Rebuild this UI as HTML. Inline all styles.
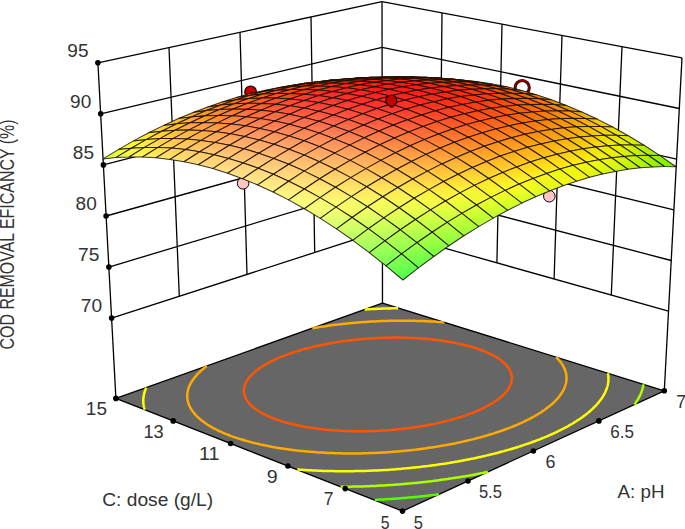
<!DOCTYPE html>
<html><head><meta charset="utf-8"><style>html,body{margin:0;padding:0;background:#fff;overflow:hidden;}svg{display:block;font-family:"Liberation Sans",sans-serif;}</style></head><body>
<svg width="685" height="529" viewBox="0 0 685 529">
<rect width="685" height="529" fill="#fff"/>
<defs><linearGradient id="g0" gradientUnits="userSpaceOnUse" x1="382.7" y1="84.3" x2="382.5" y2="80.7"><stop offset="0" stop-color="#c9f101"/><stop offset="1" stop-color="#f3df02"/></linearGradient><linearGradient id="g1" gradientUnits="userSpaceOnUse" x1="395.9" y1="79.0" x2="395.9" y2="82.0"><stop offset="0" stop-color="#f0c002"/><stop offset="1" stop-color="#e6ee01"/></linearGradient><linearGradient id="g2" gradientUnits="userSpaceOnUse" x1="370.0" y1="79.8" x2="370.1" y2="83.0"><stop offset="0" stop-color="#f3c602"/><stop offset="1" stop-color="#e4f101"/></linearGradient><linearGradient id="g3" gradientUnits="userSpaceOnUse" x1="409.4" y1="77.9" x2="409.4" y2="80.3"><stop offset="0" stop-color="#eea602"/><stop offset="1" stop-color="#ecd801"/></linearGradient><linearGradient id="g4" gradientUnits="userSpaceOnUse" x1="383.4" y1="78.1" x2="383.4" y2="80.6"><stop offset="0" stop-color="#f0a703"/><stop offset="1" stop-color="#eeda02"/></linearGradient><linearGradient id="g5" gradientUnits="userSpaceOnUse" x1="357.3" y1="79.4" x2="357.4" y2="82.0"><stop offset="0" stop-color="#f2af03"/><stop offset="1" stop-color="#f0e302"/></linearGradient><linearGradient id="g6" gradientUnits="userSpaceOnUse" x1="423.1" y1="77.4" x2="423.0" y2="79.2"><stop offset="0" stop-color="#ee9203"/><stop offset="1" stop-color="#ecc002"/></linearGradient><linearGradient id="g7" gradientUnits="userSpaceOnUse" x1="396.9" y1="77.0" x2="396.9" y2="78.9"><stop offset="0" stop-color="#f08f03"/><stop offset="1" stop-color="#eebe02"/></linearGradient><linearGradient id="g8" gradientUnits="userSpaceOnUse" x1="370.7" y1="77.7" x2="370.8" y2="79.7"><stop offset="0" stop-color="#f29303"/><stop offset="1" stop-color="#f0c302"/></linearGradient><linearGradient id="g9" gradientUnits="userSpaceOnUse" x1="344.5" y1="79.5" x2="344.6" y2="81.6"><stop offset="0" stop-color="#f49e04"/><stop offset="1" stop-color="#f2cf02"/></linearGradient><linearGradient id="g10" gradientUnits="userSpaceOnUse" x1="436.9" y1="77.6" x2="436.8" y2="78.8"><stop offset="0" stop-color="#ee8203"/><stop offset="1" stop-color="#ecab02"/></linearGradient><linearGradient id="g11" gradientUnits="userSpaceOnUse" x1="410.6" y1="76.6" x2="410.5" y2="77.9"><stop offset="0" stop-color="#f07b04"/><stop offset="1" stop-color="#eea602"/></linearGradient><linearGradient id="g12" gradientUnits="userSpaceOnUse" x1="384.2" y1="76.7" x2="384.2" y2="78.1"><stop offset="0" stop-color="#f27c04"/><stop offset="1" stop-color="#f0a703"/></linearGradient><linearGradient id="g13" gradientUnits="userSpaceOnUse" x1="357.9" y1="77.8" x2="357.9" y2="79.3"><stop offset="0" stop-color="#f48205"/><stop offset="1" stop-color="#f2af03"/></linearGradient><linearGradient id="g14" gradientUnits="userSpaceOnUse" x1="331.5" y1="80.1" x2="331.6" y2="81.7"><stop offset="0" stop-color="#f69005"/><stop offset="1" stop-color="#f4be03"/></linearGradient><linearGradient id="g15" gradientUnits="userSpaceOnUse" x1="450.9" y1="78.4" x2="450.8" y2="79.0"><stop offset="0" stop-color="#ee7603"/><stop offset="1" stop-color="#ec9b02"/></linearGradient><linearGradient id="g16" gradientUnits="userSpaceOnUse" x1="424.4" y1="76.8" x2="424.4" y2="77.5"><stop offset="0" stop-color="#f06c04"/><stop offset="1" stop-color="#ee9203"/></linearGradient><linearGradient id="g17" gradientUnits="userSpaceOnUse" x1="397.9" y1="76.3" x2="397.9" y2="77.0"><stop offset="0" stop-color="#f26805"/><stop offset="1" stop-color="#f09003"/></linearGradient><linearGradient id="g18" gradientUnits="userSpaceOnUse" x1="371.4" y1="76.8" x2="371.4" y2="77.7"><stop offset="0" stop-color="#f46b05"/><stop offset="1" stop-color="#f29303"/></linearGradient><linearGradient id="g19" gradientUnits="userSpaceOnUse" x1="318.3" y1="81.2" x2="318.4" y2="82.3"><stop offset="0" stop-color="#f88507"/><stop offset="1" stop-color="#f6af04"/></linearGradient><linearGradient id="g20" gradientUnits="userSpaceOnUse" x1="344.9" y1="78.5" x2="344.9" y2="79.4"><stop offset="0" stop-color="#f67506"/><stop offset="1" stop-color="#f49e04"/></linearGradient><linearGradient id="g21" gradientUnits="userSpaceOnUse" x1="465.0" y1="79.9" x2="465.0" y2="79.9"><stop offset="0" stop-color="#ee6b04"/><stop offset="1" stop-color="#ec8903"/></linearGradient><linearGradient id="g22" gradientUnits="userSpaceOnUse" x1="438.4" y1="77.7" x2="438.4" y2="77.7"><stop offset="0" stop-color="#ef6a04"/><stop offset="1" stop-color="#ee7803"/></linearGradient><linearGradient id="g23" gradientUnits="userSpaceOnUse" x1="411.8" y1="76.5" x2="411.8" y2="76.6"><stop offset="0" stop-color="#f25d05"/><stop offset="1" stop-color="#f07d03"/></linearGradient><linearGradient id="g24" gradientUnits="userSpaceOnUse" x1="385.1" y1="76.5" x2="385.1" y2="76.6"><stop offset="0" stop-color="#f45906"/><stop offset="1" stop-color="#f27d04"/></linearGradient><linearGradient id="g25" gradientUnits="userSpaceOnUse" x1="305.0" y1="82.8" x2="305.1" y2="83.4"><stop offset="0" stop-color="#fa7d08"/><stop offset="1" stop-color="#f7a405"/></linearGradient><linearGradient id="g26" gradientUnits="userSpaceOnUse" x1="358.4" y1="77.5" x2="358.4" y2="77.8"><stop offset="0" stop-color="#f65e07"/><stop offset="1" stop-color="#f48305"/></linearGradient><linearGradient id="g27" gradientUnits="userSpaceOnUse" x1="331.7" y1="79.6" x2="331.7" y2="80.0"><stop offset="0" stop-color="#f86a08"/><stop offset="1" stop-color="#f69005"/></linearGradient><linearGradient id="g28" gradientUnits="userSpaceOnUse" x1="479.2" y1="82.1" x2="479.3" y2="81.4"><stop offset="0" stop-color="#ee6804"/><stop offset="1" stop-color="#ec8503"/></linearGradient><linearGradient id="g29" gradientUnits="userSpaceOnUse" x1="452.5" y1="79.2" x2="452.6" y2="78.6"><stop offset="0" stop-color="#f05705"/><stop offset="1" stop-color="#ee7503"/></linearGradient><linearGradient id="g30" gradientUnits="userSpaceOnUse" x1="425.8" y1="77.5" x2="425.8" y2="76.9"><stop offset="0" stop-color="#f24c06"/><stop offset="1" stop-color="#f06b04"/></linearGradient><linearGradient id="g31" gradientUnits="userSpaceOnUse" x1="399.0" y1="76.8" x2="399.0" y2="76.3"><stop offset="0" stop-color="#f44707"/><stop offset="1" stop-color="#f26705"/></linearGradient><linearGradient id="g32" gradientUnits="userSpaceOnUse" x1="291.5" y1="85.0" x2="291.6" y2="85.0"><stop offset="0" stop-color="#fc750b"/><stop offset="1" stop-color="#fa9907"/></linearGradient><linearGradient id="g33" gradientUnits="userSpaceOnUse" x1="372.1" y1="77.2" x2="372.1" y2="76.8"><stop offset="0" stop-color="#f64908"/><stop offset="1" stop-color="#f46a06"/></linearGradient><linearGradient id="g34" gradientUnits="userSpaceOnUse" x1="318.4" y1="81.3" x2="318.4" y2="81.2"><stop offset="0" stop-color="#fa610a"/><stop offset="1" stop-color="#f88107"/></linearGradient><linearGradient id="g35" gradientUnits="userSpaceOnUse" x1="345.3" y1="78.7" x2="345.2" y2="78.4"><stop offset="0" stop-color="#f85209"/><stop offset="1" stop-color="#f67306"/></linearGradient><linearGradient id="g36" gradientUnits="userSpaceOnUse" x1="493.6" y1="84.9" x2="493.9" y2="83.7"><stop offset="0" stop-color="#ee6705"/><stop offset="1" stop-color="#ec8003"/></linearGradient><linearGradient id="g37" gradientUnits="userSpaceOnUse" x1="466.8" y1="81.5" x2="467.0" y2="80.2"><stop offset="0" stop-color="#f05306"/><stop offset="1" stop-color="#ee6c04"/></linearGradient><linearGradient id="g38" gradientUnits="userSpaceOnUse" x1="439.9" y1="79.1" x2="440.0" y2="77.8"><stop offset="0" stop-color="#f24407"/><stop offset="1" stop-color="#f05f05"/></linearGradient><linearGradient id="g39" gradientUnits="userSpaceOnUse" x1="413.0" y1="77.7" x2="413.0" y2="76.6"><stop offset="0" stop-color="#f43c08"/><stop offset="1" stop-color="#f25806"/></linearGradient><linearGradient id="g40" gradientUnits="userSpaceOnUse" x1="386.0" y1="77.5" x2="386.0" y2="76.5"><stop offset="0" stop-color="#f63b0a"/><stop offset="1" stop-color="#f45706"/></linearGradient><linearGradient id="g41" gradientUnits="userSpaceOnUse" x1="277.9" y1="87.7" x2="277.8" y2="87.2"><stop offset="0" stop-color="#fe760d"/><stop offset="1" stop-color="#fc9709"/></linearGradient><linearGradient id="g42" gradientUnits="userSpaceOnUse" x1="359.0" y1="78.4" x2="358.9" y2="77.5"><stop offset="0" stop-color="#f8400b"/><stop offset="1" stop-color="#f65d07"/></linearGradient><linearGradient id="g43" gradientUnits="userSpaceOnUse" x1="304.9" y1="83.5" x2="304.8" y2="82.8"><stop offset="0" stop-color="#fc5e0d"/><stop offset="1" stop-color="#fa7c08"/></linearGradient><linearGradient id="g44" gradientUnits="userSpaceOnUse" x1="332.0" y1="80.4" x2="331.9" y2="79.6"><stop offset="0" stop-color="#fa4c0c"/><stop offset="1" stop-color="#f86908"/></linearGradient><linearGradient id="g45" gradientUnits="userSpaceOnUse" x1="508.1" y1="88.7" x2="508.7" y2="86.4"><stop offset="0" stop-color="#ef6705"/><stop offset="1" stop-color="#ec8303"/></linearGradient><linearGradient id="g46" gradientUnits="userSpaceOnUse" x1="481.2" y1="84.3" x2="481.6" y2="82.5"><stop offset="0" stop-color="#f05206"/><stop offset="1" stop-color="#ee6804"/></linearGradient><linearGradient id="g47" gradientUnits="userSpaceOnUse" x1="454.2" y1="81.3" x2="454.4" y2="79.5"><stop offset="0" stop-color="#f24008"/><stop offset="1" stop-color="#f05705"/></linearGradient><linearGradient id="g48" gradientUnits="userSpaceOnUse" x1="427.1" y1="79.4" x2="427.3" y2="77.6"><stop offset="0" stop-color="#f43509"/><stop offset="1" stop-color="#f24c06"/></linearGradient><linearGradient id="g49" gradientUnits="userSpaceOnUse" x1="400.0" y1="78.6" x2="400.0" y2="76.8"><stop offset="0" stop-color="#f6300b"/><stop offset="1" stop-color="#f44807"/></linearGradient><linearGradient id="g50" gradientUnits="userSpaceOnUse" x1="264.2" y1="91.1" x2="263.9" y2="89.8"><stop offset="0" stop-color="#ff7611"/><stop offset="1" stop-color="#fd980b"/></linearGradient><linearGradient id="g51" gradientUnits="userSpaceOnUse" x1="372.9" y1="78.8" x2="372.8" y2="77.2"><stop offset="0" stop-color="#f8320c"/><stop offset="1" stop-color="#f64a08"/></linearGradient><linearGradient id="g52" gradientUnits="userSpaceOnUse" x1="291.4" y1="86.3" x2="291.1" y2="85.0"><stop offset="0" stop-color="#fe5d10"/><stop offset="1" stop-color="#fc790b"/></linearGradient><linearGradient id="g53" gradientUnits="userSpaceOnUse" x1="345.7" y1="80.2" x2="345.5" y2="78.7"><stop offset="0" stop-color="#fa3a0e"/><stop offset="1" stop-color="#f85309"/></linearGradient><linearGradient id="g54" gradientUnits="userSpaceOnUse" x1="318.5" y1="82.7" x2="318.3" y2="81.3"><stop offset="0" stop-color="#fc490f"/><stop offset="1" stop-color="#fa620a"/></linearGradient><linearGradient id="g55" gradientUnits="userSpaceOnUse" x1="522.4" y1="93.4" x2="523.8" y2="89.5"><stop offset="0" stop-color="#ef6a06"/><stop offset="1" stop-color="#ec8a03"/></linearGradient><linearGradient id="g56" gradientUnits="userSpaceOnUse" x1="495.6" y1="88.3" x2="496.5" y2="85.1"><stop offset="0" stop-color="#f15207"/><stop offset="1" stop-color="#ee6b04"/></linearGradient><linearGradient id="g57" gradientUnits="userSpaceOnUse" x1="468.6" y1="84.2" x2="469.1" y2="81.8"><stop offset="0" stop-color="#f24008"/><stop offset="1" stop-color="#f05306"/></linearGradient><linearGradient id="g58" gradientUnits="userSpaceOnUse" x1="441.4" y1="81.7" x2="441.7" y2="79.3"><stop offset="0" stop-color="#f4320a"/><stop offset="1" stop-color="#f24407"/></linearGradient><linearGradient id="g59" gradientUnits="userSpaceOnUse" x1="414.2" y1="80.3" x2="414.3" y2="77.8"><stop offset="0" stop-color="#f62a0c"/><stop offset="1" stop-color="#f43d08"/></linearGradient><linearGradient id="g60" gradientUnits="userSpaceOnUse" x1="250.4" y1="95.0" x2="249.8" y2="93.0"><stop offset="0" stop-color="#ff7915"/><stop offset="1" stop-color="#ff9b0d"/></linearGradient><linearGradient id="g61" gradientUnits="userSpaceOnUse" x1="386.9" y1="79.9" x2="386.9" y2="77.5"><stop offset="0" stop-color="#f8280e"/><stop offset="1" stop-color="#f63b0a"/></linearGradient><linearGradient id="g62" gradientUnits="userSpaceOnUse" x1="277.7" y1="89.8" x2="277.1" y2="87.6"><stop offset="0" stop-color="#ff5d14"/><stop offset="1" stop-color="#fe7b0c"/></linearGradient><linearGradient id="g63" gradientUnits="userSpaceOnUse" x1="359.6" y1="80.7" x2="359.4" y2="78.4"><stop offset="0" stop-color="#fa2d10"/><stop offset="1" stop-color="#f8400b"/></linearGradient><linearGradient id="g64" gradientUnits="userSpaceOnUse" x1="305.0" y1="85.6" x2="304.5" y2="83.4"><stop offset="0" stop-color="#fe4713"/><stop offset="1" stop-color="#fc600c"/></linearGradient><linearGradient id="g65" gradientUnits="userSpaceOnUse" x1="332.3" y1="82.5" x2="332.0" y2="80.4"><stop offset="0" stop-color="#fc3811"/><stop offset="1" stop-color="#fa4c0c"/></linearGradient><linearGradient id="g66" gradientUnits="userSpaceOnUse" x1="536.5" y1="99.2" x2="539.6" y2="93.1"><stop offset="0" stop-color="#f07106"/><stop offset="1" stop-color="#eb9503"/></linearGradient><linearGradient id="g67" gradientUnits="userSpaceOnUse" x1="509.8" y1="93.4" x2="511.9" y2="88.0"><stop offset="0" stop-color="#f25508"/><stop offset="1" stop-color="#ee7204"/></linearGradient><linearGradient id="g68" gradientUnits="userSpaceOnUse" x1="482.8" y1="88.5" x2="484.2" y2="84.2"><stop offset="0" stop-color="#f34009"/><stop offset="1" stop-color="#f05706"/></linearGradient><linearGradient id="g69" gradientUnits="userSpaceOnUse" x1="455.8" y1="84.7" x2="456.5" y2="81.6"><stop offset="0" stop-color="#f4320b"/><stop offset="1" stop-color="#f24108"/></linearGradient><linearGradient id="g70" gradientUnits="userSpaceOnUse" x1="428.5" y1="82.6" x2="428.8" y2="79.6"><stop offset="0" stop-color="#f6270d"/><stop offset="1" stop-color="#f43509"/></linearGradient><linearGradient id="g71" gradientUnits="userSpaceOnUse" x1="236.6" y1="99.8" x2="235.3" y2="96.5"><stop offset="0" stop-color="#ff7d1a"/><stop offset="1" stop-color="#ffa20e"/></linearGradient><linearGradient id="g72" gradientUnits="userSpaceOnUse" x1="401.1" y1="81.7" x2="401.2" y2="78.6"><stop offset="0" stop-color="#f8220f"/><stop offset="1" stop-color="#f6310b"/></linearGradient><linearGradient id="g73" gradientUnits="userSpaceOnUse" x1="550.0" y1="105.9" x2="556.2" y2="97.3"><stop offset="0" stop-color="#f17b07"/><stop offset="1" stop-color="#eba403"/></linearGradient><linearGradient id="g74" gradientUnits="userSpaceOnUse" x1="264.0" y1="94.1" x2="262.8" y2="90.6"><stop offset="0" stop-color="#ff6019"/><stop offset="1" stop-color="#ff7f0f"/></linearGradient><linearGradient id="g75" gradientUnits="userSpaceOnUse" x1="373.7" y1="81.8" x2="373.5" y2="78.8"><stop offset="0" stop-color="#fa2312"/><stop offset="1" stop-color="#f8320c"/></linearGradient><linearGradient id="g76" gradientUnits="userSpaceOnUse" x1="291.5" y1="89.4" x2="290.4" y2="85.8"><stop offset="0" stop-color="#ff4818"/><stop offset="1" stop-color="#fe620e"/></linearGradient><linearGradient id="g77" gradientUnits="userSpaceOnUse" x1="346.3" y1="83.0" x2="345.8" y2="80.2"><stop offset="0" stop-color="#fc2b14"/><stop offset="1" stop-color="#fa3a0e"/></linearGradient><linearGradient id="g78" gradientUnits="userSpaceOnUse" x1="318.9" y1="85.8" x2="318.0" y2="82.3"><stop offset="0" stop-color="#fe3616"/><stop offset="1" stop-color="#fc4c0e"/></linearGradient><linearGradient id="g79" gradientUnits="userSpaceOnUse" x1="523.3" y1="99.5" x2="528.3" y2="91.4"><stop offset="0" stop-color="#f35c09"/><stop offset="1" stop-color="#ed7e04"/></linearGradient><linearGradient id="g80" gradientUnits="userSpaceOnUse" x1="496.5" y1="94.1" x2="500.2" y2="86.8"><stop offset="0" stop-color="#f4430b"/><stop offset="1" stop-color="#ef5e05"/></linearGradient><linearGradient id="g81" gradientUnits="userSpaceOnUse" x1="469.7" y1="89.6" x2="471.9" y2="83.6"><stop offset="0" stop-color="#f5320c"/><stop offset="1" stop-color="#f24507"/></linearGradient><linearGradient id="g82" gradientUnits="userSpaceOnUse" x1="442.7" y1="85.9" x2="443.7" y2="81.8"><stop offset="0" stop-color="#f7270e"/><stop offset="1" stop-color="#f4330a"/></linearGradient><linearGradient id="g83" gradientUnits="userSpaceOnUse" x1="562.4" y1="112.9" x2="574.3" y2="102.5"><stop offset="0" stop-color="#f28907"/><stop offset="1" stop-color="#eab602"/></linearGradient><linearGradient id="g84" gradientUnits="userSpaceOnUse" x1="222.9" y1="105.4" x2="220.5" y2="100.4"><stop offset="0" stop-color="#ff8420"/><stop offset="1" stop-color="#ffac10"/></linearGradient><linearGradient id="g85" gradientUnits="userSpaceOnUse" x1="415.4" y1="84.1" x2="415.7" y2="80.4"><stop offset="0" stop-color="#f81f11"/><stop offset="1" stop-color="#f62a0c"/></linearGradient><linearGradient id="g86" gradientUnits="userSpaceOnUse" x1="250.5" y1="99.3" x2="248.0" y2="93.8"><stop offset="0" stop-color="#ff6520"/><stop offset="1" stop-color="#ff8710"/></linearGradient><linearGradient id="g87" gradientUnits="userSpaceOnUse" x1="387.9" y1="83.7" x2="387.7" y2="79.9"><stop offset="0" stop-color="#fa1e13"/><stop offset="1" stop-color="#f8280e"/></linearGradient><linearGradient id="g88" gradientUnits="userSpaceOnUse" x1="278.1" y1="94.1" x2="275.8" y2="88.5"><stop offset="0" stop-color="#ff4b1f"/><stop offset="1" stop-color="#ff6810"/></linearGradient><linearGradient id="g89" gradientUnits="userSpaceOnUse" x1="360.5" y1="84.4" x2="359.7" y2="80.4"><stop offset="0" stop-color="#fc2216"/><stop offset="1" stop-color="#fa2d0f"/></linearGradient><linearGradient id="g90" gradientUnits="userSpaceOnUse" x1="535.5" y1="106.2" x2="546.3" y2="95.6"><stop offset="0" stop-color="#f46609"/><stop offset="1" stop-color="#ec8d03"/></linearGradient><linearGradient id="g91" gradientUnits="userSpaceOnUse" x1="305.7" y1="90.2" x2="303.5" y2="84.2"><stop offset="0" stop-color="#ff371d"/><stop offset="1" stop-color="#fe4f0f"/></linearGradient><linearGradient id="g92" gradientUnits="userSpaceOnUse" x1="333.3" y1="87.1" x2="331.4" y2="81.3"><stop offset="0" stop-color="#ff291b"/><stop offset="1" stop-color="#fb3c0f"/></linearGradient><linearGradient id="g93" gradientUnits="userSpaceOnUse" x1="508.7" y1="100.6" x2="518.0" y2="89.9"><stop offset="0" stop-color="#f54a0c"/><stop offset="1" stop-color="#ee6a04"/></linearGradient><linearGradient id="g94" gradientUnits="userSpaceOnUse" x1="482.1" y1="95.9" x2="489.3" y2="85.5"><stop offset="0" stop-color="#f7350f"/><stop offset="1" stop-color="#f14e06"/></linearGradient><linearGradient id="g95" gradientUnits="userSpaceOnUse" x1="573.8" y1="119.1" x2="593.5" y2="110.1"><stop offset="0" stop-color="#f29c07"/><stop offset="1" stop-color="#ebcc02"/></linearGradient><linearGradient id="g96" gradientUnits="userSpaceOnUse" x1="455.6" y1="91.9" x2="460.3" y2="82.8"><stop offset="0" stop-color="#f82611"/><stop offset="1" stop-color="#f33808"/></linearGradient><linearGradient id="g97" gradientUnits="userSpaceOnUse" x1="209.4" y1="111.7" x2="205.0" y2="104.7"><stop offset="0" stop-color="#ff8e28"/><stop offset="1" stop-color="#ffb911"/></linearGradient><linearGradient id="g98" gradientUnits="userSpaceOnUse" x1="429.2" y1="88.1" x2="431.1" y2="82.0"><stop offset="0" stop-color="#f91f13"/><stop offset="1" stop-color="#f6280c"/></linearGradient><linearGradient id="g99" gradientUnits="userSpaceOnUse" x1="546.3" y1="111.9" x2="565.9" y2="102.4"><stop offset="0" stop-color="#f47509"/><stop offset="1" stop-color="#ec9f03"/></linearGradient><linearGradient id="g100" gradientUnits="userSpaceOnUse" x1="237.5" y1="105.4" x2="232.4" y2="97.3"><stop offset="0" stop-color="#ff6d28"/><stop offset="1" stop-color="#ff9211"/></linearGradient><linearGradient id="g101" gradientUnits="userSpaceOnUse" x1="402.2" y1="86.2" x2="402.3" y2="81.7"><stop offset="0" stop-color="#fb1c15"/><stop offset="1" stop-color="#f8220f"/></linearGradient><linearGradient id="g102" gradientUnits="userSpaceOnUse" x1="265.7" y1="100.1" x2="259.8" y2="91.0"><stop offset="0" stop-color="#ff5128"/><stop offset="1" stop-color="#ff7110"/></linearGradient><linearGradient id="g103" gradientUnits="userSpaceOnUse" x1="375.4" y1="87.5" x2="373.3" y2="80.4"><stop offset="0" stop-color="#fd1b1a"/><stop offset="1" stop-color="#f9250f"/></linearGradient><linearGradient id="g104" gradientUnits="userSpaceOnUse" x1="293.7" y1="95.8" x2="287.5" y2="86.1"><stop offset="0" stop-color="#ff3b27"/><stop offset="1" stop-color="#ff5610"/></linearGradient><linearGradient id="g105" gradientUnits="userSpaceOnUse" x1="349.9" y1="90.8" x2="343.0" y2="79.5"><stop offset="0" stop-color="#ff1f21"/><stop offset="1" stop-color="#fa310d"/></linearGradient><linearGradient id="g106" gradientUnits="userSpaceOnUse" x1="322.0" y1="92.8" x2="315.1" y2="82.1"><stop offset="0" stop-color="#ff2a25"/><stop offset="1" stop-color="#fd410e"/></linearGradient><linearGradient id="g107" gradientUnits="userSpaceOnUse" x1="518.6" y1="105.8" x2="538.3" y2="95.8"><stop offset="0" stop-color="#f6550c"/><stop offset="1" stop-color="#ee7904"/></linearGradient><linearGradient id="g108" gradientUnits="userSpaceOnUse" x1="490.7" y1="100.8" x2="510.7" y2="90.4"><stop offset="0" stop-color="#f73c10"/><stop offset="1" stop-color="#f05906"/></linearGradient><linearGradient id="g109" gradientUnits="userSpaceOnUse" x1="586.0" y1="123.8" x2="612.2" y2="120.7"><stop offset="0" stop-color="#f2b207"/><stop offset="1" stop-color="#ece603"/></linearGradient><linearGradient id="g110" gradientUnits="userSpaceOnUse" x1="462.5" y1="96.8" x2="483.2" y2="86.2"><stop offset="0" stop-color="#f92a13"/><stop offset="1" stop-color="#f24007"/></linearGradient><linearGradient id="g111" gradientUnits="userSpaceOnUse" x1="196.4" y1="118.7" x2="188.7" y2="109.6"><stop offset="0" stop-color="#ff9b30"/><stop offset="1" stop-color="#ffc912"/></linearGradient><linearGradient id="g112" gradientUnits="userSpaceOnUse" x1="558.0" y1="115.2" x2="585.0" y2="113.1"><stop offset="0" stop-color="#f38809"/><stop offset="1" stop-color="#eeb504"/></linearGradient><linearGradient id="g113" gradientUnits="userSpaceOnUse" x1="433.4" y1="93.4" x2="456.4" y2="83.8"><stop offset="0" stop-color="#fb1f17"/><stop offset="1" stop-color="#f42e0a"/></linearGradient><linearGradient id="g114" gradientUnits="userSpaceOnUse" x1="225.7" y1="112.0" x2="215.2" y2="101.4"><stop offset="0" stop-color="#ff7732"/><stop offset="1" stop-color="#ffa011"/></linearGradient><linearGradient id="g115" gradientUnits="userSpaceOnUse" x1="403.1" y1="84.5" x2="430.6" y2="89.2"><stop offset="0" stop-color="#fa1d13"/><stop offset="1" stop-color="#f92014"/></linearGradient><linearGradient id="g116" gradientUnits="userSpaceOnUse" x1="255.9" y1="106.1" x2="241.0" y2="94.7"><stop offset="0" stop-color="#ff5a32"/><stop offset="1" stop-color="#ff7d11"/></linearGradient><linearGradient id="g117" gradientUnits="userSpaceOnUse" x1="393.1" y1="79.7" x2="384.5" y2="92.7"><stop offset="0" stop-color="#f81f0e"/><stop offset="1" stop-color="#ff1b20"/></linearGradient><linearGradient id="g118" gradientUnits="userSpaceOnUse" x1="529.9" y1="107.2" x2="557.6" y2="107.0"><stop offset="0" stop-color="#f4650b"/><stop offset="1" stop-color="#f08a06"/></linearGradient><linearGradient id="g119" gradientUnits="userSpaceOnUse" x1="286.8" y1="100.4" x2="266.2" y2="90.1"><stop offset="0" stop-color="#ff422f"/><stop offset="1" stop-color="#ff6012"/></linearGradient><linearGradient id="g120" gradientUnits="userSpaceOnUse" x1="369.1" y1="79.6" x2="352.3" y2="93.9"><stop offset="0" stop-color="#fa210e"/><stop offset="1" stop-color="#ff2225"/></linearGradient><linearGradient id="g121" gradientUnits="userSpaceOnUse" x1="317.4" y1="94.4" x2="291.7" y2="88.1"><stop offset="0" stop-color="#ff3127"/><stop offset="1" stop-color="#ff4716"/></linearGradient><linearGradient id="g122" gradientUnits="userSpaceOnUse" x1="346.5" y1="86.3" x2="318.7" y2="90.5"><stop offset="0" stop-color="#fe261a"/><stop offset="1" stop-color="#ff3220"/></linearGradient><linearGradient id="g123" gradientUnits="userSpaceOnUse" x1="610.2" y1="121.4" x2="619.3" y2="139.8"><stop offset="0" stop-color="#e8da03"/><stop offset="1" stop-color="#ecec06"/></linearGradient><linearGradient id="g124" gradientUnits="userSpaceOnUse" x1="501.8" y1="99.4" x2="529.9" y2="103.0"><stop offset="0" stop-color="#f5490d"/><stop offset="1" stop-color="#f36609"/></linearGradient><linearGradient id="g125" gradientUnits="userSpaceOnUse" x1="475.1" y1="91.3" x2="500.6" y2="101.7"><stop offset="0" stop-color="#f5350d"/><stop offset="1" stop-color="#f6480e"/></linearGradient><linearGradient id="g126" gradientUnits="userSpaceOnUse" x1="573.0" y1="118.3" x2="601.1" y2="125.4"><stop offset="0" stop-color="#f2a007"/><stop offset="1" stop-color="#f0ce05"/></linearGradient><linearGradient id="g127" gradientUnits="userSpaceOnUse" x1="184.0" y1="125.8" x2="171.7" y2="115.5"><stop offset="0" stop-color="#ffaa37"/><stop offset="1" stop-color="#ffdb14"/></linearGradient><linearGradient id="g128" gradientUnits="userSpaceOnUse" x1="452.6" y1="85.1" x2="467.0" y2="100.7"><stop offset="0" stop-color="#f5280c"/><stop offset="1" stop-color="#fa3116"/></linearGradient><linearGradient id="g129" gradientUnits="userSpaceOnUse" x1="215.2" y1="117.7" x2="196.5" y2="107.7"><stop offset="0" stop-color="#ff8539"/><stop offset="1" stop-color="#ffb015"/></linearGradient><linearGradient id="g130" gradientUnits="userSpaceOnUse" x1="430.4" y1="85.9" x2="432.9" y2="94.9"><stop offset="0" stop-color="#f82010"/><stop offset="1" stop-color="#fb2319"/></linearGradient><linearGradient id="g131" gradientUnits="userSpaceOnUse" x1="545.8" y1="109.0" x2="572.5" y2="119.3"><stop offset="0" stop-color="#f37909"/><stop offset="1" stop-color="#f2a008"/></linearGradient><linearGradient id="g132" gradientUnits="userSpaceOnUse" x1="247.4" y1="107.5" x2="220.5" y2="104.2"><stop offset="0" stop-color="#ff6831"/><stop offset="1" stop-color="#ff8a1c"/></linearGradient><linearGradient id="g133" gradientUnits="userSpaceOnUse" x1="403.5" y1="86.2" x2="403.3" y2="92.1"><stop offset="0" stop-color="#fa1c15"/><stop offset="1" stop-color="#fd1e1c"/></linearGradient><linearGradient id="g134" gradientUnits="userSpaceOnUse" x1="642.1" y1="136.6" x2="618.9" y2="143.0"><stop offset="0" stop-color="#beed03"/><stop offset="1" stop-color="#edef06"/></linearGradient><linearGradient id="g135" gradientUnits="userSpaceOnUse" x1="275.3" y1="95.1" x2="249.0" y2="105.3"><stop offset="0" stop-color="#ff5120"/><stop offset="1" stop-color="#ff682c"/></linearGradient><linearGradient id="g136" gradientUnits="userSpaceOnUse" x1="375.9" y1="85.9" x2="374.5" y2="92.2"><stop offset="0" stop-color="#fc1d18"/><stop offset="1" stop-color="#ff2021"/></linearGradient><linearGradient id="g137" gradientUnits="userSpaceOnUse" x1="298.7" y1="87.6" x2="282.0" y2="103.7"><stop offset="0" stop-color="#ff3d17"/><stop offset="1" stop-color="#ff4d33"/></linearGradient><linearGradient id="g138" gradientUnits="userSpaceOnUse" x1="349.1" y1="84.5" x2="344.7" y2="95.6"><stop offset="0" stop-color="#fe2317"/><stop offset="1" stop-color="#ff2a28"/></linearGradient><linearGradient id="g139" gradientUnits="userSpaceOnUse" x1="323.3" y1="84.9" x2="313.9" y2="99.7"><stop offset="0" stop-color="#ff2e16"/><stop offset="1" stop-color="#ff392f"/></linearGradient><linearGradient id="g140" gradientUnits="userSpaceOnUse" x1="519.6" y1="100.6" x2="542.8" y2="114.6"><stop offset="0" stop-color="#f35a0a"/><stop offset="1" stop-color="#f5780b"/></linearGradient><linearGradient id="g141" gradientUnits="userSpaceOnUse" x1="589.9" y1="123.7" x2="615.5" y2="137.0"><stop offset="0" stop-color="#f1bb06"/><stop offset="1" stop-color="#f1ec06"/></linearGradient><linearGradient id="g142" gradientUnits="userSpaceOnUse" x1="495.0" y1="93.9" x2="511.1" y2="110.5"><stop offset="0" stop-color="#f4420b"/><stop offset="1" stop-color="#f85611"/></linearGradient><linearGradient id="g143" gradientUnits="userSpaceOnUse" x1="471.1" y1="90.7" x2="478.6" y2="105.1"><stop offset="0" stop-color="#f6300d"/><stop offset="1" stop-color="#fa3d15"/></linearGradient><linearGradient id="g144" gradientUnits="userSpaceOnUse" x1="171.7" y1="132.7" x2="154.1" y2="122.9"><stop offset="0" stop-color="#ffbb3e"/><stop offset="1" stop-color="#ffee18"/></linearGradient><linearGradient id="g145" gradientUnits="userSpaceOnUse" x1="563.4" y1="114.2" x2="586.1" y2="129.8"><stop offset="0" stop-color="#f29008"/><stop offset="1" stop-color="#f3b908"/></linearGradient><linearGradient id="g146" gradientUnits="userSpaceOnUse" x1="445.7" y1="90.7" x2="447.5" y2="98.9"><stop offset="0" stop-color="#f82512"/><stop offset="1" stop-color="#fb2b19"/></linearGradient><linearGradient id="g147" gradientUnits="userSpaceOnUse" x1="204.2" y1="121.5" x2="178.0" y2="117.1"><stop offset="0" stop-color="#ff963a"/><stop offset="1" stop-color="#ffc11e"/></linearGradient><linearGradient id="g148" gradientUnits="userSpaceOnUse" x1="659.4" y1="148.3" x2="633.3" y2="151.3"><stop offset="0" stop-color="#97ed03"/><stop offset="1" stop-color="#cef205"/></linearGradient><linearGradient id="g149" gradientUnits="userSpaceOnUse" x1="418.1" y1="89.5" x2="418.3" y2="96.3"><stop offset="0" stop-color="#fb1d16"/><stop offset="1" stop-color="#fd241d"/></linearGradient><linearGradient id="g150" gradientUnits="userSpaceOnUse" x1="232.7" y1="106.6" x2="205.9" y2="117.2"><stop offset="0" stop-color="#ff7928"/><stop offset="1" stop-color="#ff9831"/></linearGradient><linearGradient id="g151" gradientUnits="userSpaceOnUse" x1="537.7" y1="106.1" x2="555.6" y2="123.4"><stop offset="0" stop-color="#f36d09"/><stop offset="1" stop-color="#f68e0c"/></linearGradient><linearGradient id="g152" gradientUnits="userSpaceOnUse" x1="390.1" y1="88.9" x2="389.5" y2="95.3"><stop offset="0" stop-color="#fd1c1a"/><stop offset="1" stop-color="#ff2322"/></linearGradient><linearGradient id="g153" gradientUnits="userSpaceOnUse" x1="255.3" y1="97.1" x2="240.0" y2="114.3"><stop offset="0" stop-color="#ff601d"/><stop offset="1" stop-color="#ff763b"/></linearGradient><linearGradient id="g154" gradientUnits="userSpaceOnUse" x1="361.9" y1="89.4" x2="360.8" y2="95.6"><stop offset="0" stop-color="#ff211e"/><stop offset="1" stop-color="#ff2827"/></linearGradient><linearGradient id="g155" gradientUnits="userSpaceOnUse" x1="279.9" y1="93.1" x2="272.2" y2="108.2"><stop offset="0" stop-color="#ff491d"/><stop offset="1" stop-color="#ff5b39"/></linearGradient><linearGradient id="g156" gradientUnits="userSpaceOnUse" x1="334.1" y1="89.5" x2="331.7" y2="98.5"><stop offset="0" stop-color="#ff291f"/><stop offset="1" stop-color="#ff342d"/></linearGradient><linearGradient id="g157" gradientUnits="userSpaceOnUse" x1="306.6" y1="90.8" x2="302.3" y2="102.7"><stop offset="0" stop-color="#ff371f"/><stop offset="1" stop-color="#ff4533"/></linearGradient><linearGradient id="g158" gradientUnits="userSpaceOnUse" x1="612.1" y1="129.8" x2="624.9" y2="149.4"><stop offset="0" stop-color="#f1e205"/><stop offset="1" stop-color="#def206"/></linearGradient><linearGradient id="g159" gradientUnits="userSpaceOnUse" x1="512.5" y1="100.2" x2="524.3" y2="117.1"><stop offset="0" stop-color="#f4510b"/><stop offset="1" stop-color="#f86910"/></linearGradient><linearGradient id="g160" gradientUnits="userSpaceOnUse" x1="487.2" y1="96.8" x2="493.0" y2="110.6"><stop offset="0" stop-color="#f63c0e"/><stop offset="1" stop-color="#fa4c15"/></linearGradient><linearGradient id="g161" gradientUnits="userSpaceOnUse" x1="580.8" y1="121.6" x2="600.1" y2="139.5"><stop offset="0" stop-color="#f2ab07"/><stop offset="1" stop-color="#f4d708"/></linearGradient><linearGradient id="g162" gradientUnits="userSpaceOnUse" x1="158.8" y1="139.5" x2="136.9" y2="131.7"><stop offset="0" stop-color="#ffd042"/><stop offset="1" stop-color="#feff1e"/></linearGradient><linearGradient id="g163" gradientUnits="userSpaceOnUse" x1="676.4" y1="161.2" x2="648.2" y2="159.9"><stop offset="0" stop-color="#6dee03"/><stop offset="1" stop-color="#aaf205"/></linearGradient><linearGradient id="g164" gradientUnits="userSpaceOnUse" x1="460.8" y1="95.6" x2="462.5" y2="104.2"><stop offset="0" stop-color="#f92d13"/><stop offset="1" stop-color="#fb3719"/></linearGradient><linearGradient id="g165" gradientUnits="userSpaceOnUse" x1="190.6" y1="125.0" x2="161.7" y2="128.1"><stop offset="0" stop-color="#ffaa39"/><stop offset="1" stop-color="#ffd42b"/></linearGradient><linearGradient id="g166" gradientUnits="userSpaceOnUse" x1="554.8" y1="113.5" x2="569.7" y2="131.8"><stop offset="0" stop-color="#f38409"/><stop offset="1" stop-color="#f6a80c"/></linearGradient><linearGradient id="g167" gradientUnits="userSpaceOnUse" x1="433.0" y1="93.5" x2="433.4" y2="101.2"><stop offset="0" stop-color="#fb2317"/><stop offset="1" stop-color="#fd2c1e"/></linearGradient><linearGradient id="g168" gradientUnits="userSpaceOnUse" x1="215.0" y1="110.3" x2="194.0" y2="126.9"><stop offset="0" stop-color="#ff8c27"/><stop offset="1" stop-color="#ffa93f"/></linearGradient><linearGradient id="g169" gradientUnits="userSpaceOnUse" x1="648.7" y1="150.6" x2="620.1" y2="148.8"><stop offset="0" stop-color="#afef04"/><stop offset="1" stop-color="#e7f307"/></linearGradient><linearGradient id="g170" gradientUnits="userSpaceOnUse" x1="404.8" y1="92.2" x2="404.4" y2="99.6"><stop offset="0" stop-color="#fd1e1c"/><stop offset="1" stop-color="#ff2924"/></linearGradient><linearGradient id="g171" gradientUnits="userSpaceOnUse" x1="238.0" y1="103.3" x2="228.0" y2="120.4"><stop offset="0" stop-color="#ff7024"/><stop offset="1" stop-color="#ff8742"/></linearGradient><linearGradient id="g172" gradientUnits="userSpaceOnUse" x1="376.4" y1="92.1" x2="375.6" y2="99.2"><stop offset="0" stop-color="#ff2020"/><stop offset="1" stop-color="#ff2b29"/></linearGradient><linearGradient id="g173" gradientUnits="userSpaceOnUse" x1="264.0" y1="99.4" x2="259.0" y2="113.0"><stop offset="0" stop-color="#ff5726"/><stop offset="1" stop-color="#ff6b3f"/></linearGradient><linearGradient id="g174" gradientUnits="userSpaceOnUse" x1="347.9" y1="93.1" x2="346.8" y2="100.0"><stop offset="0" stop-color="#ff2824"/><stop offset="1" stop-color="#ff332e"/></linearGradient><linearGradient id="g175" gradientUnits="userSpaceOnUse" x1="529.0" y1="107.4" x2="538.9" y2="124.4"><stop offset="0" stop-color="#f5640b"/><stop offset="1" stop-color="#f88010"/></linearGradient><linearGradient id="g176" gradientUnits="userSpaceOnUse" x1="291.5" y1="96.5" x2="288.7" y2="107.1"><stop offset="0" stop-color="#ff4327"/><stop offset="1" stop-color="#ff5439"/></linearGradient><linearGradient id="g177" gradientUnits="userSpaceOnUse" x1="319.6" y1="94.4" x2="317.9" y2="102.7"><stop offset="0" stop-color="#ff3326"/><stop offset="1" stop-color="#ff4134"/></linearGradient><linearGradient id="g178" gradientUnits="userSpaceOnUse" x1="602.2" y1="130.9" x2="610.4" y2="149.0"><stop offset="0" stop-color="#efcf06"/><stop offset="1" stop-color="#f2f108"/></linearGradient><linearGradient id="g179" gradientUnits="userSpaceOnUse" x1="502.9" y1="103.3" x2="508.1" y2="117.2"><stop offset="0" stop-color="#f74b0f"/><stop offset="1" stop-color="#fa5f14"/></linearGradient><linearGradient id="g180" gradientUnits="userSpaceOnUse" x1="139.3" y1="133.9" x2="126.0" y2="154.0"><stop offset="0" stop-color="#fbf625"/><stop offset="1" stop-color="#f7fc45"/></linearGradient><linearGradient id="g181" gradientUnits="userSpaceOnUse" x1="476.0" y1="101.1" x2="477.9" y2="110.5"><stop offset="0" stop-color="#f93913"/><stop offset="1" stop-color="#fb4619"/></linearGradient><linearGradient id="g182" gradientUnits="userSpaceOnUse" x1="175.4" y1="130.3" x2="146.7" y2="138.4"><stop offset="0" stop-color="#ffbf3a"/><stop offset="1" stop-color="#ffe836"/></linearGradient><linearGradient id="g183" gradientUnits="userSpaceOnUse" x1="571.4" y1="122.0" x2="584.6" y2="140.7"><stop offset="0" stop-color="#f39e09"/><stop offset="1" stop-color="#f6c70b"/></linearGradient><linearGradient id="g184" gradientUnits="userSpaceOnUse" x1="665.0" y1="163.7" x2="635.9" y2="157.4"><stop offset="0" stop-color="#84f004"/><stop offset="1" stop-color="#c2f306"/></linearGradient><linearGradient id="g185" gradientUnits="userSpaceOnUse" x1="448.0" y1="98.3" x2="448.6" y2="106.8"><stop offset="0" stop-color="#fb2b18"/><stop offset="1" stop-color="#fd381e"/></linearGradient><linearGradient id="g186" gradientUnits="userSpaceOnUse" x1="198.3" y1="116.7" x2="180.8" y2="135.1"><stop offset="0" stop-color="#ff9f2c"/><stop offset="1" stop-color="#ffbd47"/></linearGradient><linearGradient id="g187" gradientUnits="userSpaceOnUse" x1="419.7" y1="96.3" x2="419.5" y2="104.6"><stop offset="0" stop-color="#fd241d"/><stop offset="1" stop-color="#ff3125"/></linearGradient><linearGradient id="g188" gradientUnits="userSpaceOnUse" x1="222.1" y1="110.3" x2="214.3" y2="126.9"><stop offset="0" stop-color="#ff822b"/><stop offset="1" stop-color="#ff9a49"/></linearGradient><linearGradient id="g189" gradientUnits="userSpaceOnUse" x1="545.1" y1="115.3" x2="554.1" y2="132.5"><stop offset="0" stop-color="#f57a0b"/><stop offset="1" stop-color="#f89b0f"/></linearGradient><linearGradient id="g190" gradientUnits="userSpaceOnUse" x1="391.1" y1="95.5" x2="390.5" y2="103.5"><stop offset="0" stop-color="#ff2322"/><stop offset="1" stop-color="#ff312b"/></linearGradient><linearGradient id="g191" gradientUnits="userSpaceOnUse" x1="248.8" y1="106.0" x2="244.9" y2="118.9"><stop offset="0" stop-color="#ff682e"/><stop offset="1" stop-color="#ff7d45"/></linearGradient><linearGradient id="g192" gradientUnits="userSpaceOnUse" x1="362.5" y1="95.8" x2="361.5" y2="103.6"><stop offset="0" stop-color="#ff2827"/><stop offset="1" stop-color="#ff3631"/></linearGradient><linearGradient id="g193" gradientUnits="userSpaceOnUse" x1="632.4" y1="159.4" x2="612.1" y2="140.8"><stop offset="0" stop-color="#c6f407"/><stop offset="1" stop-color="#f6ee07"/></linearGradient><linearGradient id="g194" gradientUnits="userSpaceOnUse" x1="276.7" y1="102.4" x2="274.5" y2="112.6"><stop offset="0" stop-color="#ff522f"/><stop offset="1" stop-color="#ff6440"/></linearGradient><linearGradient id="g195" gradientUnits="userSpaceOnUse" x1="333.8" y1="97.3" x2="332.6" y2="105.0"><stop offset="0" stop-color="#ff322b"/><stop offset="1" stop-color="#ff4136"/></linearGradient><linearGradient id="g196" gradientUnits="userSpaceOnUse" x1="305.1" y1="99.7" x2="303.7" y2="107.8"><stop offset="0" stop-color="#ff402e"/><stop offset="1" stop-color="#ff503b"/></linearGradient><linearGradient id="g197" gradientUnits="userSpaceOnUse" x1="518.5" y1="110.5" x2="523.6" y2="124.7"><stop offset="0" stop-color="#f75d0f"/><stop offset="1" stop-color="#fa7613"/></linearGradient><linearGradient id="g198" gradientUnits="userSpaceOnUse" x1="109.3" y1="148.2" x2="125.2" y2="157.9"><stop offset="0" stop-color="#d4ff29"/><stop offset="1" stop-color="#f9ff4c"/></linearGradient><linearGradient id="g199" gradientUnits="userSpaceOnUse" x1="587.8" y1="131.3" x2="600.0" y2="150.4"><stop offset="0" stop-color="#f4bd08"/><stop offset="1" stop-color="#f7e90a"/></linearGradient><linearGradient id="g200" gradientUnits="userSpaceOnUse" x1="491.3" y1="107.3" x2="493.5" y2="117.6"><stop offset="0" stop-color="#f94813"/><stop offset="1" stop-color="#fc5918"/></linearGradient><linearGradient id="g201" gradientUnits="userSpaceOnUse" x1="159.9" y1="137.7" x2="131.7" y2="148.1"><stop offset="0" stop-color="#ffd53e"/><stop offset="1" stop-color="#ffff3d"/></linearGradient><linearGradient id="g202" gradientUnits="userSpaceOnUse" x1="463.2" y1="103.8" x2="464.0" y2="113.2"><stop offset="0" stop-color="#fb3718"/><stop offset="1" stop-color="#fd471e"/></linearGradient><linearGradient id="g203" gradientUnits="userSpaceOnUse" x1="182.5" y1="124.3" x2="166.4" y2="143.4"><stop offset="0" stop-color="#ffb432"/><stop offset="1" stop-color="#ffd24e"/></linearGradient><linearGradient id="g204" gradientUnits="userSpaceOnUse" x1="561.1" y1="124.0" x2="569.7" y2="141.4"><stop offset="0" stop-color="#f5950b"/><stop offset="1" stop-color="#f8b90e"/></linearGradient><linearGradient id="g205" gradientUnits="userSpaceOnUse" x1="434.7" y1="101.1" x2="434.7" y2="110.3"><stop offset="0" stop-color="#fd2c1e"/><stop offset="1" stop-color="#ff3d25"/></linearGradient><linearGradient id="g206" gradientUnits="userSpaceOnUse" x1="652.4" y1="166.8" x2="624.3" y2="155.5"><stop offset="0" stop-color="#99f305"/><stop offset="1" stop-color="#d7f407"/></linearGradient><linearGradient id="g207" gradientUnits="userSpaceOnUse" x1="206.7" y1="117.7" x2="199.7" y2="134.2"><stop offset="0" stop-color="#ff9533"/><stop offset="1" stop-color="#ffaf50"/></linearGradient><linearGradient id="g208" gradientUnits="userSpaceOnUse" x1="406.0" y1="99.7" x2="405.6" y2="108.6"><stop offset="0" stop-color="#ff2923"/><stop offset="1" stop-color="#ff3a2c"/></linearGradient><linearGradient id="g209" gradientUnits="userSpaceOnUse" x1="233.7" y1="112.9" x2="230.3" y2="125.7"><stop offset="0" stop-color="#ff7b36"/><stop offset="1" stop-color="#ff914d"/></linearGradient><linearGradient id="g210" gradientUnits="userSpaceOnUse" x1="377.3" y1="99.3" x2="376.4" y2="108.0"><stop offset="0" stop-color="#ff2b29"/><stop offset="1" stop-color="#ff3c33"/></linearGradient><linearGradient id="g211" gradientUnits="userSpaceOnUse" x1="534.1" y1="118.3" x2="539.4" y2="133.1"><stop offset="0" stop-color="#f7740f"/><stop offset="1" stop-color="#fa9112"/></linearGradient><linearGradient id="g212" gradientUnits="userSpaceOnUse" x1="261.9" y1="108.7" x2="259.9" y2="118.9"><stop offset="0" stop-color="#ff6437"/><stop offset="1" stop-color="#ff7748"/></linearGradient><linearGradient id="g213" gradientUnits="userSpaceOnUse" x1="348.4" y1="100.2" x2="347.3" y2="108.7"><stop offset="0" stop-color="#ff332e"/><stop offset="1" stop-color="#ff4439"/></linearGradient><linearGradient id="g214" gradientUnits="userSpaceOnUse" x1="290.5" y1="105.4" x2="289.2" y2="113.7"><stop offset="0" stop-color="#ff5036"/><stop offset="1" stop-color="#ff6143"/></linearGradient><linearGradient id="g215" gradientUnits="userSpaceOnUse" x1="319.4" y1="102.2" x2="318.2" y2="110.6"><stop offset="0" stop-color="#ff3f33"/><stop offset="1" stop-color="#ff513f"/></linearGradient><linearGradient id="g216" gradientUnits="userSpaceOnUse" x1="608.8" y1="144.2" x2="611.1" y2="158.1"><stop offset="0" stop-color="#f1e708"/><stop offset="1" stop-color="#e4f30a"/></linearGradient><linearGradient id="g217" gradientUnits="userSpaceOnUse" x1="506.7" y1="114.3" x2="509.2" y2="125.5"><stop offset="0" stop-color="#f95b13"/><stop offset="1" stop-color="#fc7017"/></linearGradient><linearGradient id="g218" gradientUnits="userSpaceOnUse" x1="144.5" y1="146.4" x2="116.3" y2="157.7"><stop offset="0" stop-color="#fff144"/><stop offset="1" stop-color="#ecff43"/></linearGradient><linearGradient id="g219" gradientUnits="userSpaceOnUse" x1="478.5" y1="110.1" x2="479.7" y2="120.5"><stop offset="0" stop-color="#fb4618"/><stop offset="1" stop-color="#fe5a1e"/></linearGradient><linearGradient id="g220" gradientUnits="userSpaceOnUse" x1="577.1" y1="133.4" x2="585.6" y2="151.3"><stop offset="0" stop-color="#f6b30b"/><stop offset="1" stop-color="#f8dc0d"/></linearGradient><linearGradient id="g221" gradientUnits="userSpaceOnUse" x1="167.4" y1="132.7" x2="150.9" y2="152.2"><stop offset="0" stop-color="#ffc93a"/><stop offset="1" stop-color="#ffe954"/></linearGradient><linearGradient id="g222" gradientUnits="userSpaceOnUse" x1="449.9" y1="106.8" x2="450.2" y2="116.8"><stop offset="0" stop-color="#fd381e"/><stop offset="1" stop-color="#ff4c25"/></linearGradient><linearGradient id="g223" gradientUnits="userSpaceOnUse" x1="191.6" y1="125.6" x2="184.5" y2="142.5"><stop offset="0" stop-color="#ffaa3b"/><stop offset="1" stop-color="#ffc457"/></linearGradient><linearGradient id="g224" gradientUnits="userSpaceOnUse" x1="421.1" y1="104.6" x2="420.9" y2="114.4"><stop offset="0" stop-color="#ff3124"/><stop offset="1" stop-color="#ff452c"/></linearGradient><linearGradient id="g225" gradientUnits="userSpaceOnUse" x1="549.8" y1="126.9" x2="555.4" y2="142.4"><stop offset="0" stop-color="#f78e0e"/><stop offset="1" stop-color="#faaf11"/></linearGradient><linearGradient id="g226" gradientUnits="userSpaceOnUse" x1="218.6" y1="120.3" x2="215.4" y2="133.3"><stop offset="0" stop-color="#ff8f3e"/><stop offset="1" stop-color="#ffa654"/></linearGradient><linearGradient id="g227" gradientUnits="userSpaceOnUse" x1="392.2" y1="103.6" x2="391.5" y2="113.2"><stop offset="0" stop-color="#ff312b"/><stop offset="1" stop-color="#ff4534"/></linearGradient><linearGradient id="g228" gradientUnits="userSpaceOnUse" x1="638.9" y1="169.9" x2="613.3" y2="154.7"><stop offset="0" stop-color="#abf507"/><stop offset="1" stop-color="#eaf609"/></linearGradient><linearGradient id="g229" gradientUnits="userSpaceOnUse" x1="247.0" y1="115.6" x2="245.1" y2="125.9"><stop offset="0" stop-color="#ff7740"/><stop offset="1" stop-color="#ff8b51"/></linearGradient><linearGradient id="g230" gradientUnits="userSpaceOnUse" x1="363.2" y1="103.8" x2="362.2" y2="113.2"><stop offset="0" stop-color="#ff3631"/><stop offset="1" stop-color="#ff4b3b"/></linearGradient><linearGradient id="g231" gradientUnits="userSpaceOnUse" x1="275.9" y1="111.4" x2="274.5" y2="120.4"><stop offset="0" stop-color="#ff623f"/><stop offset="1" stop-color="#ff754c"/></linearGradient><linearGradient id="g232" gradientUnits="userSpaceOnUse" x1="334.1" y1="105.2" x2="332.9" y2="114.4"><stop offset="0" stop-color="#ff4136"/><stop offset="1" stop-color="#ff5542"/></linearGradient><linearGradient id="g233" gradientUnits="userSpaceOnUse" x1="305.0" y1="107.7" x2="303.7" y2="116.8"><stop offset="0" stop-color="#ff4f3b"/><stop offset="1" stop-color="#ff6448"/></linearGradient><linearGradient id="g234" gradientUnits="userSpaceOnUse" x1="522.2" y1="122.0" x2="525.2" y2="134.3"><stop offset="0" stop-color="#f97113"/><stop offset="1" stop-color="#fc8a16"/></linearGradient><linearGradient id="g235" gradientUnits="userSpaceOnUse" x1="596.6" y1="146.3" x2="598.3" y2="159.3"><stop offset="0" stop-color="#f3db0a"/><stop offset="1" stop-color="#f3f50c"/></linearGradient><linearGradient id="g236" gradientUnits="userSpaceOnUse" x1="493.9" y1="117.2" x2="495.5" y2="128.4"><stop offset="0" stop-color="#fb5918"/><stop offset="1" stop-color="#fe701d"/></linearGradient><linearGradient id="g237" gradientUnits="userSpaceOnUse" x1="150.4" y1="141.7" x2="137.1" y2="161.7"><stop offset="0" stop-color="#ffe240"/><stop offset="1" stop-color="#fdfc5b"/></linearGradient><linearGradient id="g238" gradientUnits="userSpaceOnUse" x1="465.2" y1="113.2" x2="465.9" y2="124.2"><stop offset="0" stop-color="#fd471e"/><stop offset="1" stop-color="#ff5e24"/></linearGradient><linearGradient id="g239" gradientUnits="userSpaceOnUse" x1="565.6" y1="136.3" x2="571.5" y2="152.5"><stop offset="0" stop-color="#f8ac0d"/><stop offset="1" stop-color="#fad210"/></linearGradient><linearGradient id="g240" gradientUnits="userSpaceOnUse" x1="176.6" y1="133.9" x2="168.9" y2="151.6"><stop offset="0" stop-color="#ffc042"/><stop offset="1" stop-color="#ffdb5e"/></linearGradient><linearGradient id="g241" gradientUnits="userSpaceOnUse" x1="436.3" y1="110.3" x2="436.3" y2="121.1"><stop offset="0" stop-color="#ff3d25"/><stop offset="1" stop-color="#ff542c"/></linearGradient><linearGradient id="g242" gradientUnits="userSpaceOnUse" x1="203.6" y1="128.1" x2="200.1" y2="141.8"><stop offset="0" stop-color="#ffa446"/><stop offset="1" stop-color="#ffbb5c"/></linearGradient><linearGradient id="g243" gradientUnits="userSpaceOnUse" x1="407.4" y1="108.7" x2="406.7" y2="119.1"><stop offset="0" stop-color="#ff3a2b"/><stop offset="1" stop-color="#ff5034"/></linearGradient><linearGradient id="g244" gradientUnits="userSpaceOnUse" x1="537.8" y1="130.5" x2="541.3" y2="143.9"><stop offset="0" stop-color="#fa8b12"/><stop offset="1" stop-color="#fca915"/></linearGradient><linearGradient id="g245" gradientUnits="userSpaceOnUse" x1="232.0" y1="122.9" x2="230.1" y2="133.7"><stop offset="0" stop-color="#ff8b48"/><stop offset="1" stop-color="#ffa059"/></linearGradient><linearGradient id="g246" gradientUnits="userSpaceOnUse" x1="378.2" y1="108.2" x2="377.2" y2="118.4"><stop offset="0" stop-color="#ff3c32"/><stop offset="1" stop-color="#ff533c"/></linearGradient><linearGradient id="g247" gradientUnits="userSpaceOnUse" x1="261.0" y1="118.1" x2="259.6" y2="127.9"><stop offset="0" stop-color="#ff7547"/><stop offset="1" stop-color="#ff8a56"/></linearGradient><linearGradient id="g248" gradientUnits="userSpaceOnUse" x1="349.0" y1="108.9" x2="347.7" y2="119.0"><stop offset="0" stop-color="#ff4539"/><stop offset="1" stop-color="#ff5b44"/></linearGradient><linearGradient id="g249" gradientUnits="userSpaceOnUse" x1="290.3" y1="113.8" x2="289.0" y2="123.7"><stop offset="0" stop-color="#ff6244"/><stop offset="1" stop-color="#ff7851"/></linearGradient><linearGradient id="g250" gradientUnits="userSpaceOnUse" x1="319.6" y1="110.8" x2="318.3" y2="120.7"><stop offset="0" stop-color="#ff513f"/><stop offset="1" stop-color="#ff684b"/></linearGradient><linearGradient id="g251" gradientUnits="userSpaceOnUse" x1="624.8" y1="172.9" x2="602.4" y2="155.1"><stop offset="0" stop-color="#bbf809"/><stop offset="1" stop-color="#f8f70a"/></linearGradient><linearGradient id="g252" gradientUnits="userSpaceOnUse" x1="509.4" y1="125.1" x2="511.5" y2="137.2"><stop offset="0" stop-color="#fc6f17"/><stop offset="1" stop-color="#fe8a1b"/></linearGradient><linearGradient id="g253" gradientUnits="userSpaceOnUse" x1="480.6" y1="120.3" x2="481.7" y2="132.3"><stop offset="0" stop-color="#fd5a1d"/><stop offset="1" stop-color="#ff7423"/></linearGradient><linearGradient id="g254" gradientUnits="userSpaceOnUse" x1="582.3" y1="147.0" x2="587.0" y2="162.8"><stop offset="0" stop-color="#f7d00d"/><stop offset="1" stop-color="#faf70f"/></linearGradient><linearGradient id="g255" gradientUnits="userSpaceOnUse" x1="162.0" y1="142.7" x2="152.6" y2="161.5"><stop offset="0" stop-color="#ffd64a"/><stop offset="1" stop-color="#fff264"/></linearGradient><linearGradient id="g256" gradientUnits="userSpaceOnUse" x1="451.6" y1="116.8" x2="452.0" y2="128.5"><stop offset="0" stop-color="#ff4c24"/><stop offset="1" stop-color="#ff652b"/></linearGradient><linearGradient id="g257" gradientUnits="userSpaceOnUse" x1="553.6" y1="139.8" x2="557.6" y2="154.2"><stop offset="0" stop-color="#faa911"/><stop offset="1" stop-color="#fccb13"/></linearGradient><linearGradient id="g258" gradientUnits="userSpaceOnUse" x1="188.5" y1="136.4" x2="184.5" y2="151.1"><stop offset="0" stop-color="#ffba4e"/><stop offset="1" stop-color="#ffd164"/></linearGradient><linearGradient id="g259" gradientUnits="userSpaceOnUse" x1="422.6" y1="114.5" x2="422.2" y2="125.9"><stop offset="0" stop-color="#ff452c"/><stop offset="1" stop-color="#ff5e33"/></linearGradient><linearGradient id="g260" gradientUnits="userSpaceOnUse" x1="216.9" y1="130.8" x2="214.8" y2="142.3"><stop offset="0" stop-color="#ffa151"/><stop offset="1" stop-color="#ffb662"/></linearGradient><linearGradient id="g261" gradientUnits="userSpaceOnUse" x1="393.4" y1="113.3" x2="392.4" y2="124.5"><stop offset="0" stop-color="#ff4533"/><stop offset="1" stop-color="#ff5e3c"/></linearGradient><linearGradient id="g262" gradientUnits="userSpaceOnUse" x1="246.1" y1="125.4" x2="244.5" y2="135.9"><stop offset="0" stop-color="#ff8a50"/><stop offset="1" stop-color="#ff9f5f"/></linearGradient><linearGradient id="g263" gradientUnits="userSpaceOnUse" x1="364.0" y1="113.4" x2="362.8" y2="124.3"><stop offset="0" stop-color="#ff4b3b"/><stop offset="1" stop-color="#ff6445"/></linearGradient><linearGradient id="g264" gradientUnits="userSpaceOnUse" x1="275.5" y1="120.6" x2="274.1" y2="131.2"><stop offset="0" stop-color="#ff754d"/><stop offset="1" stop-color="#ff8c5b"/></linearGradient><linearGradient id="g265" gradientUnits="userSpaceOnUse" x1="525.1" y1="133.8" x2="527.6" y2="146.8"><stop offset="0" stop-color="#fc8916"/><stop offset="1" stop-color="#fea819"/></linearGradient><linearGradient id="g266" gradientUnits="userSpaceOnUse" x1="334.6" y1="114.6" x2="333.1" y2="125.4"><stop offset="0" stop-color="#ff5542"/><stop offset="1" stop-color="#ff6e4e"/></linearGradient><linearGradient id="g267" gradientUnits="userSpaceOnUse" x1="305.0" y1="117.0" x2="303.6" y2="127.7"><stop offset="0" stop-color="#ff6448"/><stop offset="1" stop-color="#ff7c55"/></linearGradient><linearGradient id="g268" gradientUnits="userSpaceOnUse" x1="605.7" y1="175.8" x2="596.1" y2="156.8"><stop offset="0" stop-color="#ccfa0d"/><stop offset="1" stop-color="#fcf60c"/></linearGradient><linearGradient id="g269" gradientUnits="userSpaceOnUse" x1="496.2" y1="128.4" x2="497.8" y2="141.2"><stop offset="0" stop-color="#fe701c"/><stop offset="1" stop-color="#ff8d21"/></linearGradient><linearGradient id="g270" gradientUnits="userSpaceOnUse" x1="467.1" y1="124.1" x2="467.9" y2="136.8"><stop offset="0" stop-color="#ff5e23"/><stop offset="1" stop-color="#ff7a29"/></linearGradient><linearGradient id="g271" gradientUnits="userSpaceOnUse" x1="569.5" y1="150.0" x2="574.0" y2="165.4"><stop offset="0" stop-color="#facb10"/><stop offset="1" stop-color="#fcf212"/></linearGradient><linearGradient id="g272" gradientUnits="userSpaceOnUse" x1="438.0" y1="121.1" x2="437.9" y2="133.4"><stop offset="0" stop-color="#ff542b"/><stop offset="1" stop-color="#ff6f32"/></linearGradient><linearGradient id="g273" gradientUnits="userSpaceOnUse" x1="173.6" y1="145.2" x2="168.5" y2="161.2"><stop offset="0" stop-color="#ffcf55"/><stop offset="1" stop-color="#ffe86c"/></linearGradient><linearGradient id="g274" gradientUnits="userSpaceOnUse" x1="408.7" y1="119.3" x2="407.9" y2="131.3"><stop offset="0" stop-color="#ff5033"/><stop offset="1" stop-color="#ff6b3c"/></linearGradient><linearGradient id="g275" gradientUnits="userSpaceOnUse" x1="201.8" y1="139.3" x2="199.3" y2="151.7"><stop offset="0" stop-color="#ffb659"/><stop offset="1" stop-color="#ffcc6a"/></linearGradient><linearGradient id="g276" gradientUnits="userSpaceOnUse" x1="540.9" y1="143.4" x2="543.9" y2="157.3"><stop offset="0" stop-color="#fca815"/><stop offset="1" stop-color="#feca17"/></linearGradient><linearGradient id="g277" gradientUnits="userSpaceOnUse" x1="379.3" y1="118.6" x2="378.0" y2="130.5"><stop offset="0" stop-color="#ff533c"/><stop offset="1" stop-color="#ff6e45"/></linearGradient><linearGradient id="g278" gradientUnits="userSpaceOnUse" x1="230.9" y1="133.3" x2="229.3" y2="144.7"><stop offset="0" stop-color="#ff9f59"/><stop offset="1" stop-color="#ffb568"/></linearGradient><linearGradient id="g279" gradientUnits="userSpaceOnUse" x1="349.6" y1="119.2" x2="348.1" y2="130.8"><stop offset="0" stop-color="#ff5c44"/><stop offset="1" stop-color="#ff764f"/></linearGradient><linearGradient id="g280" gradientUnits="userSpaceOnUse" x1="260.5" y1="128.0" x2="259.0" y2="139.4"><stop offset="0" stop-color="#ff8a56"/><stop offset="1" stop-color="#ffa265"/></linearGradient><linearGradient id="g281" gradientUnits="userSpaceOnUse" x1="319.9" y1="120.9" x2="318.4" y2="132.5"><stop offset="0" stop-color="#ff684b"/><stop offset="1" stop-color="#ff8258"/></linearGradient><linearGradient id="g282" gradientUnits="userSpaceOnUse" x1="290.2" y1="123.9" x2="288.7" y2="135.3"><stop offset="0" stop-color="#ff7852"/><stop offset="1" stop-color="#ff915f"/></linearGradient><linearGradient id="g283" gradientUnits="userSpaceOnUse" x1="511.8" y1="137.2" x2="514.1" y2="150.9"><stop offset="0" stop-color="#fe8a1b"/><stop offset="1" stop-color="#ffaa1e"/></linearGradient><linearGradient id="g284" gradientUnits="userSpaceOnUse" x1="595.1" y1="179.0" x2="581.0" y2="159.4"><stop offset="0" stop-color="#d4fd0f"/><stop offset="1" stop-color="#fff10f"/></linearGradient><linearGradient id="g285" gradientUnits="userSpaceOnUse" x1="482.6" y1="132.2" x2="484.1" y2="145.8"><stop offset="0" stop-color="#ff7422"/><stop offset="1" stop-color="#ff9227"/></linearGradient><linearGradient id="g286" gradientUnits="userSpaceOnUse" x1="453.5" y1="128.5" x2="453.8" y2="141.8"><stop offset="0" stop-color="#ff652a"/><stop offset="1" stop-color="#ff8330"/></linearGradient><linearGradient id="g287" gradientUnits="userSpaceOnUse" x1="556.9" y1="153.7" x2="560.4" y2="168.5"><stop offset="0" stop-color="#fcca13"/><stop offset="1" stop-color="#fef015"/></linearGradient><linearGradient id="g288" gradientUnits="userSpaceOnUse" x1="424.1" y1="126.0" x2="423.6" y2="139.0"><stop offset="0" stop-color="#ff5e33"/><stop offset="1" stop-color="#ff7c3a"/></linearGradient><linearGradient id="g289" gradientUnits="userSpaceOnUse" x1="186.6" y1="148.2" x2="183.5" y2="161.9"><stop offset="0" stop-color="#ffcc61"/><stop offset="1" stop-color="#ffe173"/></linearGradient><linearGradient id="g290" gradientUnits="userSpaceOnUse" x1="394.6" y1="124.7" x2="393.4" y2="137.4"><stop offset="0" stop-color="#ff5e3c"/><stop offset="1" stop-color="#ff7b44"/></linearGradient><linearGradient id="g291" gradientUnits="userSpaceOnUse" x1="215.7" y1="142.0" x2="213.8" y2="154.1"><stop offset="0" stop-color="#ffb562"/><stop offset="1" stop-color="#ffca71"/></linearGradient><linearGradient id="g292" gradientUnits="userSpaceOnUse" x1="364.9" y1="124.6" x2="363.3" y2="137.1"><stop offset="0" stop-color="#ff6445"/><stop offset="1" stop-color="#ff804f"/></linearGradient><linearGradient id="g293" gradientUnits="userSpaceOnUse" x1="527.6" y1="146.9" x2="530.5" y2="161.5"><stop offset="0" stop-color="#fea819"/><stop offset="1" stop-color="#ffcc1c"/></linearGradient><linearGradient id="g294" gradientUnits="userSpaceOnUse" x1="245.4" y1="136.1" x2="243.7" y2="148.3"><stop offset="0" stop-color="#ffa05f"/><stop offset="1" stop-color="#ffb76e"/></linearGradient><linearGradient id="g295" gradientUnits="userSpaceOnUse" x1="335.1" y1="125.6" x2="333.3" y2="138.0"><stop offset="0" stop-color="#ff6e4e"/><stop offset="1" stop-color="#ff8a59"/></linearGradient><linearGradient id="g296" gradientUnits="userSpaceOnUse" x1="275.2" y1="131.4" x2="273.6" y2="143.6"><stop offset="0" stop-color="#ff8d5b"/><stop offset="1" stop-color="#ffa669"/></linearGradient><linearGradient id="g297" gradientUnits="userSpaceOnUse" x1="305.2" y1="127.9" x2="303.4" y2="140.2"><stop offset="0" stop-color="#ff7c55"/><stop offset="1" stop-color="#ff9761"/></linearGradient><linearGradient id="g298" gradientUnits="userSpaceOnUse" x1="498.3" y1="141.2" x2="500.4" y2="155.7"><stop offset="0" stop-color="#ff8d21"/><stop offset="1" stop-color="#ffaf24"/></linearGradient><linearGradient id="g299" gradientUnits="userSpaceOnUse" x1="469.1" y1="136.7" x2="470.0" y2="151.0"><stop offset="0" stop-color="#ff7a28"/><stop offset="1" stop-color="#ff9b2d"/></linearGradient><linearGradient id="g300" gradientUnits="userSpaceOnUse" x1="586.4" y1="168.2" x2="563.6" y2="177.3"><stop offset="0" stop-color="#edf50f"/><stop offset="1" stop-color="#eff816"/></linearGradient><linearGradient id="g301" gradientUnits="userSpaceOnUse" x1="439.7" y1="133.5" x2="439.5" y2="147.5"><stop offset="0" stop-color="#ff6f31"/><stop offset="1" stop-color="#ff8f37"/></linearGradient><linearGradient id="g302" gradientUnits="userSpaceOnUse" x1="543.5" y1="157.4" x2="547.1" y2="172.9"><stop offset="0" stop-color="#feca18"/><stop offset="1" stop-color="#fff21a"/></linearGradient><linearGradient id="g303" gradientUnits="userSpaceOnUse" x1="410.1" y1="131.5" x2="409.1" y2="145.3"><stop offset="0" stop-color="#ff6c3b"/><stop offset="1" stop-color="#ff8a42"/></linearGradient><linearGradient id="g304" gradientUnits="userSpaceOnUse" x1="200.4" y1="151.3" x2="198.1" y2="164.2"><stop offset="0" stop-color="#ffcb6a"/><stop offset="1" stop-color="#ffdf79"/></linearGradient><linearGradient id="g305" gradientUnits="userSpaceOnUse" x1="380.3" y1="130.7" x2="378.8" y2="144.2"><stop offset="0" stop-color="#ff6e45"/><stop offset="1" stop-color="#ff8c4d"/></linearGradient><linearGradient id="g306" gradientUnits="userSpaceOnUse" x1="230.1" y1="144.8" x2="228.2" y2="157.8"><stop offset="0" stop-color="#ffb569"/><stop offset="1" stop-color="#ffcc77"/></linearGradient><linearGradient id="g307" gradientUnits="userSpaceOnUse" x1="350.4" y1="131.1" x2="348.5" y2="144.4"><stop offset="0" stop-color="#ff764e"/><stop offset="1" stop-color="#ff9358"/></linearGradient><linearGradient id="g308" gradientUnits="userSpaceOnUse" x1="260.1" y1="139.6" x2="258.3" y2="152.6"><stop offset="0" stop-color="#ffa265"/><stop offset="1" stop-color="#ffbb72"/></linearGradient><linearGradient id="g309" gradientUnits="userSpaceOnUse" x1="320.3" y1="132.7" x2="318.4" y2="145.9"><stop offset="0" stop-color="#ff8257"/><stop offset="1" stop-color="#ff9e62"/></linearGradient><linearGradient id="g310" gradientUnits="userSpaceOnUse" x1="290.2" y1="135.5" x2="288.3" y2="148.6"><stop offset="0" stop-color="#ff915f"/><stop offset="1" stop-color="#ffab6b"/></linearGradient><linearGradient id="g311" gradientUnits="userSpaceOnUse" x1="514.1" y1="151.0" x2="516.9" y2="166.3"><stop offset="0" stop-color="#ffaa1e"/><stop offset="1" stop-color="#ffd021"/></linearGradient><linearGradient id="g312" gradientUnits="userSpaceOnUse" x1="484.8" y1="145.7" x2="486.3" y2="161.0"><stop offset="0" stop-color="#ff9326"/><stop offset="1" stop-color="#ffb72a"/></linearGradient><linearGradient id="g313" gradientUnits="userSpaceOnUse" x1="455.3" y1="141.8" x2="455.7" y2="156.9"><stop offset="0" stop-color="#ff832f"/><stop offset="1" stop-color="#ffa634"/></linearGradient><linearGradient id="g314" gradientUnits="userSpaceOnUse" x1="570.3" y1="171.2" x2="553.2" y2="182.5"><stop offset="0" stop-color="#f4f513"/><stop offset="1" stop-color="#ecfb19"/></linearGradient><linearGradient id="g315" gradientUnits="userSpaceOnUse" x1="425.6" y1="139.1" x2="425.1" y2="153.9"><stop offset="0" stop-color="#ff7c39"/><stop offset="1" stop-color="#ff9d3f"/></linearGradient><linearGradient id="g316" gradientUnits="userSpaceOnUse" x1="395.8" y1="137.7" x2="394.5" y2="152.1"><stop offset="0" stop-color="#ff7b44"/><stop offset="1" stop-color="#ff9b4b"/></linearGradient><linearGradient id="g317" gradientUnits="userSpaceOnUse" x1="214.8" y1="154.2" x2="212.5" y2="168.0"><stop offset="0" stop-color="#ffca71"/><stop offset="1" stop-color="#ffe07f"/></linearGradient><linearGradient id="g318" gradientUnits="userSpaceOnUse" x1="530.0" y1="161.6" x2="533.6" y2="177.8"><stop offset="0" stop-color="#ffcc1c"/><stop offset="1" stop-color="#fff51e"/></linearGradient><linearGradient id="g319" gradientUnits="userSpaceOnUse" x1="365.8" y1="137.4" x2="364.0" y2="151.6"><stop offset="0" stop-color="#ff804e"/><stop offset="1" stop-color="#ff9e57"/></linearGradient><linearGradient id="g320" gradientUnits="userSpaceOnUse" x1="244.9" y1="148.4" x2="242.8" y2="162.3"><stop offset="0" stop-color="#ffb76e"/><stop offset="1" stop-color="#ffcf7b"/></linearGradient><linearGradient id="g321" gradientUnits="userSpaceOnUse" x1="335.6" y1="138.4" x2="333.6" y2="152.4"><stop offset="0" stop-color="#ff8a58"/><stop offset="1" stop-color="#ffa762"/></linearGradient><linearGradient id="g322" gradientUnits="userSpaceOnUse" x1="275.1" y1="143.9" x2="273.0" y2="157.7"><stop offset="0" stop-color="#ffa669"/><stop offset="1" stop-color="#ffc075"/></linearGradient><linearGradient id="g323" gradientUnits="userSpaceOnUse" x1="305.4" y1="140.5" x2="303.3" y2="154.4"><stop offset="0" stop-color="#ff9761"/><stop offset="1" stop-color="#ffb26c"/></linearGradient><linearGradient id="g324" gradientUnits="userSpaceOnUse" x1="500.6" y1="155.6" x2="502.9" y2="171.9"><stop offset="0" stop-color="#ffaf24"/><stop offset="1" stop-color="#ffd727"/></linearGradient><linearGradient id="g325" gradientUnits="userSpaceOnUse" x1="471.0" y1="151.0" x2="472.1" y2="167.1"><stop offset="0" stop-color="#ff9b2d"/><stop offset="1" stop-color="#ffc130"/></linearGradient><linearGradient id="g326" gradientUnits="userSpaceOnUse" x1="441.2" y1="147.6" x2="441.3" y2="163.4"><stop offset="0" stop-color="#ff8f37"/><stop offset="1" stop-color="#ffb33b"/></linearGradient><linearGradient id="g327" gradientUnits="userSpaceOnUse" x1="560.8" y1="189.3" x2="535.6" y2="173.9"><stop offset="0" stop-color="#dcff18"/><stop offset="1" stop-color="#fff11d"/></linearGradient><linearGradient id="g328" gradientUnits="userSpaceOnUse" x1="411.4" y1="145.4" x2="410.5" y2="160.9"><stop offset="0" stop-color="#ff8a41"/><stop offset="1" stop-color="#ffac47"/></linearGradient><linearGradient id="g329" gradientUnits="userSpaceOnUse" x1="381.3" y1="144.5" x2="379.7" y2="159.7"><stop offset="0" stop-color="#ff8c4d"/><stop offset="1" stop-color="#ffac54"/></linearGradient><linearGradient id="g330" gradientUnits="userSpaceOnUse" x1="229.4" y1="158.0" x2="227.1" y2="172.6"><stop offset="0" stop-color="#ffcc77"/><stop offset="1" stop-color="#ffe384"/></linearGradient><linearGradient id="g331" gradientUnits="userSpaceOnUse" x1="351.1" y1="144.8" x2="349.0" y2="159.8"><stop offset="0" stop-color="#ff9358"/><stop offset="1" stop-color="#ffb160"/></linearGradient><linearGradient id="g332" gradientUnits="userSpaceOnUse" x1="259.8" y1="152.8" x2="257.5" y2="167.5"><stop offset="0" stop-color="#ffbb72"/><stop offset="1" stop-color="#ffd47e"/></linearGradient><linearGradient id="g333" gradientUnits="userSpaceOnUse" x1="516.5" y1="166.4" x2="519.6" y2="183.5"><stop offset="0" stop-color="#ffd021"/><stop offset="1" stop-color="#fffb23"/></linearGradient><linearGradient id="g334" gradientUnits="userSpaceOnUse" x1="320.7" y1="146.3" x2="318.4" y2="161.1"><stop offset="0" stop-color="#ff9e62"/><stop offset="1" stop-color="#ffba6c"/></linearGradient><linearGradient id="g335" gradientUnits="userSpaceOnUse" x1="290.3" y1="148.9" x2="288.0" y2="163.7"><stop offset="0" stop-color="#ffab6b"/><stop offset="1" stop-color="#ffc676"/></linearGradient><linearGradient id="g336" gradientUnits="userSpaceOnUse" x1="486.8" y1="161.0" x2="488.7" y2="178.0"><stop offset="0" stop-color="#ffb72a"/><stop offset="1" stop-color="#ffe02c"/></linearGradient><linearGradient id="g337" gradientUnits="userSpaceOnUse" x1="457.0" y1="156.8" x2="457.7" y2="173.7"><stop offset="0" stop-color="#ffa634"/><stop offset="1" stop-color="#ffcd37"/></linearGradient><linearGradient id="g338" gradientUnits="userSpaceOnUse" x1="427.0" y1="154.0" x2="426.7" y2="170.6"><stop offset="0" stop-color="#ff9d3f"/><stop offset="1" stop-color="#ffc243"/></linearGradient><linearGradient id="g339" gradientUnits="userSpaceOnUse" x1="396.9" y1="152.3" x2="395.7" y2="168.7"><stop offset="0" stop-color="#ff9b4a"/><stop offset="1" stop-color="#ffbd50"/></linearGradient><linearGradient id="g340" gradientUnits="userSpaceOnUse" x1="542.5" y1="196.4" x2="526.5" y2="177.5"><stop offset="0" stop-color="#d6ff1e"/><stop offset="1" stop-color="#fff620"/></linearGradient><linearGradient id="g341" gradientUnits="userSpaceOnUse" x1="366.6" y1="152.0" x2="364.7" y2="168.0"><stop offset="0" stop-color="#ff9f56"/><stop offset="1" stop-color="#ffbf5d"/></linearGradient><linearGradient id="g342" gradientUnits="userSpaceOnUse" x1="244.4" y1="162.5" x2="241.9" y2="178.0"><stop offset="0" stop-color="#ffcf7c"/><stop offset="1" stop-color="#ffe786"/></linearGradient><linearGradient id="g343" gradientUnits="userSpaceOnUse" x1="336.1" y1="152.8" x2="333.9" y2="168.6"><stop offset="0" stop-color="#ffa761"/><stop offset="1" stop-color="#ffc569"/></linearGradient><linearGradient id="g344" gradientUnits="userSpaceOnUse" x1="275.0" y1="158.0" x2="272.5" y2="173.6"><stop offset="0" stop-color="#ffc075"/><stop offset="1" stop-color="#ffda7f"/></linearGradient><linearGradient id="g345" gradientUnits="userSpaceOnUse" x1="305.6" y1="154.8" x2="303.1" y2="170.4"><stop offset="0" stop-color="#ffb26c"/><stop offset="1" stop-color="#ffce75"/></linearGradient><linearGradient id="g346" gradientUnits="userSpaceOnUse" x1="502.2" y1="172.0" x2="506.1" y2="189.7"><stop offset="0" stop-color="#ffd827"/><stop offset="1" stop-color="#fbff28"/></linearGradient><linearGradient id="g347" gradientUnits="userSpaceOnUse" x1="472.8" y1="167.0" x2="474.4" y2="184.9"><stop offset="0" stop-color="#ffc130"/><stop offset="1" stop-color="#ffec33"/></linearGradient><linearGradient id="g348" gradientUnits="userSpaceOnUse" x1="442.7" y1="163.4" x2="443.2" y2="181.1"><stop offset="0" stop-color="#ffb33b"/><stop offset="1" stop-color="#ffdb3e"/></linearGradient><linearGradient id="g349" gradientUnits="userSpaceOnUse" x1="412.5" y1="161.0" x2="412.0" y2="178.4"><stop offset="0" stop-color="#ffad47"/><stop offset="1" stop-color="#ffd24b"/></linearGradient><linearGradient id="g350" gradientUnits="userSpaceOnUse" x1="382.2" y1="159.9" x2="380.8" y2="177.1"><stop offset="0" stop-color="#ffac53"/><stop offset="1" stop-color="#ffcf58"/></linearGradient><linearGradient id="g351" gradientUnits="userSpaceOnUse" x1="524.3" y1="201.6" x2="517.0" y2="184.6"><stop offset="0" stop-color="#d3ff23"/><stop offset="1" stop-color="#fffc24"/></linearGradient><linearGradient id="g352" gradientUnits="userSpaceOnUse" x1="351.7" y1="160.1" x2="349.6" y2="176.9"><stop offset="0" stop-color="#ffb25f"/><stop offset="1" stop-color="#ffd265"/></linearGradient><linearGradient id="g353" gradientUnits="userSpaceOnUse" x1="259.5" y1="167.8" x2="256.9" y2="184.2"><stop offset="0" stop-color="#ffd47e"/><stop offset="1" stop-color="#ffec87"/></linearGradient><linearGradient id="g354" gradientUnits="userSpaceOnUse" x1="321.0" y1="161.5" x2="318.6" y2="178.1"><stop offset="0" stop-color="#ffbb6b"/><stop offset="1" stop-color="#ffd872"/></linearGradient><linearGradient id="g355" gradientUnits="userSpaceOnUse" x1="290.3" y1="164.0" x2="287.7" y2="180.5"><stop offset="0" stop-color="#ffc675"/><stop offset="1" stop-color="#ffe17d"/></linearGradient><linearGradient id="g356" gradientUnits="userSpaceOnUse" x1="487.7" y1="178.3" x2="492.3" y2="196.6"><stop offset="0" stop-color="#ffe32d"/><stop offset="1" stop-color="#f2ff2d"/></linearGradient><linearGradient id="g357" gradientUnits="userSpaceOnUse" x1="458.6" y1="173.7" x2="459.9" y2="192.4"><stop offset="0" stop-color="#ffcd37"/><stop offset="1" stop-color="#fff939"/></linearGradient><linearGradient id="g358" gradientUnits="userSpaceOnUse" x1="428.2" y1="170.6" x2="428.5" y2="189.1"><stop offset="0" stop-color="#ffc243"/><stop offset="1" stop-color="#ffeb45"/></linearGradient><linearGradient id="g359" gradientUnits="userSpaceOnUse" x1="397.8" y1="168.8" x2="397.1" y2="187.0"><stop offset="0" stop-color="#ffbd4f"/><stop offset="1" stop-color="#ffe353"/></linearGradient><linearGradient id="g360" gradientUnits="userSpaceOnUse" x1="367.2" y1="168.2" x2="365.7" y2="186.2"><stop offset="0" stop-color="#ffbf5c"/><stop offset="1" stop-color="#ffe160"/></linearGradient><linearGradient id="g361" gradientUnits="userSpaceOnUse" x1="336.5" y1="168.9" x2="334.4" y2="186.6"><stop offset="0" stop-color="#ffc568"/><stop offset="1" stop-color="#ffe46e"/></linearGradient><linearGradient id="g362" gradientUnits="userSpaceOnUse" x1="274.7" y1="174.0" x2="272.1" y2="191.3"><stop offset="0" stop-color="#ffda7e"/><stop offset="1" stop-color="#fff486"/></linearGradient><linearGradient id="g363" gradientUnits="userSpaceOnUse" x1="305.7" y1="170.8" x2="303.2" y2="188.3"><stop offset="0" stop-color="#ffce74"/><stop offset="1" stop-color="#ffeb7a"/></linearGradient><linearGradient id="g364" gradientUnits="userSpaceOnUse" x1="509.0" y1="209.5" x2="504.2" y2="190.2"><stop offset="0" stop-color="#c7ff29"/><stop offset="1" stop-color="#faff29"/></linearGradient><linearGradient id="g365" gradientUnits="userSpaceOnUse" x1="479.7" y1="187.8" x2="471.7" y2="201.6"><stop offset="0" stop-color="#fdf231"/><stop offset="1" stop-color="#ebff35"/></linearGradient><linearGradient id="g366" gradientUnits="userSpaceOnUse" x1="443.4" y1="181.1" x2="446.0" y2="200.5"><stop offset="0" stop-color="#ffdd3e"/><stop offset="1" stop-color="#f8ff3f"/></linearGradient><linearGradient id="g367" gradientUnits="userSpaceOnUse" x1="413.5" y1="178.5" x2="413.7" y2="197.8"><stop offset="0" stop-color="#ffd24a"/><stop offset="1" stop-color="#fffb4c"/></linearGradient><linearGradient id="g368" gradientUnits="userSpaceOnUse" x1="382.8" y1="177.2" x2="382.1" y2="196.3"><stop offset="0" stop-color="#ffcf57"/><stop offset="1" stop-color="#fff55a"/></linearGradient><linearGradient id="g369" gradientUnits="userSpaceOnUse" x1="352.0" y1="177.2" x2="350.5" y2="196.0"><stop offset="0" stop-color="#ffd265"/><stop offset="1" stop-color="#fff468"/></linearGradient><linearGradient id="g370" gradientUnits="userSpaceOnUse" x1="321.1" y1="178.4" x2="319.0" y2="197.0"><stop offset="0" stop-color="#ffd871"/><stop offset="1" stop-color="#fff776"/></linearGradient><linearGradient id="g371" gradientUnits="userSpaceOnUse" x1="290.1" y1="180.9" x2="287.7" y2="199.3"><stop offset="0" stop-color="#ffe17d"/><stop offset="1" stop-color="#fffd82"/></linearGradient><linearGradient id="g372" gradientUnits="userSpaceOnUse" x1="494.7" y1="217.3" x2="489.9" y2="197.2"><stop offset="0" stop-color="#baff2e"/><stop offset="1" stop-color="#efff2e"/></linearGradient><linearGradient id="g373" gradientUnits="userSpaceOnUse" x1="464.9" y1="211.8" x2="457.5" y2="193.5"><stop offset="0" stop-color="#d6ff38"/><stop offset="1" stop-color="#fffb3a"/></linearGradient><linearGradient id="g374" gradientUnits="userSpaceOnUse" x1="433.0" y1="190.4" x2="426.8" y2="208.1"><stop offset="0" stop-color="#fff044"/><stop offset="1" stop-color="#ecff47"/></linearGradient><linearGradient id="g375" gradientUnits="userSpaceOnUse" x1="398.0" y1="187.0" x2="399.3" y2="207.2"><stop offset="0" stop-color="#ffe752"/><stop offset="1" stop-color="#f4ff53"/></linearGradient><linearGradient id="g376" gradientUnits="userSpaceOnUse" x1="367.8" y1="186.3" x2="366.8" y2="206.2"><stop offset="0" stop-color="#ffe460"/><stop offset="1" stop-color="#f9ff62"/></linearGradient><linearGradient id="g377" gradientUnits="userSpaceOnUse" x1="337.1" y1="186.9" x2="334.7" y2="206.4"><stop offset="0" stop-color="#ffe76d"/><stop offset="1" stop-color="#f9ff70"/></linearGradient><linearGradient id="g378" gradientUnits="userSpaceOnUse" x1="307.0" y1="189.2" x2="302.0" y2="207.5"><stop offset="0" stop-color="#ffee79"/><stop offset="1" stop-color="#f7ff7e"/></linearGradient><linearGradient id="g379" gradientUnits="userSpaceOnUse" x1="480.2" y1="225.8" x2="475.4" y2="204.8"><stop offset="0" stop-color="#acff33"/><stop offset="1" stop-color="#e2ff34"/></linearGradient><linearGradient id="g380" gradientUnits="userSpaceOnUse" x1="448.5" y1="221.7" x2="444.4" y2="200.8"><stop offset="0" stop-color="#c3ff3f"/><stop offset="1" stop-color="#f6ff40"/></linearGradient><linearGradient id="g381" gradientUnits="userSpaceOnUse" x1="417.5" y1="218.6" x2="412.6" y2="198.2"><stop offset="0" stop-color="#d5ff4b"/><stop offset="1" stop-color="#fffc4d"/></linearGradient><linearGradient id="g382" gradientUnits="userSpaceOnUse" x1="388.0" y1="215.2" x2="379.0" y2="198.4"><stop offset="0" stop-color="#e4ff58"/><stop offset="1" stop-color="#fff95c"/></linearGradient><linearGradient id="g383" gradientUnits="userSpaceOnUse" x1="357.1" y1="213.8" x2="346.7" y2="199.1"><stop offset="0" stop-color="#eaff66"/><stop offset="1" stop-color="#fef86a"/></linearGradient><linearGradient id="g384" gradientUnits="userSpaceOnUse" x1="322.2" y1="217.6" x2="318.6" y2="197.4"><stop offset="0" stop-color="#e7ff76"/><stop offset="1" stop-color="#fff976"/></linearGradient><linearGradient id="g385" gradientUnits="userSpaceOnUse" x1="465.6" y1="235.0" x2="460.6" y2="213.2"><stop offset="0" stop-color="#9bff38"/><stop offset="1" stop-color="#d3ff3a"/></linearGradient><linearGradient id="g386" gradientUnits="userSpaceOnUse" x1="433.7" y1="231.4" x2="429.4" y2="209.7"><stop offset="0" stop-color="#b2ff44"/><stop offset="1" stop-color="#e5ff46"/></linearGradient><linearGradient id="g387" gradientUnits="userSpaceOnUse" x1="401.8" y1="229.1" x2="398.0" y2="207.5"><stop offset="0" stop-color="#c1ff52"/><stop offset="1" stop-color="#f1ff54"/></linearGradient><linearGradient id="g388" gradientUnits="userSpaceOnUse" x1="369.8" y1="228.0" x2="366.5" y2="206.5"><stop offset="0" stop-color="#ccff60"/><stop offset="1" stop-color="#f6ff62"/></linearGradient><linearGradient id="g389" gradientUnits="userSpaceOnUse" x1="337.9" y1="228.3" x2="335.0" y2="206.8"><stop offset="0" stop-color="#d1ff6e"/><stop offset="1" stop-color="#f7ff70"/></linearGradient><linearGradient id="g390" gradientUnits="userSpaceOnUse" x1="450.8" y1="244.9" x2="445.6" y2="222.3"><stop offset="0" stop-color="#8aff3d"/><stop offset="1" stop-color="#c3ff40"/></linearGradient><linearGradient id="g391" gradientUnits="userSpaceOnUse" x1="418.8" y1="241.9" x2="414.1" y2="219.4"><stop offset="0" stop-color="#9fff4a"/><stop offset="1" stop-color="#d4ff4d"/></linearGradient><linearGradient id="g392" gradientUnits="userSpaceOnUse" x1="386.7" y1="240.1" x2="382.4" y2="217.7"><stop offset="0" stop-color="#aeff57"/><stop offset="1" stop-color="#deff5b"/></linearGradient><linearGradient id="g393" gradientUnits="userSpaceOnUse" x1="354.6" y1="239.6" x2="350.7" y2="217.3"><stop offset="0" stop-color="#b8ff66"/><stop offset="1" stop-color="#e3ff69"/></linearGradient><linearGradient id="g394" gradientUnits="userSpaceOnUse" x1="435.9" y1="255.5" x2="430.4" y2="232.2"><stop offset="0" stop-color="#77ff42"/><stop offset="1" stop-color="#b1ff46"/></linearGradient><linearGradient id="g395" gradientUnits="userSpaceOnUse" x1="403.7" y1="253.0" x2="398.6" y2="229.8"><stop offset="0" stop-color="#8bff4f"/><stop offset="1" stop-color="#c1ff53"/></linearGradient><linearGradient id="g396" gradientUnits="userSpaceOnUse" x1="371.4" y1="251.8" x2="366.7" y2="228.6"><stop offset="0" stop-color="#9aff5d"/><stop offset="1" stop-color="#cbff61"/></linearGradient><linearGradient id="g397" gradientUnits="userSpaceOnUse" x1="420.8" y1="266.8" x2="415.0" y2="242.7"><stop offset="0" stop-color="#62ff47"/><stop offset="1" stop-color="#9eff4b"/></linearGradient><linearGradient id="g398" gradientUnits="userSpaceOnUse" x1="388.4" y1="264.9" x2="382.9" y2="240.9"><stop offset="0" stop-color="#76ff54"/><stop offset="1" stop-color="#aeff59"/></linearGradient><linearGradient id="g399" gradientUnits="userSpaceOnUse" x1="405.6" y1="278.9" x2="399.3" y2="254.0"><stop offset="0" stop-color="#4cff4b"/><stop offset="1" stop-color="#8bff51"/></linearGradient></defs>
<polygon points="115.9,398.4 402.5,511.1 664.3,390.8 382.5,303.1" fill="#666666" stroke="#000" stroke-width="1.3" stroke-linejoin="round"/>
<polyline points="439.0,494.4 437.0,494.6 435.8,494.8 434.6,494.9 433.0,495.1 431.0,495.3 429.7,495.5 428.5,495.6 427.1,495.8 425.1,496.0 423.5,496.2 422.3,496.3 421.0,496.4 419.4,496.6 417.5,496.8 415.9,496.9 414.7,497.0 413.4,497.2 411.8,497.3 410.0,497.5 408.2,497.6 406.9,497.7 405.6,497.9 404.3,498.0 402.7,498.1 400.9,498.2 399.1,498.4 397.6,498.5 396.3,498.6 394.9,498.7 393.6,498.8 392.0,498.9 390.2,499.0 388.5,499.1 386.8,499.2 385.4,499.3 384.0,499.4 382.6,499.5 381.2,499.6 379.8,499.6 378.2,499.7 376.6,499.8 374.9,499.9" fill="none" stroke="#55ff00" stroke-width="2.5"/>
<polyline points="487.9,471.9 486.9,472.1 485.3,472.4 483.9,472.7 482.7,473.0 480.9,473.3 479.8,473.5 477.8,473.9 476.8,474.1 475.2,474.4 473.7,474.7 472.6,474.9 470.5,475.3 469.5,475.4 468.0,475.7 466.3,476.0 465.3,476.2 463.3,476.5 462.0,476.7 461.0,476.9 458.8,477.3 457.7,477.4 456.5,477.6 454.4,478.0 453.3,478.1 452.1,478.3 449.9,478.6 448.8,478.8 447.7,479.0 445.7,479.3 444.3,479.5 443.2,479.6 441.5,479.8 439.7,480.1 438.5,480.2 437.3,480.4 435.3,480.7 433.9,480.8 432.7,481.0 431.3,481.2 429.3,481.4 427.9,481.6 426.7,481.7 425.3,481.9 423.4,482.1 421.9,482.2 420.7,482.4 419.4,482.5 417.6,482.7 415.7,482.9 414.5,483.0 413.2,483.1 412.0,483.3 410.1,483.4 408.3,483.6 406.9,483.7 405.6,483.8 404.3,484.0 402.8,484.1 401.1,484.2 399.3,484.4 397.9,484.5 396.5,484.6 395.2,484.7 393.9,484.8 392.2,484.9 390.5,485.0 388.8,485.1 387.2,485.2 385.8,485.3 384.5,485.4 383.1,485.5 381.7,485.6 380.3,485.6 378.6,485.7 377.0,485.8 375.3,485.9 373.7,486.0 372.1,486.0 370.5,486.1 369.1,486.2 367.7,486.2 366.2,486.3 364.8,486.3 363.3,486.4 361.8,486.4 360.4,486.5 358.9,486.5 357.4,486.5 355.9,486.6 354.4,486.6 352.9,486.6 351.4,486.7 349.9,486.7 348.4,486.7 346.8,486.7 345.3,486.8 343.8,486.8 342.2,486.8 340.6,486.8" fill="none" stroke="#aaff00" stroke-width="2.5"/>
<polyline points="643.4,384.3 643.4,384.8 643.3,385.4 643.2,386.0 643.1,386.4 643.0,386.8 642.9,387.4 642.7,388.1 642.6,388.5 642.5,388.9 642.3,389.4 642.1,390.1 642.0,390.5 641.8,390.9 641.6,391.5 641.4,392.1 641.3,392.5 641.1,393.0 640.8,393.7 640.6,394.1 640.4,394.5 640.1,395.3 639.9,395.7 639.7,396.0 639.3,396.8 639.1,397.2 638.9,397.6 638.5,398.4 638.2,398.8 638.0,399.3 637.6,399.9 637.3,400.3 636.9,401.0 636.6,401.4 636.3,401.8 635.8,402.6 635.6,402.9 635.1,403.6 634.8,404.1 634.4,404.6" fill="none" stroke="#aaff00" stroke-width="2.5"/>
<polyline points="607.9,373.3 608.0,373.7 608.1,374.2 608.1,374.6 608.2,375.1 608.2,375.5 608.3,376.1 608.3,376.6 608.4,377.2 608.4,377.7 608.4,378.2 608.4,378.7 608.4,379.1 608.4,379.5 608.4,380.0 608.4,380.6 608.3,381.2 608.3,381.7 608.2,382.1 608.2,382.5 608.1,383.0 608.0,383.7 607.9,384.2 607.8,384.6 607.7,385.1 607.6,385.6 607.4,386.2 607.3,386.7 607.2,387.1 607.0,387.6 606.8,388.2 606.7,388.7 606.5,389.1 606.3,389.6 606.0,390.3 605.9,390.7 605.7,391.1 605.4,391.8 605.2,392.3 605.0,392.7 604.7,393.3 604.4,393.9 604.2,394.3 603.9,394.9 603.5,395.4 603.3,395.8 602.9,396.5 602.6,397.0 602.3,397.4 601.8,398.1 601.6,398.5 601.2,399.0 600.8,399.6 600.5,400.0 599.9,400.7 599.7,401.1 599.1,401.7 598.8,402.2 598.4,402.7 597.8,403.3 597.5,403.7 596.9,404.4 596.6,404.8 595.9,405.5 595.5,405.8 594.9,406.5 594.5,406.9 593.8,407.6 593.4,408.0 592.7,408.7 592.2,409.1 591.6,409.7 590.9,410.3 590.4,410.8 589.6,411.5 589.2,411.8 588.4,412.5 587.9,412.9 587.1,413.5 586.3,414.2 585.8,414.5 584.9,415.2 584.1,415.8 583.6,416.2 582.7,416.9 581.9,417.5 581.3,417.9 580.4,418.5 579.4,419.2 578.9,419.5 577.9,420.1 576.9,420.8 576.2,421.3 575.4,421.8 574.4,422.4 573.4,423.0 572.3,423.7 571.8,424.0 570.7,424.6 569.6,425.2 568.5,425.9 567.4,426.5 566.8,426.8 565.7,427.4 564.6,428.0 563.4,428.6 562.2,429.2 561.0,429.8 559.8,430.4 558.6,431.0 557.4,431.6 556.2,432.2 554.9,432.8 553.6,433.4 552.4,434.0 551.1,434.5 549.8,435.1 548.5,435.7 547.1,436.3 545.8,436.8 544.4,437.4 543.1,437.9 541.7,438.5 540.3,439.1 538.9,439.6 537.5,440.2 536.8,440.4 535.3,441.0 533.9,441.5 532.4,442.0 530.9,442.6 529.9,443.0 528.7,443.4 527.2,443.9 525.7,444.4 524.1,444.9 523.4,445.2 521.8,445.7 520.2,446.2 519.1,446.6 517.9,447.0 516.3,447.5 514.6,448.0 513.8,448.2 512.2,448.7 510.6,449.2 509.7,449.4 508.1,449.9 506.6,450.3 505.5,450.6 503.8,451.1 502.9,451.4 501.3,451.8 499.5,452.3 498.6,452.5 496.9,453.0 496.0,453.2 494.2,453.6 492.9,454.0 491.5,454.3 489.7,454.8 488.8,455.0 487.0,455.4 486.0,455.6 484.2,456.1 483.3,456.3 481.4,456.7 480.4,456.9 478.5,457.3 477.6,457.5 475.7,458.0 474.7,458.2 472.8,458.6 471.8,458.8 470.2,459.1 468.8,459.4 467.6,459.6 465.8,459.9 464.8,460.1 462.8,460.5 461.8,460.7 460.2,461.0 458.7,461.3 457.7,461.5 455.6,461.8 454.6,462.0 453.2,462.2 451.4,462.5 450.3,462.7 448.6,463.0 447.1,463.2 446.1,463.4 444.2,463.7 442.8,463.9 441.7,464.1 439.9,464.3 438.4,464.6 437.3,464.7 435.6,464.9 433.9,465.2 432.8,465.3 431.5,465.5 429.5,465.8 428.2,465.9 427.1,466.1 425.5,466.3 423.6,466.5 422.4,466.6 421.3,466.8 419.6,467.0 417.7,467.2 416.5,467.3 415.3,467.5 413.9,467.6 412.0,467.8 410.5,468.0 409.2,468.1 408.0,468.2 406.4,468.3 404.6,468.5 403.0,468.6 401.8,468.8 400.5,468.9 399.2,469.0 397.5,469.1 395.7,469.3 394.1,469.4 392.8,469.5 391.5,469.6 390.2,469.7 388.8,469.7 387.1,469.9 385.4,470.0 383.8,470.1 382.2,470.2 380.8,470.2 379.5,470.3 378.1,470.4 376.7,470.4 375.4,470.5 374.0,470.6 372.4,470.6 370.8,470.7 369.2,470.8 367.6,470.8 366.0,470.9 364.5,470.9 362.9,471.0 361.4,471.0 359.9,471.0 358.4,471.1 356.8,471.1 355.3,471.1 353.8,471.2 352.4,471.2 350.9,471.2 349.4,471.2 347.9,471.2 346.5,471.2 345.0,471.2 343.6,471.2 342.2,471.2 340.7,471.2 339.3,471.2 337.9,471.2 336.5,471.2 335.1,471.2 333.5,471.1 331.9,471.1 330.2,471.1 328.6,471.0 326.9,471.0 325.5,470.9 324.1,470.9 322.8,470.9 321.5,470.8 320.1,470.8 318.4,470.7 316.6,470.6 314.9,470.5 313.6,470.5 312.3,470.4 311.0,470.3 309.5,470.3 307.7,470.2 306.0,470.1 304.7,470.0 303.5,469.9 302.1,469.8 300.2,469.7 298.5,469.5 297.3,469.4" fill="none" stroke="#ffff00" stroke-width="2.5"/>
<polyline points="144.8,409.8 144.6,409.3 144.5,408.9 144.4,408.4 144.2,407.8 144.1,407.2 143.9,406.6 143.8,406.2 143.7,405.7 143.7,405.2 143.6,404.7 143.5,404.2 143.4,403.6 143.4,403.0 143.3,402.4 143.3,402.0 143.3,401.5 143.3,401.0 143.3,400.5 143.3,400.0 143.3,399.6 143.3,399.0 143.4,398.5 143.4,398.0 143.5,397.4 143.5,396.9 143.6,396.4 143.7,395.9 143.8,395.3 143.9,394.8 144.0,394.3 144.1,393.8 144.2,393.3 144.4,392.8 144.5,392.3 144.7,391.8 144.8,391.3 145.0,390.8 145.2,390.3 145.4,389.8 145.6,389.2 145.8,388.7 146.1,388.1 146.3,387.6" fill="none" stroke="#ffff00" stroke-width="2.5"/>
<polyline points="364.7,309.5 366.2,309.4 367.6,309.3 368.8,309.3 369.9,309.2 371.0,309.1 372.1,309.1 373.2,309.0 374.6,309.0 376.0,308.9 377.4,308.8 378.7,308.8 379.9,308.7 381.1,308.7 382.2,308.6 383.3,308.6 384.5,308.5 385.7,308.5 386.8,308.5 388.0,308.4 389.3,308.4 390.5,308.4 391.8,308.3 393.1,308.3 394.3,308.3 395.6,308.3 396.8,308.2 398.1,308.2" fill="none" stroke="#ffff00" stroke-width="2.5"/>
<polyline points="556.1,357.2 556.6,357.7 557.0,358.0 557.4,358.4 558.0,359.0 558.5,359.5 558.8,359.9 559.1,360.3 559.5,360.8 560.0,361.3 560.4,361.9 560.8,362.3 561.1,362.7 561.4,363.1 561.7,363.6 562.0,364.1 562.4,364.7 562.7,365.2 563.0,365.7 563.2,366.1 563.5,366.6 563.7,367.0 563.9,367.4 564.1,367.9 564.4,368.4 564.6,368.8 564.8,369.3 565.0,369.8 565.1,370.3 565.3,370.8 565.5,371.3 565.6,371.8 565.7,372.2 565.9,372.7 566.0,373.2 566.1,373.7 566.2,374.2 566.2,374.7 566.3,375.2 566.4,375.7 566.4,376.3 566.5,376.8 566.5,377.3 566.5,377.8 566.5,378.2 566.5,378.7 566.5,379.1 566.5,379.6 566.4,380.2 566.3,380.8 566.3,381.3 566.2,381.7 566.2,382.1 566.1,382.6 565.9,383.2 565.8,383.8 565.7,384.2 565.6,384.7 565.4,385.1 565.2,385.8 565.1,386.3 564.9,386.7 564.8,387.1 564.5,387.8 564.3,388.3 564.1,388.7 563.8,389.2 563.5,389.9 563.3,390.3 563.1,390.7 562.7,391.5 562.4,391.8 562.2,392.2 561.7,393.0 561.5,393.4 561.2,393.8 560.7,394.5 560.5,394.9 560.0,395.5 559.6,396.0 559.3,396.4 558.7,397.1 558.4,397.5 557.8,398.2 557.5,398.6 557.0,399.2 556.5,399.7 556.1,400.2 555.5,400.7 555.1,401.2 554.4,401.8 554.0,402.2 553.3,402.9 552.8,403.4 552.2,403.9 551.4,404.5 551.0,404.9 550.1,405.6 549.7,406.0 548.9,406.6 548.3,407.1 547.6,407.6 546.7,408.3 546.3,408.6 545.4,409.3 544.4,410.0 544.0,410.3 543.0,410.9 542.0,411.6 541.6,411.9 540.6,412.6 539.6,413.2 538.8,413.7 538.0,414.1 537.0,414.8 535.9,415.4 534.8,416.0 534.3,416.3 533.2,416.9 532.1,417.5 530.9,418.2 529.8,418.8 528.6,419.4 528.0,419.7 526.8,420.2 525.6,420.8 524.4,421.4 523.2,422.0 522.0,422.6 520.7,423.2 519.4,423.7 518.1,424.3 516.8,424.9 515.5,425.4 514.2,426.0 512.8,426.5 511.4,427.1 510.1,427.6 509.4,427.9 507.9,428.4 506.5,428.9 505.1,429.5 503.6,430.0 502.2,430.5 501.4,430.8 500.0,431.3 498.4,431.8 496.9,432.3 495.6,432.8 494.6,433.1 493.1,433.6 491.5,434.1 490.7,434.3 489.1,434.8 487.5,435.3 486.4,435.6 485.1,436.0 483.4,436.5 482.4,436.7 480.9,437.2 479.2,437.6 478.4,437.8 476.6,438.3 475.3,438.6 474.0,439.0 472.3,439.4 471.4,439.6 469.6,440.1 468.7,440.3 466.9,440.7 465.9,440.9 464.2,441.3 463.0,441.6 461.4,442.0 460.2,442.2 458.6,442.6 457.5,442.8 455.8,443.2 454.8,443.4 452.9,443.7 451.9,443.9 449.9,444.3 449.0,444.5 447.3,444.8 446.0,445.1 444.9,445.3 442.9,445.6 441.9,445.8 440.2,446.1 438.8,446.3 437.8,446.5 435.7,446.8 434.7,447.0 433.4,447.2 431.5,447.5 430.4,447.6 429.1,447.8 427.2,448.1 426.1,448.3 425.0,448.4 422.9,448.7 421.7,448.9 420.5,449.0 418.9,449.2 417.2,449.4 416.0,449.6 414.9,449.7 413.0,449.9 411.4,450.1 410.2,450.2 409.1,450.4 407.4,450.5 405.5,450.7 404.3,450.8 403.1,451.0 401.9,451.1 400.1,451.2 398.3,451.4 397.0,451.5 395.7,451.6 394.5,451.7 393.1,451.8 391.4,452.0 389.7,452.1 388.1,452.2 386.8,452.3 385.5,452.4 384.2,452.4 382.9,452.5 381.4,452.6 379.8,452.7 378.2,452.8 376.6,452.8 375.0,452.9 373.5,453.0 372.1,453.0 370.8,453.1 369.4,453.1 368.0,453.2 366.5,453.2 365.1,453.3 363.7,453.3 362.2,453.3 360.8,453.4 359.3,453.4 357.9,453.4 356.4,453.4 354.9,453.4 353.4,453.4 351.9,453.4 350.3,453.4 348.8,453.4 347.3,453.4 345.7,453.4 344.2,453.4 342.8,453.4 341.4,453.3 340.1,453.3 338.8,453.3 337.4,453.2 336.0,453.2 334.4,453.2 332.7,453.1 331.0,453.0 329.6,453.0 328.3,452.9 327.0,452.9 325.8,452.8 324.1,452.7 322.3,452.6 320.8,452.5 319.5,452.5 318.3,452.4 316.8,452.3 315.0,452.1 313.5,452.0 312.3,451.9 311.1,451.8 309.2,451.7 307.6,451.5 306.4,451.4 305.2,451.3 303.2,451.1 301.9,451.0 300.7,450.9 299.0,450.7 297.4,450.5 296.3,450.4 294.7,450.2 293.0,450.0 291.9,449.9 290.2,449.6 288.7,449.4 287.7,449.3 285.6,449.0 284.5,448.9 283.1,448.6 281.5,448.4 280.4,448.2 278.4,447.9 277.4,447.7 275.4,447.4 274.5,447.2 272.5,446.9 271.5,446.7 269.6,446.3 268.7,446.2 266.8,445.8 265.8,445.6 264.0,445.2 263.1,445.0 261.3,444.6 259.8,444.3 258.6,444.0 256.8,443.6 255.9,443.4 254.2,443.0 252.5,442.6 251.6,442.3 249.9,441.9 248.3,441.4 247.1,441.1 245.8,440.8 244.2,440.3 242.6,439.8 241.0,439.3 240.2,439.1 238.7,438.6 237.2,438.1 235.7,437.6 234.2,437.1 232.7,436.6 231.3,436.1 229.9,435.5 228.5,435.0 227.1,434.4 225.7,433.9 224.4,433.3 223.1,432.8 221.8,432.2 220.5,431.6 219.2,431.0 218.0,430.4 217.3,430.1 216.2,429.5 215.0,428.9 213.8,428.3 212.9,427.8 212.1,427.4 211.0,426.8 209.9,426.1 209.4,425.8 208.4,425.2 207.3,424.5 206.8,424.2 205.8,423.5 205.2,423.1 204.4,422.5 203.5,421.8 203.0,421.5 202.1,420.8 201.6,420.4 200.7,419.7 200.3,419.4 199.5,418.6 199.1,418.3 198.3,417.6 197.9,417.2 197.2,416.6 196.7,416.1 196.3,415.7 195.7,415.0 195.3,414.6 194.7,413.9 194.3,413.4 194.0,413.0 193.4,412.3 193.1,411.9 192.8,411.5 192.2,410.7 191.9,410.3 191.6,409.9 191.2,409.2 190.9,408.6 190.6,408.2 190.4,407.8 190.0,407.1 189.8,406.6 189.6,406.1 189.4,405.7 189.1,405.0 188.8,404.4 188.7,404.0 188.5,403.5 188.4,403.1 188.2,402.5 188.0,401.9 187.9,401.3 187.8,400.8 187.7,400.4 187.6,399.9 187.5,399.5 187.4,398.9 187.4,398.3 187.3,397.8 187.3,397.2 187.3,396.7 187.2,396.1 187.2,395.6 187.3,395.2 187.3,394.7 187.3,394.2 187.4,393.7 187.4,393.2 187.5,392.7 187.6,392.1 187.7,391.6 187.8,391.1 187.9,390.6 188.0,390.1 188.1,389.5 188.3,389.0 188.4,388.5 188.6,388.0 188.8,387.6 188.9,387.1 189.1,386.7 189.3,386.2 189.5,385.7 189.8,385.1 190.1,384.5 190.4,383.9 190.6,383.5 190.8,383.1 191.1,382.6 191.3,382.2 191.7,381.6 192.1,381.0 192.4,380.5 192.7,380.1 193.0,379.7 193.4,379.1 193.8,378.5 194.2,378.1 194.5,377.7 194.9,377.1 195.4,376.5 195.8,376.1 196.1,375.7 196.6,375.1 197.2,374.5 197.5,374.1 197.9,373.7 198.6,373.0 199.0,372.6 199.4,372.3 200.1,371.5 200.5,371.2 200.9,370.8 201.7,370.1 202.1,369.7 202.7,369.2 203.4,368.7 203.8,368.3 204.7,367.6 205.1,367.3 205.7,366.8 206.4,366.3 206.9,365.9" fill="none" stroke="#ffaa00" stroke-width="2.5"/>
<polyline points="312.3,328.2 313.9,328.0 314.7,327.8 316.5,327.5 317.4,327.4 319.1,327.1 320.0,327.0 321.3,326.8 322.7,326.6 323.6,326.4 325.4,326.2 326.3,326.0 327.4,325.9 329.1,325.6 330.0,325.5 331.4,325.3 332.8,325.1 333.7,325.0 335.2,324.8 336.6,324.7 337.5,324.6 338.8,324.4 340.4,324.2 341.4,324.1 342.4,324.0 344.1,323.8 345.3,323.7 346.3,323.6 347.6,323.4 349.2,323.3 350.3,323.2 351.3,323.1 352.5,323.0 354.1,322.8 355.4,322.7 356.4,322.6 357.4,322.5 358.9,322.4 360.4,322.3 361.6,322.2 362.7,322.1 363.7,322.0 365.0,322.0 366.5,321.9 367.9,321.8 369.1,321.7 370.2,321.6 371.3,321.6 372.5,321.5 373.7,321.4 375.1,321.4 376.5,321.3 377.9,321.2 379.2,321.2 380.4,321.1 381.5,321.1 382.7,321.0 383.9,321.0 385.1,320.9 386.2,320.9 387.4,320.9 388.6,320.8 389.9,320.8 391.2,320.8 392.5,320.8 393.7,320.7 395.0,320.7 396.2,320.7 397.5,320.7 398.7,320.7 400.0,320.7 401.2,320.7 402.4,320.7 403.7,320.7 405.0,320.7 406.4,320.7 407.7,320.7 409.0,320.7 410.4,320.7 411.8,320.8 413.0,320.8 414.1,320.8 415.3,320.8 416.4,320.9 417.5,320.9 418.8,320.9 420.3,321.0 421.8,321.0 423.0,321.1 424.1,321.1 425.2,321.2 426.3,321.2 427.8,321.3 429.4,321.4 430.6,321.4 431.6,321.5 432.6,321.6 434.2,321.6 435.8,321.8 436.8,321.8 437.8,321.9 439.2,322.0 440.8,322.1 441.8,322.2 442.8,322.3 444.4,322.4" fill="none" stroke="#ffaa00" stroke-width="2.5"/>
<polyline points="465.5,345.2 467.0,345.6 468.5,346.0 470.0,346.4 471.4,346.8 472.9,347.2 474.3,347.7 475.6,348.1 477.0,348.6 478.4,349.0 479.7,349.5 481.0,350.0 482.3,350.5 483.6,351.0 484.2,351.2 485.4,351.7 486.6,352.2 487.8,352.8 488.4,353.0 489.6,353.6 490.7,354.1 491.3,354.4 492.4,355.0 493.0,355.3 494.0,355.9 494.8,356.3 495.6,356.7 496.4,357.2 497.1,357.7 497.8,358.1 498.6,358.6 499.0,358.9 500.0,359.6 500.4,359.9 501.2,360.5 501.7,360.9 502.2,361.3 503.0,361.9 503.4,362.3 503.8,362.7 504.5,363.3 505.0,363.8 505.3,364.2 505.8,364.6 506.3,365.2 506.7,365.7 507.1,366.1 507.4,366.5 507.8,367.0 508.2,367.6 508.6,368.1 508.8,368.5 509.1,368.9 509.4,369.4 509.6,369.8 509.9,370.4 510.2,370.9 510.4,371.4 510.6,371.9 510.8,372.4 511.0,372.9 511.1,373.4 511.3,373.9 511.4,374.4 511.5,374.9 511.6,375.4 511.7,375.9 511.7,376.3 511.8,376.8 511.8,377.3 511.8,377.7 511.8,378.2 511.8,378.6 511.8,379.1 511.8,379.6 511.7,380.2 511.6,380.8 511.5,381.3 511.5,381.7 511.4,382.1 511.2,382.6 511.1,383.2 510.9,383.8 510.7,384.2 510.6,384.6 510.3,385.2 510.0,385.8 509.8,386.2 509.6,386.6 509.3,387.3 509.0,387.8 508.8,388.2 508.4,388.8 508.0,389.4 507.7,389.7 507.3,390.3 506.9,390.9 506.6,391.2 506.0,392.0 505.7,392.3 505.2,392.9 504.7,393.4 504.3,393.8 503.7,394.5 503.3,394.9 502.6,395.6 502.2,395.9 501.4,396.6 501.0,396.9 500.2,397.6 499.6,398.1 498.9,398.6 498.0,399.3 497.6,399.6 496.7,400.3 496.1,400.7 495.3,401.3 494.3,401.9 493.7,402.3 492.8,402.9 491.8,403.5 490.8,404.1 490.3,404.4 489.2,405.0 488.1,405.6 487.0,406.2 486.2,406.6 485.3,407.1 484.1,407.7 482.9,408.3 481.7,408.9 480.5,409.4 479.2,410.0 478.0,410.6 476.7,411.1 475.4,411.7 474.1,412.2 472.7,412.8 471.4,413.3 470.0,413.8 468.6,414.3 467.1,414.8 466.4,415.1 465.0,415.6 463.5,416.1 462.0,416.6 460.5,417.1 459.7,417.3 458.2,417.8 456.6,418.3 455.4,418.6 454.2,419.0 452.6,419.4 451.3,419.8 450.1,420.1 448.4,420.6 447.6,420.8 445.9,421.2 444.4,421.6 443.3,421.9 441.5,422.3 440.7,422.5 438.9,422.9 438.0,423.1 436.1,423.5 435.2,423.7 433.4,424.1 432.4,424.3 430.5,424.6 429.6,424.8 427.8,425.2 426.7,425.4 425.4,425.6 423.7,425.9 422.7,426.0 420.8,426.4 419.7,426.5 418.5,426.7 416.6,427.0 415.6,427.2 414.3,427.4 412.4,427.6 411.3,427.8 410.2,427.9 408.2,428.2 407.0,428.4 405.9,428.5 404.3,428.7 402.5,428.9 401.4,429.0 400.2,429.1 398.7,429.3 396.9,429.5 395.6,429.6 394.4,429.7 393.2,429.8 391.7,429.9 390.0,430.1 388.4,430.2 387.1,430.3 385.9,430.4 384.6,430.5 383.3,430.5 381.7,430.6 380.1,430.7 378.6,430.8 377.0,430.9 375.5,430.9 374.2,431.0 372.8,431.0 371.5,431.1 370.1,431.1 368.7,431.2 367.3,431.2 365.9,431.2 364.4,431.2 363.0,431.2 361.5,431.3 360.0,431.3 358.6,431.3 357.0,431.2 355.5,431.2 354.1,431.2 352.8,431.2 351.5,431.2 350.2,431.1 348.9,431.1 347.6,431.1 346.0,431.0 344.3,430.9 342.6,430.9 341.3,430.8 340.1,430.7 338.9,430.7 337.4,430.6 335.5,430.4 334.1,430.3 333.0,430.3 331.8,430.2 329.9,430.0 328.4,429.9 327.3,429.8 326.0,429.6 324.0,429.4 322.9,429.3 321.8,429.2 319.7,429.0 318.6,428.8 317.4,428.7 315.5,428.4 314.4,428.3 312.8,428.0 311.4,427.8 310.3,427.7 308.4,427.4 307.5,427.2 305.5,426.9 304.6,426.7 302.7,426.4 301.8,426.2 299.9,425.8 298.9,425.6 297.2,425.3 295.4,424.9 294.6,424.7 292.8,424.3 291.5,423.9 290.3,423.7 288.6,423.2 287.0,422.8 286.2,422.6 284.6,422.1 283.0,421.7 281.5,421.2 280.0,420.7 279.1,420.4 277.8,420.0 276.3,419.5 274.9,419.0 273.5,418.4 272.2,417.9 270.8,417.4 269.8,416.9 268.9,416.5 267.6,416.0 266.4,415.4 265.2,414.8 264.0,414.2 263.4,413.9 262.3,413.3 261.2,412.7 260.6,412.4 259.6,411.7 258.5,411.1 258.0,410.8 257.0,410.1 256.5,409.7 255.6,409.1 254.9,408.6 254.2,408.1 253.6,407.6 252.9,407.0 252.4,406.6 251.7,406.0 251.3,405.6 250.6,404.9 250.2,404.5 249.7,404.0 249.2,403.4 248.8,403.0 248.4,402.4 247.9,401.8 247.6,401.4 247.3,400.9 246.8,400.2 246.6,399.8 246.3,399.4 246.0,398.9 245.7,398.2 245.5,397.7 245.3,397.3 245.1,396.8 244.9,396.3 244.7,395.7 244.5,395.1 244.4,394.6 244.3,394.1 244.2,393.7 244.1,393.2 244.0,392.7 244.0,392.3 243.9,391.8 243.9,391.2 243.9,390.7 243.9,390.2 243.9,389.7 244.0,389.2 244.0,388.7 244.1,388.2 244.2,387.7 244.3,387.2 244.4,386.7 244.6,386.2 244.7,385.6 244.9,385.1 245.1,384.5 245.3,384.0 245.5,383.5 245.7,383.1 245.9,382.6 246.1,382.2 246.5,381.6 246.8,380.9 247.1,380.5 247.4,380.1 247.6,379.7 248.1,379.0 248.5,378.5 248.8,378.1 249.1,377.7 249.6,377.0 250.1,376.5 250.4,376.2 250.9,375.6 251.4,375.0 251.8,374.7 252.3,374.1 252.9,373.6 253.3,373.2 254.0,372.6 254.5,372.1 255.0,371.7 255.8,371.1 256.2,370.7 257.0,370.1 257.5,369.7 258.4,369.1 258.8,368.7 259.7,368.1 260.2,367.8 261.2,367.1 261.7,366.8 262.7,366.2 263.2,365.9 264.2,365.2 264.9,364.8 265.7,364.3 266.8,363.7 267.3,363.4 268.4,362.8 269.5,362.3 270.0,362.0 271.1,361.4 272.3,360.8 273.4,360.3 274.0,360.0 275.2,359.5 276.4,358.9 277.6,358.4 278.7,357.9 279.4,357.6 280.6,357.1 281.9,356.6 283.2,356.1 284.4,355.6 285.7,355.1 287.0,354.6 288.4,354.1 289.7,353.6 291.1,353.2 292.4,352.7 293.8,352.2 295.2,351.8 296.5,351.4 297.3,351.1 298.8,350.7 300.2,350.3 301.7,349.8 303.1,349.4 303.9,349.2 305.4,348.8 306.9,348.4 307.9,348.2 309.2,347.8 310.8,347.4 311.9,347.2 313.1,346.9 314.7,346.5 315.5,346.3 317.1,345.9 318.6,345.6 319.6,345.4 321.2,345.0 322.0,344.9 323.7,344.5 324.6,344.4 326.2,344.0 327.1,343.9 328.8,343.6 329.7,343.4 331.4,343.1 332.3,342.9 334.1,342.6 335.0,342.5 336.4,342.2 337.7,342.0 338.6,341.9 340.5,341.6 341.4,341.5 342.7,341.3 344.2,341.1 345.2,341.0 346.7,340.8 348.0,340.6 349.0,340.5 350.4,340.3 351.9,340.1 352.9,340.0 354.0,339.9 355.7,339.7 357.0,339.6 358.0,339.5 359.1,339.4 360.8,339.2 362.1,339.1 363.2,339.0 364.3,338.9 365.6,338.8 367.2,338.7 368.6,338.6 369.7,338.5 370.8,338.4 371.9,338.4 373.2,338.3 374.7,338.2 376.1,338.1 377.5,338.0 378.8,338.0 379.9,337.9 381.1,337.9 382.3,337.8 383.5,337.8 384.7,337.8 386.0,337.7 387.2,337.7 388.4,337.7 389.7,337.7 391.0,337.6 392.3,337.6 393.6,337.6 394.9,337.6 396.2,337.6 397.5,337.6 398.9,337.6 400.3,337.6 401.7,337.7 403.1,337.7 404.4,337.7 405.5,337.7 406.7,337.8 407.8,337.8 409.0,337.8 410.4,337.9 411.9,338.0 413.4,338.0 414.5,338.1 415.6,338.1 416.7,338.2 418.3,338.3 419.9,338.4 420.9,338.5 421.9,338.5 423.4,338.7 425.0,338.8 426.0,338.9 427.0,339.0 428.9,339.1 430.0,339.2 431.0,339.3 432.8,339.5 433.9,339.7 434.9,339.8 436.7,340.0 437.7,340.1 439.2,340.3 440.5,340.5 441.5,340.6 443.2,340.8 444.1,341.0 445.8,341.3 446.7,341.4 448.5,341.7 449.4,341.8 451.0,342.1 452.4,342.4 453.6,342.6 455.2,342.9 456.1,343.1 457.7,343.4 459.3,343.8 460.1,343.9 461.7,344.3 463.2,344.7 464.8,345.0 465.5,345.2" fill="none" stroke="#ff5500" stroke-width="2.5"/>
<line x1="111.6" y1="318.1" x2="382.4" y2="230.6" stroke="#000" stroke-width="1.3"/>
<line x1="382.4" y1="230.6" x2="668.5" y2="311.2" stroke="#000" stroke-width="1.3"/>
<line x1="108.9" y1="267.1" x2="382.3" y2="184.8" stroke="#000" stroke-width="1.3"/>
<line x1="382.3" y1="184.8" x2="671.2" y2="260.5" stroke="#000" stroke-width="1.3"/>
<line x1="106.1" y1="216.0" x2="382.3" y2="139.0" stroke="#000" stroke-width="1.3"/>
<line x1="382.3" y1="139.0" x2="673.9" y2="209.8" stroke="#000" stroke-width="1.3"/>
<line x1="103.4" y1="164.9" x2="382.2" y2="93.2" stroke="#000" stroke-width="1.3"/>
<line x1="382.2" y1="93.2" x2="676.6" y2="159.2" stroke="#000" stroke-width="1.3"/>
<line x1="100.7" y1="113.8" x2="382.1" y2="47.4" stroke="#000" stroke-width="1.3"/>
<line x1="382.1" y1="47.4" x2="679.3" y2="108.5" stroke="#000" stroke-width="1.3"/>
<line x1="97.9" y1="62.8" x2="382.0" y2="1.7" stroke="#000" stroke-width="1.3"/>
<line x1="382.0" y1="1.7" x2="682.0" y2="57.9" stroke="#000" stroke-width="1.3"/>
<line x1="169.0" y1="47.5" x2="179.3" y2="296.3" stroke="#000" stroke-width="1.3"/>
<line x1="240.0" y1="32.2" x2="247.0" y2="274.4" stroke="#000" stroke-width="1.3"/>
<line x1="311.0" y1="16.9" x2="314.7" y2="252.5" stroke="#000" stroke-width="1.3"/>
<line x1="442.0" y1="12.9" x2="439.6" y2="246.7" stroke="#000" stroke-width="1.3"/>
<line x1="502.0" y1="24.1" x2="496.9" y2="262.8" stroke="#000" stroke-width="1.3"/>
<line x1="562.0" y1="35.4" x2="554.1" y2="278.9" stroke="#000" stroke-width="1.3"/>
<line x1="622.0" y1="46.6" x2="611.3" y2="295.1" stroke="#000" stroke-width="1.3"/>
<line x1="97.9" y1="62.8" x2="115.9" y2="398.4" stroke="#000" stroke-width="1.3"/>
<line x1="382.0" y1="1.7" x2="382.5" y2="303.1" stroke="#000" stroke-width="1.3"/>
<line x1="682.0" y1="57.9" x2="664.3" y2="390.8" stroke="#000" stroke-width="1.3"/>
<circle cx="111.6" cy="318.1" r="2.8" fill="#000"/>
<circle cx="108.9" cy="267.1" r="2.8" fill="#000"/>
<circle cx="106.1" cy="216.0" r="2.8" fill="#000"/>
<circle cx="103.4" cy="164.9" r="2.8" fill="#000"/>
<circle cx="100.7" cy="113.8" r="2.8" fill="#000"/>
<circle cx="97.9" cy="62.8" r="2.8" fill="#000"/>
<circle cx="115.9" cy="398.4" r="2.8" fill="#000"/>
<circle cx="402.5" cy="511.1" r="2.8" fill="#000"/>
<circle cx="664.3" cy="390.8" r="2.8" fill="#000"/>
<circle cx="173.2" cy="420.9" r="2.8" fill="#000"/>
<circle cx="230.6" cy="443.5" r="2.8" fill="#000"/>
<circle cx="287.9" cy="466.0" r="2.8" fill="#000"/>
<circle cx="345.2" cy="488.6" r="2.8" fill="#000"/>
<circle cx="468.0" cy="481.0" r="2.8" fill="#000"/>
<circle cx="533.4" cy="451.0" r="2.8" fill="#000"/>
<circle cx="598.9" cy="420.9" r="2.8" fill="#000"/>
<circle cx="250.6" cy="91.9" r="5.8" fill="#c40000" stroke="#2a0000" stroke-width="1.4"/>
<circle cx="522.2" cy="87.6" r="7.1" fill="#ffffff" stroke="#1a0000" stroke-width="3.0"/>
<circle cx="522.2" cy="87.6" r="7.1" fill="none" stroke="#a00000" stroke-width="1.3"/>
<circle cx="243.1" cy="183.3" r="5.8" fill="#ffc4c4" stroke="#000" stroke-width="1.0"/>
<circle cx="549.3" cy="196.2" r="5.8" fill="#ffc4c4" stroke="#000" stroke-width="1.0"/>
<g transform="translate(-0.2,0.5)">
<polygon points="383.0,80.6 395.4,82.0 382.2,84.4 369.7,83.0" fill="url(#g0)" stroke="#140800" stroke-opacity="0.82" stroke-width="1.05" stroke-linejoin="round"/>
<polygon points="396.4,79.0 408.8,80.3 395.4,82.0 383.0,80.6" fill="url(#g1)" stroke="#140800" stroke-opacity="0.82" stroke-width="1.05" stroke-linejoin="round"/>
<polygon points="370.4,79.8 383.0,80.6 369.7,83.0 357.1,82.0" fill="url(#g2)" stroke="#140800" stroke-opacity="0.82" stroke-width="1.05" stroke-linejoin="round"/>
<polygon points="410.0,77.9 422.4,79.2 408.8,80.3 396.4,79.0" fill="url(#g3)" stroke="#140800" stroke-opacity="0.82" stroke-width="1.05" stroke-linejoin="round"/>
<polygon points="383.8,78.1 396.4,79.0 383.0,80.6 370.4,79.8" fill="url(#g4)" stroke="#140800" stroke-opacity="0.82" stroke-width="1.05" stroke-linejoin="round"/>
<polygon points="357.6,79.3 370.4,79.8 357.1,82.0 344.4,81.6" fill="url(#g5)" stroke="#140800" stroke-opacity="0.82" stroke-width="1.05" stroke-linejoin="round"/>
<polygon points="423.7,77.4 436.1,78.8 422.4,79.2 410.0,77.9" fill="url(#g6)" stroke="#140800" stroke-opacity="0.82" stroke-width="1.05" stroke-linejoin="round"/>
<polygon points="397.4,77.0 410.0,77.9 396.4,79.0 383.8,78.1" fill="url(#g7)" stroke="#140800" stroke-opacity="0.82" stroke-width="1.05" stroke-linejoin="round"/>
<polygon points="371.1,77.7 383.8,78.1 370.4,79.8 357.6,79.3" fill="url(#g8)" stroke="#140800" stroke-opacity="0.82" stroke-width="1.05" stroke-linejoin="round"/>
<polygon points="344.7,79.4 357.6,79.3 344.4,81.6 331.5,81.7" fill="url(#g9)" stroke="#140800" stroke-opacity="0.82" stroke-width="1.05" stroke-linejoin="round"/>
<polygon points="437.6,77.6 450.0,78.9 436.1,78.8 423.7,77.4" fill="url(#g10)" stroke="#140800" stroke-opacity="0.82" stroke-width="1.05" stroke-linejoin="round"/>
<polygon points="411.2,76.6 423.7,77.4 410.0,77.9 397.4,77.0" fill="url(#g11)" stroke="#140800" stroke-opacity="0.82" stroke-width="1.05" stroke-linejoin="round"/>
<polygon points="384.7,76.7 397.4,77.0 383.8,78.1 371.1,77.7" fill="url(#g12)" stroke="#140800" stroke-opacity="0.82" stroke-width="1.05" stroke-linejoin="round"/>
<polygon points="358.1,77.8 371.1,77.7 357.6,79.3 344.7,79.4" fill="url(#g13)" stroke="#140800" stroke-opacity="0.82" stroke-width="1.05" stroke-linejoin="round"/>
<polygon points="331.6,80.0 344.7,79.4 331.5,81.7 318.4,82.3" fill="url(#g14)" stroke="#140800" stroke-opacity="0.82" stroke-width="1.05" stroke-linejoin="round"/>
<polygon points="451.7,78.5 464.0,79.8 450.0,78.9 437.6,77.6" fill="url(#g15)" stroke="#140800" stroke-opacity="0.82" stroke-width="1.05" stroke-linejoin="round"/>
<polygon points="425.1,76.8 437.6,77.6 423.7,77.4 411.2,76.6" fill="url(#g16)" stroke="#140800" stroke-opacity="0.82" stroke-width="1.05" stroke-linejoin="round"/>
<polygon points="398.4,76.3 411.2,76.6 397.4,77.0 384.7,76.7" fill="url(#g17)" stroke="#140800" stroke-opacity="0.82" stroke-width="1.05" stroke-linejoin="round"/>
<polygon points="371.8,76.8 384.7,76.7 371.1,77.7 358.1,77.8" fill="url(#g18)" stroke="#140800" stroke-opacity="0.82" stroke-width="1.05" stroke-linejoin="round"/>
<polygon points="318.4,81.2 331.6,80.0 318.4,82.3 305.1,83.4" fill="url(#g19)" stroke="#140800" stroke-opacity="0.82" stroke-width="1.05" stroke-linejoin="round"/>
<polygon points="345.1,78.4 358.1,77.8 344.7,79.4 331.6,80.0" fill="url(#g20)" stroke="#140800" stroke-opacity="0.82" stroke-width="1.05" stroke-linejoin="round"/>
<polygon points="465.9,80.1 478.2,81.3 464.0,79.8 451.7,78.5" fill="url(#g21)" stroke="#140800" stroke-opacity="0.82" stroke-width="1.05" stroke-linejoin="round"/>
<polygon points="439.2,77.8 451.7,78.5 437.6,77.6 425.1,76.8" fill="url(#g22)" stroke="#140800" stroke-opacity="0.82" stroke-width="1.05" stroke-linejoin="round"/>
<polygon points="412.4,76.6 425.1,76.8 411.2,76.6 398.4,76.3" fill="url(#g23)" stroke="#140800" stroke-opacity="0.82" stroke-width="1.05" stroke-linejoin="round"/>
<polygon points="385.5,76.5 398.4,76.3 384.7,76.7 371.8,76.8" fill="url(#g24)" stroke="#140800" stroke-opacity="0.82" stroke-width="1.05" stroke-linejoin="round"/>
<polygon points="305.0,82.8 318.4,81.2 305.1,83.4 291.7,85.0" fill="url(#g25)" stroke="#140800" stroke-opacity="0.82" stroke-width="1.05" stroke-linejoin="round"/>
<polygon points="358.7,77.5 371.8,76.8 358.1,77.8 345.1,78.4" fill="url(#g26)" stroke="#140800" stroke-opacity="0.82" stroke-width="1.05" stroke-linejoin="round"/>
<polygon points="331.8,79.6 345.1,78.4 331.6,80.0 318.4,81.2" fill="url(#g27)" stroke="#140800" stroke-opacity="0.82" stroke-width="1.05" stroke-linejoin="round"/>
<polygon points="480.3,82.3 492.6,83.4 478.2,81.3 465.9,80.1" fill="url(#g28)" stroke="#140800" stroke-opacity="0.82" stroke-width="1.05" stroke-linejoin="round"/>
<polygon points="453.4,79.3 465.9,80.1 451.7,78.5 439.2,77.8" fill="url(#g29)" stroke="#140800" stroke-opacity="0.82" stroke-width="1.05" stroke-linejoin="round"/>
<polygon points="426.5,77.5 439.2,77.8 425.1,76.8 412.4,76.6" fill="url(#g30)" stroke="#140800" stroke-opacity="0.82" stroke-width="1.05" stroke-linejoin="round"/>
<polygon points="399.5,76.8 412.4,76.6 398.4,76.3 385.5,76.5" fill="url(#g31)" stroke="#140800" stroke-opacity="0.82" stroke-width="1.05" stroke-linejoin="round"/>
<polygon points="291.4,85.0 305.0,82.8 291.7,85.0 278.1,87.2" fill="url(#g32)" stroke="#140800" stroke-opacity="0.82" stroke-width="1.05" stroke-linejoin="round"/>
<polygon points="372.5,77.2 385.5,76.5 371.8,76.8 358.7,77.5" fill="url(#g33)" stroke="#140800" stroke-opacity="0.82" stroke-width="1.05" stroke-linejoin="round"/>
<polygon points="318.4,81.3 331.8,79.6 318.4,81.2 305.0,82.8" fill="url(#g34)" stroke="#140800" stroke-opacity="0.82" stroke-width="1.05" stroke-linejoin="round"/>
<polygon points="345.4,78.7 358.7,77.5 345.1,78.4 331.8,79.6" fill="url(#g35)" stroke="#140800" stroke-opacity="0.82" stroke-width="1.05" stroke-linejoin="round"/>
<polygon points="494.9,85.2 507.1,86.3 492.6,83.4 480.3,82.3" fill="url(#g36)" stroke="#140800" stroke-opacity="0.82" stroke-width="1.05" stroke-linejoin="round"/>
<polygon points="467.9,81.6 480.3,82.3 465.9,80.1 453.4,79.3" fill="url(#g37)" stroke="#140800" stroke-opacity="0.82" stroke-width="1.05" stroke-linejoin="round"/>
<polygon points="440.8,79.1 453.4,79.3 439.2,77.8 426.5,77.5" fill="url(#g38)" stroke="#140800" stroke-opacity="0.82" stroke-width="1.05" stroke-linejoin="round"/>
<polygon points="413.6,77.8 426.5,77.5 412.4,76.6 399.5,76.8" fill="url(#g39)" stroke="#140800" stroke-opacity="0.82" stroke-width="1.05" stroke-linejoin="round"/>
<polygon points="386.4,77.5 399.5,76.8 385.5,76.5 372.5,77.2" fill="url(#g40)" stroke="#140800" stroke-opacity="0.82" stroke-width="1.05" stroke-linejoin="round"/>
<polygon points="277.6,87.8 291.4,85.0 278.1,87.2 264.4,89.9" fill="url(#g41)" stroke="#140800" stroke-opacity="0.82" stroke-width="1.05" stroke-linejoin="round"/>
<polygon points="359.2,78.4 372.5,77.2 358.7,77.5 345.4,78.7" fill="url(#g42)" stroke="#140800" stroke-opacity="0.82" stroke-width="1.05" stroke-linejoin="round"/>
<polygon points="304.8,83.5 318.4,81.3 305.0,82.8 291.4,85.0" fill="url(#g43)" stroke="#140800" stroke-opacity="0.82" stroke-width="1.05" stroke-linejoin="round"/>
<polygon points="332.0,80.4 345.4,78.7 331.8,79.6 318.4,81.3" fill="url(#g44)" stroke="#140800" stroke-opacity="0.82" stroke-width="1.05" stroke-linejoin="round"/>
<polygon points="509.6,88.8 521.8,89.9 507.1,86.3 494.9,85.2" fill="url(#g45)" stroke="#140800" stroke-opacity="0.82" stroke-width="1.05" stroke-linejoin="round"/>
<polygon points="482.4,84.6 494.9,85.2 480.3,82.3 467.9,81.6" fill="url(#g46)" stroke="#140800" stroke-opacity="0.82" stroke-width="1.05" stroke-linejoin="round"/>
<polygon points="455.2,81.5 467.9,81.6 453.4,79.3 440.8,79.1" fill="url(#g47)" stroke="#140800" stroke-opacity="0.82" stroke-width="1.05" stroke-linejoin="round"/>
<polygon points="427.9,79.4 440.8,79.1 426.5,77.5 413.6,77.8" fill="url(#g48)" stroke="#140800" stroke-opacity="0.82" stroke-width="1.05" stroke-linejoin="round"/>
<polygon points="400.6,78.6 413.6,77.8 399.5,76.8 386.4,77.5" fill="url(#g49)" stroke="#140800" stroke-opacity="0.82" stroke-width="1.05" stroke-linejoin="round"/>
<polygon points="263.7,91.1 277.6,87.8 264.4,89.9 250.5,93.1" fill="url(#g50)" stroke="#140800" stroke-opacity="0.82" stroke-width="1.05" stroke-linejoin="round"/>
<polygon points="373.2,78.8 386.4,77.5 372.5,77.2 359.2,78.4" fill="url(#g51)" stroke="#140800" stroke-opacity="0.82" stroke-width="1.05" stroke-linejoin="round"/>
<polygon points="291.1,86.3 304.8,83.5 291.4,85.0 277.6,87.8" fill="url(#g52)" stroke="#140800" stroke-opacity="0.82" stroke-width="1.05" stroke-linejoin="round"/>
<polygon points="345.8,80.2 359.2,78.4 345.4,78.7 332.0,80.4" fill="url(#g53)" stroke="#140800" stroke-opacity="0.82" stroke-width="1.05" stroke-linejoin="round"/>
<polygon points="318.4,82.7 332.0,80.4 318.4,81.3 304.8,83.5" fill="url(#g54)" stroke="#140800" stroke-opacity="0.82" stroke-width="1.05" stroke-linejoin="round"/>
<polygon points="524.5,93.1 536.6,94.2 521.8,89.9 509.6,88.8" fill="url(#g55)" stroke="#140800" stroke-opacity="0.82" stroke-width="1.05" stroke-linejoin="round"/>
<polygon points="497.2,88.3 509.6,88.8 494.9,85.2 482.4,84.6" fill="url(#g56)" stroke="#140800" stroke-opacity="0.82" stroke-width="1.05" stroke-linejoin="round"/>
<polygon points="469.8,84.5 482.4,84.6 467.9,81.6 455.2,81.5" fill="url(#g57)" stroke="#140800" stroke-opacity="0.82" stroke-width="1.05" stroke-linejoin="round"/>
<polygon points="442.4,81.8 455.2,81.5 440.8,79.1 427.9,79.4" fill="url(#g58)" stroke="#140800" stroke-opacity="0.82" stroke-width="1.05" stroke-linejoin="round"/>
<polygon points="414.9,80.3 427.9,79.4 413.6,77.8 400.6,78.6" fill="url(#g59)" stroke="#140800" stroke-opacity="0.82" stroke-width="1.05" stroke-linejoin="round"/>
<polygon points="249.7,95.0 263.7,91.1 250.5,93.1 236.5,97.0" fill="url(#g60)" stroke="#140800" stroke-opacity="0.82" stroke-width="1.05" stroke-linejoin="round"/>
<polygon points="387.4,79.9 400.6,78.6 386.4,77.5 373.2,78.8" fill="url(#g61)" stroke="#140800" stroke-opacity="0.82" stroke-width="1.05" stroke-linejoin="round"/>
<polygon points="277.2,89.7 291.1,86.3 277.6,87.8 263.7,91.1" fill="url(#g62)" stroke="#140800" stroke-opacity="0.82" stroke-width="1.05" stroke-linejoin="round"/>
<polygon points="359.8,80.7 373.2,78.8 359.2,78.4 345.8,80.2" fill="url(#g63)" stroke="#140800" stroke-opacity="0.82" stroke-width="1.05" stroke-linejoin="round"/>
<polygon points="304.7,85.5 318.4,82.7 304.8,83.5 291.1,86.3" fill="url(#g64)" stroke="#140800" stroke-opacity="0.82" stroke-width="1.05" stroke-linejoin="round"/>
<polygon points="332.2,82.5 345.8,80.2 332.0,80.4 318.4,82.7" fill="url(#g65)" stroke="#140800" stroke-opacity="0.82" stroke-width="1.05" stroke-linejoin="round"/>
<polygon points="539.5,98.2 551.6,99.2 536.6,94.2 524.5,93.1" fill="url(#g66)" stroke="#140800" stroke-opacity="0.82" stroke-width="1.05" stroke-linejoin="round"/>
<polygon points="512.1,92.7 524.5,93.1 509.6,88.8 497.2,88.3" fill="url(#g67)" stroke="#140800" stroke-opacity="0.82" stroke-width="1.05" stroke-linejoin="round"/>
<polygon points="484.6,88.2 497.2,88.3 482.4,84.6 469.8,84.5" fill="url(#g68)" stroke="#140800" stroke-opacity="0.82" stroke-width="1.05" stroke-linejoin="round"/>
<polygon points="457.0,84.9 469.8,84.5 455.2,81.5 442.4,81.8" fill="url(#g69)" stroke="#140800" stroke-opacity="0.82" stroke-width="1.05" stroke-linejoin="round"/>
<polygon points="429.4,82.7 442.4,81.8 427.9,79.4 414.9,80.3" fill="url(#g70)" stroke="#140800" stroke-opacity="0.82" stroke-width="1.05" stroke-linejoin="round"/>
<polygon points="235.4,99.4 249.7,95.0 236.5,97.0 222.3,101.4" fill="url(#g71)" stroke="#140800" stroke-opacity="0.82" stroke-width="1.05" stroke-linejoin="round"/>
<polygon points="401.7,81.7 414.9,80.3 400.6,78.6 387.4,79.9" fill="url(#g72)" stroke="#140800" stroke-opacity="0.82" stroke-width="1.05" stroke-linejoin="round"/>
<polygon points="554.6,104.0 566.7,104.9 551.6,99.2 539.5,98.2" fill="url(#g73)" stroke="#140800" stroke-opacity="0.82" stroke-width="1.05" stroke-linejoin="round"/>
<polygon points="263.1,93.6 277.2,89.7 263.7,91.1 249.7,95.0" fill="url(#g74)" stroke="#140800" stroke-opacity="0.82" stroke-width="1.05" stroke-linejoin="round"/>
<polygon points="374.0,81.8 387.4,79.9 373.2,78.8 359.8,80.7" fill="url(#g75)" stroke="#140800" stroke-opacity="0.82" stroke-width="1.05" stroke-linejoin="round"/>
<polygon points="290.8,89.0 304.7,85.5 291.1,86.3 277.2,89.7" fill="url(#g76)" stroke="#140800" stroke-opacity="0.82" stroke-width="1.05" stroke-linejoin="round"/>
<polygon points="346.2,83.0 359.8,80.7 345.8,80.2 332.2,82.5" fill="url(#g77)" stroke="#140800" stroke-opacity="0.82" stroke-width="1.05" stroke-linejoin="round"/>
<polygon points="318.5,85.4 332.2,82.5 318.4,82.7 304.7,85.5" fill="url(#g78)" stroke="#140800" stroke-opacity="0.82" stroke-width="1.05" stroke-linejoin="round"/>
<polygon points="527.1,97.8 539.5,98.2 524.5,93.1 512.1,92.7" fill="url(#g79)" stroke="#140800" stroke-opacity="0.82" stroke-width="1.05" stroke-linejoin="round"/>
<polygon points="499.5,92.7 512.1,92.7 497.2,88.3 484.6,88.2" fill="url(#g80)" stroke="#140800" stroke-opacity="0.82" stroke-width="1.05" stroke-linejoin="round"/>
<polygon points="471.8,88.7 484.6,88.2 469.8,84.5 457.0,84.9" fill="url(#g81)" stroke="#140800" stroke-opacity="0.82" stroke-width="1.05" stroke-linejoin="round"/>
<polygon points="444.0,85.9 457.0,84.9 442.4,81.8 429.4,82.7" fill="url(#g82)" stroke="#140800" stroke-opacity="0.82" stroke-width="1.05" stroke-linejoin="round"/>
<polygon points="569.9,110.6 582.0,111.4 566.7,104.9 554.6,104.0" fill="url(#g83)" stroke="#140800" stroke-opacity="0.82" stroke-width="1.05" stroke-linejoin="round"/>
<polygon points="221.1,104.5 235.4,99.4 222.3,101.4 207.9,106.4" fill="url(#g84)" stroke="#140800" stroke-opacity="0.82" stroke-width="1.05" stroke-linejoin="round"/>
<polygon points="416.2,84.2 429.4,82.7 414.9,80.3 401.7,81.7" fill="url(#g85)" stroke="#140800" stroke-opacity="0.82" stroke-width="1.05" stroke-linejoin="round"/>
<polygon points="248.8,98.1 263.1,93.6 249.7,95.0 235.4,99.4" fill="url(#g86)" stroke="#140800" stroke-opacity="0.82" stroke-width="1.05" stroke-linejoin="round"/>
<polygon points="388.3,83.6 401.7,81.7 387.4,79.9 374.0,81.8" fill="url(#g87)" stroke="#140800" stroke-opacity="0.82" stroke-width="1.05" stroke-linejoin="round"/>
<polygon points="276.7,93.0 290.8,89.0 277.2,89.7 263.1,93.6" fill="url(#g88)" stroke="#140800" stroke-opacity="0.82" stroke-width="1.05" stroke-linejoin="round"/>
<polygon points="360.4,84.3 374.0,81.8 359.8,80.7 346.2,83.0" fill="url(#g89)" stroke="#140800" stroke-opacity="0.82" stroke-width="1.05" stroke-linejoin="round"/>
<polygon points="542.3,103.7 554.6,104.0 539.5,98.2 527.1,97.8" fill="url(#g90)" stroke="#140800" stroke-opacity="0.82" stroke-width="1.05" stroke-linejoin="round"/>
<polygon points="304.6,88.9 318.5,85.4 304.7,85.5 290.8,89.0" fill="url(#g91)" stroke="#140800" stroke-opacity="0.82" stroke-width="1.05" stroke-linejoin="round"/>
<polygon points="332.5,86.0 346.2,83.0 332.2,82.5 318.5,85.4" fill="url(#g92)" stroke="#140800" stroke-opacity="0.82" stroke-width="1.05" stroke-linejoin="round"/>
<polygon points="514.6,97.9 527.1,97.8 512.1,92.7 499.5,92.7" fill="url(#g93)" stroke="#140800" stroke-opacity="0.82" stroke-width="1.05" stroke-linejoin="round"/>
<polygon points="486.8,93.3 499.5,92.7 484.6,88.2 471.8,88.7" fill="url(#g94)" stroke="#140800" stroke-opacity="0.82" stroke-width="1.05" stroke-linejoin="round"/>
<polygon points="585.3,117.9 597.4,118.6 582.0,111.4 569.9,110.6" fill="url(#g95)" stroke="#140800" stroke-opacity="0.82" stroke-width="1.05" stroke-linejoin="round"/>
<polygon points="458.9,89.8 471.8,88.7 457.0,84.9 444.0,85.9" fill="url(#g96)" stroke="#140800" stroke-opacity="0.82" stroke-width="1.05" stroke-linejoin="round"/>
<polygon points="206.5,110.1 221.1,104.5 207.9,106.4 193.4,111.9" fill="url(#g97)" stroke="#140800" stroke-opacity="0.82" stroke-width="1.05" stroke-linejoin="round"/>
<polygon points="430.9,87.4 444.0,85.9 429.4,82.7 416.2,84.2" fill="url(#g98)" stroke="#140800" stroke-opacity="0.82" stroke-width="1.05" stroke-linejoin="round"/>
<polygon points="557.7,110.3 569.9,110.6 554.6,104.0 542.3,103.7" fill="url(#g99)" stroke="#140800" stroke-opacity="0.82" stroke-width="1.05" stroke-linejoin="round"/>
<polygon points="234.4,103.3 248.8,98.1 235.4,99.4 221.1,104.5" fill="url(#g100)" stroke="#140800" stroke-opacity="0.82" stroke-width="1.05" stroke-linejoin="round"/>
<polygon points="402.8,86.2 416.2,84.2 401.7,81.7 388.3,83.6" fill="url(#g101)" stroke="#140800" stroke-opacity="0.82" stroke-width="1.05" stroke-linejoin="round"/>
<polygon points="262.4,97.5 276.7,93.0 263.1,93.6 248.8,98.1" fill="url(#g102)" stroke="#140800" stroke-opacity="0.82" stroke-width="1.05" stroke-linejoin="round"/>
<polygon points="374.8,86.2 388.3,83.6 374.0,81.8 360.4,84.3" fill="url(#g103)" stroke="#140800" stroke-opacity="0.82" stroke-width="1.05" stroke-linejoin="round"/>
<polygon points="290.5,93.0 304.6,88.9 290.8,89.0 276.7,93.0" fill="url(#g104)" stroke="#140800" stroke-opacity="0.82" stroke-width="1.05" stroke-linejoin="round"/>
<polygon points="346.7,87.3 360.4,84.3 346.2,83.0 332.5,86.0" fill="url(#g105)" stroke="#140800" stroke-opacity="0.82" stroke-width="1.05" stroke-linejoin="round"/>
<polygon points="318.6,89.5 332.5,86.0 318.5,85.4 304.6,88.9" fill="url(#g106)" stroke="#140800" stroke-opacity="0.82" stroke-width="1.05" stroke-linejoin="round"/>
<polygon points="529.8,103.9 542.3,103.7 527.1,97.8 514.6,97.9" fill="url(#g107)" stroke="#140800" stroke-opacity="0.82" stroke-width="1.05" stroke-linejoin="round"/>
<polygon points="501.9,98.6 514.6,97.9 499.5,92.7 486.8,93.3" fill="url(#g108)" stroke="#140800" stroke-opacity="0.82" stroke-width="1.05" stroke-linejoin="round"/>
<polygon points="600.9,125.9 612.9,126.5 597.4,118.6 585.3,117.9" fill="url(#g109)" stroke="#140800" stroke-opacity="0.82" stroke-width="1.05" stroke-linejoin="round"/>
<polygon points="473.9,94.4 486.8,93.3 471.8,88.7 458.9,89.8" fill="url(#g110)" stroke="#140800" stroke-opacity="0.82" stroke-width="1.05" stroke-linejoin="round"/>
<polygon points="191.8,116.4 206.5,110.1 193.4,111.9 178.7,118.1" fill="url(#g111)" stroke="#140800" stroke-opacity="0.82" stroke-width="1.05" stroke-linejoin="round"/>
<polygon points="573.1,117.7 585.3,117.9 569.9,110.6 557.7,110.3" fill="url(#g112)" stroke="#140800" stroke-opacity="0.82" stroke-width="1.05" stroke-linejoin="round"/>
<polygon points="445.7,91.4 458.9,89.8 444.0,85.9 430.9,87.4" fill="url(#g113)" stroke="#140800" stroke-opacity="0.82" stroke-width="1.05" stroke-linejoin="round"/>
<polygon points="219.9,109.0 234.4,103.3 221.1,104.5 206.5,110.1" fill="url(#g114)" stroke="#140800" stroke-opacity="0.82" stroke-width="1.05" stroke-linejoin="round"/>
<polygon points="417.5,89.5 430.9,87.4 416.2,84.2 402.8,86.2" fill="url(#g115)" stroke="#140800" stroke-opacity="0.82" stroke-width="1.05" stroke-linejoin="round"/>
<polygon points="248.0,102.7 262.4,97.5 248.8,98.1 234.4,103.3" fill="url(#g116)" stroke="#140800" stroke-opacity="0.82" stroke-width="1.05" stroke-linejoin="round"/>
<polygon points="389.3,88.8 402.8,86.2 388.3,83.6 374.8,86.2" fill="url(#g117)" stroke="#140800" stroke-opacity="0.82" stroke-width="1.05" stroke-linejoin="round"/>
<polygon points="545.2,110.6 557.7,110.3 542.3,103.7 529.8,103.9" fill="url(#g118)" stroke="#140800" stroke-opacity="0.82" stroke-width="1.05" stroke-linejoin="round"/>
<polygon points="276.2,97.6 290.5,93.0 276.7,93.0 262.4,97.5" fill="url(#g119)" stroke="#140800" stroke-opacity="0.82" stroke-width="1.05" stroke-linejoin="round"/>
<polygon points="361.0,89.3 374.8,86.2 360.4,84.3 346.7,87.3" fill="url(#g120)" stroke="#140800" stroke-opacity="0.82" stroke-width="1.05" stroke-linejoin="round"/>
<polygon points="304.5,93.7 318.6,89.5 304.6,88.9 290.5,93.0" fill="url(#g121)" stroke="#140800" stroke-opacity="0.82" stroke-width="1.05" stroke-linejoin="round"/>
<polygon points="332.8,90.9 346.7,87.3 332.5,86.0 318.6,89.5" fill="url(#g122)" stroke="#140800" stroke-opacity="0.82" stroke-width="1.05" stroke-linejoin="round"/>
<polygon points="616.6,134.8 628.5,135.3 612.9,126.5 600.9,125.9" fill="url(#g123)" stroke="#140800" stroke-opacity="0.82" stroke-width="1.05" stroke-linejoin="round"/>
<polygon points="517.2,104.6 529.8,103.9 514.6,97.9 501.9,98.6" fill="url(#g124)" stroke="#140800" stroke-opacity="0.82" stroke-width="1.05" stroke-linejoin="round"/>
<polygon points="489.0,99.8 501.9,98.6 486.8,93.3 473.9,94.4" fill="url(#g125)" stroke="#140800" stroke-opacity="0.82" stroke-width="1.05" stroke-linejoin="round"/>
<polygon points="588.8,125.9 600.9,125.9 585.3,117.9 573.1,117.7" fill="url(#g126)" stroke="#140800" stroke-opacity="0.82" stroke-width="1.05" stroke-linejoin="round"/>
<polygon points="177.0,123.2 191.8,116.4 178.7,118.1 163.9,124.9" fill="url(#g127)" stroke="#140800" stroke-opacity="0.82" stroke-width="1.05" stroke-linejoin="round"/>
<polygon points="460.7,96.1 473.9,94.4 458.9,89.8 445.7,91.4" fill="url(#g128)" stroke="#140800" stroke-opacity="0.82" stroke-width="1.05" stroke-linejoin="round"/>
<polygon points="205.2,115.3 219.9,109.0 206.5,110.1 191.8,116.4" fill="url(#g129)" stroke="#140800" stroke-opacity="0.82" stroke-width="1.05" stroke-linejoin="round"/>
<polygon points="432.4,93.5 445.7,91.4 430.9,87.4 417.5,89.5" fill="url(#g130)" stroke="#140800" stroke-opacity="0.82" stroke-width="1.05" stroke-linejoin="round"/>
<polygon points="560.7,118.1 573.1,117.7 557.7,110.3 545.2,110.6" fill="url(#g131)" stroke="#140800" stroke-opacity="0.82" stroke-width="1.05" stroke-linejoin="round"/>
<polygon points="233.5,108.5 248.0,102.7 234.4,103.3 219.9,109.0" fill="url(#g132)" stroke="#140800" stroke-opacity="0.82" stroke-width="1.05" stroke-linejoin="round"/>
<polygon points="404.0,92.2 417.5,89.5 402.8,86.2 389.3,88.8" fill="url(#g133)" stroke="#140800" stroke-opacity="0.82" stroke-width="1.05" stroke-linejoin="round"/>
<polygon points="632.4,144.4 644.3,144.8 628.5,135.3 616.6,134.8" fill="url(#g134)" stroke="#140800" stroke-opacity="0.82" stroke-width="1.05" stroke-linejoin="round"/>
<polygon points="261.8,102.9 276.2,97.6 262.4,97.5 248.0,102.7" fill="url(#g135)" stroke="#140800" stroke-opacity="0.82" stroke-width="1.05" stroke-linejoin="round"/>
<polygon points="375.6,92.0 389.3,88.8 374.8,86.2 361.0,89.3" fill="url(#g136)" stroke="#140800" stroke-opacity="0.82" stroke-width="1.05" stroke-linejoin="round"/>
<polygon points="290.2,98.4 304.5,93.7 290.5,93.0 276.2,97.6" fill="url(#g137)" stroke="#140800" stroke-opacity="0.82" stroke-width="1.05" stroke-linejoin="round"/>
<polygon points="347.1,92.9 361.0,89.3 346.7,87.3 332.8,90.9" fill="url(#g138)" stroke="#140800" stroke-opacity="0.82" stroke-width="1.05" stroke-linejoin="round"/>
<polygon points="318.7,95.1 332.8,90.9 318.6,89.5 304.5,93.7" fill="url(#g139)" stroke="#140800" stroke-opacity="0.82" stroke-width="1.05" stroke-linejoin="round"/>
<polygon points="532.6,111.4 545.2,110.6 529.8,103.9 517.2,104.6" fill="url(#g140)" stroke="#140800" stroke-opacity="0.82" stroke-width="1.05" stroke-linejoin="round"/>
<polygon points="604.5,134.8 616.6,134.8 600.9,125.9 588.8,125.9" fill="url(#g141)" stroke="#140800" stroke-opacity="0.82" stroke-width="1.05" stroke-linejoin="round"/>
<polygon points="504.3,105.9 517.2,104.6 501.9,98.6 489.0,99.8" fill="url(#g142)" stroke="#140800" stroke-opacity="0.82" stroke-width="1.05" stroke-linejoin="round"/>
<polygon points="475.9,101.5 489.0,99.8 473.9,94.4 460.7,96.1" fill="url(#g143)" stroke="#140800" stroke-opacity="0.82" stroke-width="1.05" stroke-linejoin="round"/>
<polygon points="162.0,130.7 177.0,123.2 163.9,124.9 148.9,132.3" fill="url(#g144)" stroke="#140800" stroke-opacity="0.82" stroke-width="1.05" stroke-linejoin="round"/>
<polygon points="576.4,126.3 588.8,125.9 573.1,117.7 560.7,118.1" fill="url(#g145)" stroke="#140800" stroke-opacity="0.82" stroke-width="1.05" stroke-linejoin="round"/>
<polygon points="447.4,98.3 460.7,96.1 445.7,91.4 432.4,93.5" fill="url(#g146)" stroke="#140800" stroke-opacity="0.82" stroke-width="1.05" stroke-linejoin="round"/>
<polygon points="190.3,122.3 205.2,115.3 191.8,116.4 177.0,123.2" fill="url(#g147)" stroke="#140800" stroke-opacity="0.82" stroke-width="1.05" stroke-linejoin="round"/>
<polygon points="648.4,154.8 660.2,155.1 644.3,144.8 632.4,144.4" fill="url(#g148)" stroke="#140800" stroke-opacity="0.82" stroke-width="1.05" stroke-linejoin="round"/>
<polygon points="418.9,96.3 432.4,93.5 417.5,89.5 404.0,92.2" fill="url(#g149)" stroke="#140800" stroke-opacity="0.82" stroke-width="1.05" stroke-linejoin="round"/>
<polygon points="218.7,114.9 233.5,108.5 219.9,109.0 205.2,115.3" fill="url(#g150)" stroke="#140800" stroke-opacity="0.82" stroke-width="1.05" stroke-linejoin="round"/>
<polygon points="548.1,119.0 560.7,118.1 545.2,110.6 532.6,111.4" fill="url(#g151)" stroke="#140800" stroke-opacity="0.82" stroke-width="1.05" stroke-linejoin="round"/>
<polygon points="390.3,95.4 404.0,92.2 389.3,88.8 375.6,92.0" fill="url(#g152)" stroke="#140800" stroke-opacity="0.82" stroke-width="1.05" stroke-linejoin="round"/>
<polygon points="247.2,108.7 261.8,102.9 248.0,102.7 233.5,108.5" fill="url(#g153)" stroke="#140800" stroke-opacity="0.82" stroke-width="1.05" stroke-linejoin="round"/>
<polygon points="361.7,95.7 375.6,92.0 361.0,89.3 347.1,92.9" fill="url(#g154)" stroke="#140800" stroke-opacity="0.82" stroke-width="1.05" stroke-linejoin="round"/>
<polygon points="275.8,103.7 290.2,98.4 276.2,97.6 261.8,102.9" fill="url(#g155)" stroke="#140800" stroke-opacity="0.82" stroke-width="1.05" stroke-linejoin="round"/>
<polygon points="333.0,97.2 347.1,92.9 332.8,90.9 318.7,95.1" fill="url(#g156)" stroke="#140800" stroke-opacity="0.82" stroke-width="1.05" stroke-linejoin="round"/>
<polygon points="304.4,99.9 318.7,95.1 304.5,93.7 290.2,98.4" fill="url(#g157)" stroke="#140800" stroke-opacity="0.82" stroke-width="1.05" stroke-linejoin="round"/>
<polygon points="620.4,144.5 632.4,144.4 616.6,134.8 604.5,134.8" fill="url(#g158)" stroke="#140800" stroke-opacity="0.82" stroke-width="1.05" stroke-linejoin="round"/>
<polygon points="519.8,112.8 532.6,111.4 517.2,104.6 504.3,105.9" fill="url(#g159)" stroke="#140800" stroke-opacity="0.82" stroke-width="1.05" stroke-linejoin="round"/>
<polygon points="491.2,107.7 504.3,105.9 489.0,99.8 475.9,101.5" fill="url(#g160)" stroke="#140800" stroke-opacity="0.82" stroke-width="1.05" stroke-linejoin="round"/>
<polygon points="592.2,135.4 604.5,134.8 588.8,125.9 576.4,126.3" fill="url(#g161)" stroke="#140800" stroke-opacity="0.82" stroke-width="1.05" stroke-linejoin="round"/>
<polygon points="146.8,138.9 162.0,130.7 148.9,132.3 133.7,140.4" fill="url(#g162)" stroke="#140800" stroke-opacity="0.82" stroke-width="1.05" stroke-linejoin="round"/>
<polygon points="664.5,166.0 676.2,166.2 660.2,155.1 648.4,154.8" fill="url(#g163)" stroke="#140800" stroke-opacity="0.82" stroke-width="1.05" stroke-linejoin="round"/>
<polygon points="462.6,103.9 475.9,101.5 460.7,96.1 447.4,98.3" fill="url(#g164)" stroke="#140800" stroke-opacity="0.82" stroke-width="1.05" stroke-linejoin="round"/>
<polygon points="175.3,129.8 190.3,122.3 177.0,123.2 162.0,130.7" fill="url(#g165)" stroke="#140800" stroke-opacity="0.82" stroke-width="1.05" stroke-linejoin="round"/>
<polygon points="563.8,127.3 576.4,126.3 560.7,118.1 548.1,119.0" fill="url(#g166)" stroke="#140800" stroke-opacity="0.82" stroke-width="1.05" stroke-linejoin="round"/>
<polygon points="434.0,101.2 447.4,98.3 432.4,93.5 418.9,96.3" fill="url(#g167)" stroke="#140800" stroke-opacity="0.82" stroke-width="1.05" stroke-linejoin="round"/>
<polygon points="203.8,122.0 218.7,114.9 205.2,115.3 190.3,122.3" fill="url(#g168)" stroke="#140800" stroke-opacity="0.82" stroke-width="1.05" stroke-linejoin="round"/>
<polygon points="636.4,155.1 648.4,154.8 632.4,144.4 620.4,144.5" fill="url(#g169)" stroke="#140800" stroke-opacity="0.82" stroke-width="1.05" stroke-linejoin="round"/>
<polygon points="405.2,99.6 418.9,96.3 404.0,92.2 390.3,95.4" fill="url(#g170)" stroke="#140800" stroke-opacity="0.82" stroke-width="1.05" stroke-linejoin="round"/>
<polygon points="232.5,115.2 247.2,108.7 233.5,108.5 218.7,114.9" fill="url(#g171)" stroke="#140800" stroke-opacity="0.82" stroke-width="1.05" stroke-linejoin="round"/>
<polygon points="376.4,99.3 390.3,95.4 375.6,92.0 361.7,95.7" fill="url(#g172)" stroke="#140800" stroke-opacity="0.82" stroke-width="1.05" stroke-linejoin="round"/>
<polygon points="261.2,109.7 275.8,103.7 261.8,102.9 247.2,108.7" fill="url(#g173)" stroke="#140800" stroke-opacity="0.82" stroke-width="1.05" stroke-linejoin="round"/>
<polygon points="347.6,100.1 361.7,95.7 347.1,92.9 333.0,97.2" fill="url(#g174)" stroke="#140800" stroke-opacity="0.82" stroke-width="1.05" stroke-linejoin="round"/>
<polygon points="535.4,120.5 548.1,119.0 532.6,111.4 519.8,112.8" fill="url(#g175)" stroke="#140800" stroke-opacity="0.82" stroke-width="1.05" stroke-linejoin="round"/>
<polygon points="290.0,105.3 304.4,99.9 290.2,98.4 275.8,103.7" fill="url(#g176)" stroke="#140800" stroke-opacity="0.82" stroke-width="1.05" stroke-linejoin="round"/>
<polygon points="318.8,102.1 333.0,97.2 318.7,95.1 304.4,99.9" fill="url(#g177)" stroke="#140800" stroke-opacity="0.82" stroke-width="1.05" stroke-linejoin="round"/>
<polygon points="608.1,145.2 620.4,144.5 604.5,134.8 592.2,135.4" fill="url(#g178)" stroke="#140800" stroke-opacity="0.82" stroke-width="1.05" stroke-linejoin="round"/>
<polygon points="506.7,114.7 519.8,112.8 504.3,105.9 491.2,107.7" fill="url(#g179)" stroke="#140800" stroke-opacity="0.82" stroke-width="1.05" stroke-linejoin="round"/>
<polygon points="131.5,147.7 146.8,138.9 133.7,140.4 118.5,149.1" fill="url(#g180)" stroke="#140800" stroke-opacity="0.82" stroke-width="1.05" stroke-linejoin="round"/>
<polygon points="478.0,110.2 491.2,107.7 475.9,101.5 462.6,103.9" fill="url(#g181)" stroke="#140800" stroke-opacity="0.82" stroke-width="1.05" stroke-linejoin="round"/>
<polygon points="160.1,138.1 175.3,129.8 162.0,130.7 146.8,138.9" fill="url(#g182)" stroke="#140800" stroke-opacity="0.82" stroke-width="1.05" stroke-linejoin="round"/>
<polygon points="579.7,136.5 592.2,135.4 576.4,126.3 563.8,127.3" fill="url(#g183)" stroke="#140800" stroke-opacity="0.82" stroke-width="1.05" stroke-linejoin="round"/>
<polygon points="652.5,166.4 664.5,166.0 648.4,154.8 636.4,155.1" fill="url(#g184)" stroke="#140800" stroke-opacity="0.82" stroke-width="1.05" stroke-linejoin="round"/>
<polygon points="449.2,106.8 462.6,103.9 447.4,98.3 434.0,101.2" fill="url(#g185)" stroke="#140800" stroke-opacity="0.82" stroke-width="1.05" stroke-linejoin="round"/>
<polygon points="188.8,129.6 203.8,122.0 190.3,122.3 175.3,129.8" fill="url(#g186)" stroke="#140800" stroke-opacity="0.82" stroke-width="1.05" stroke-linejoin="round"/>
<polygon points="420.3,104.6 434.0,101.2 418.9,96.3 405.2,99.6" fill="url(#g187)" stroke="#140800" stroke-opacity="0.82" stroke-width="1.05" stroke-linejoin="round"/>
<polygon points="217.6,122.4 232.5,115.2 218.7,114.9 203.8,122.0" fill="url(#g188)" stroke="#140800" stroke-opacity="0.82" stroke-width="1.05" stroke-linejoin="round"/>
<polygon points="551.1,128.9 563.8,127.3 548.1,119.0 535.4,120.5" fill="url(#g189)" stroke="#140800" stroke-opacity="0.82" stroke-width="1.05" stroke-linejoin="round"/>
<polygon points="391.3,103.6 405.2,99.6 390.3,95.4 376.4,99.3" fill="url(#g190)" stroke="#140800" stroke-opacity="0.82" stroke-width="1.05" stroke-linejoin="round"/>
<polygon points="246.4,116.3 261.2,109.7 247.2,108.7 232.5,115.2" fill="url(#g191)" stroke="#140800" stroke-opacity="0.82" stroke-width="1.05" stroke-linejoin="round"/>
<polygon points="362.3,103.7 376.4,99.3 361.7,95.7 347.6,100.1" fill="url(#g192)" stroke="#140800" stroke-opacity="0.82" stroke-width="1.05" stroke-linejoin="round"/>
<polygon points="624.2,155.9 636.4,155.1 620.4,144.5 608.1,145.2" fill="url(#g193)" stroke="#140800" stroke-opacity="0.82" stroke-width="1.05" stroke-linejoin="round"/>
<polygon points="275.4,111.3 290.0,105.3 275.8,103.7 261.2,109.7" fill="url(#g194)" stroke="#140800" stroke-opacity="0.82" stroke-width="1.05" stroke-linejoin="round"/>
<polygon points="333.3,105.1 347.6,100.1 333.0,97.2 318.8,102.1" fill="url(#g195)" stroke="#140800" stroke-opacity="0.82" stroke-width="1.05" stroke-linejoin="round"/>
<polygon points="304.4,107.6 318.8,102.1 304.4,99.9 290.0,105.3" fill="url(#g196)" stroke="#140800" stroke-opacity="0.82" stroke-width="1.05" stroke-linejoin="round"/>
<polygon points="522.4,122.5 535.4,120.5 519.8,112.8 506.7,114.7" fill="url(#g197)" stroke="#140800" stroke-opacity="0.82" stroke-width="1.05" stroke-linejoin="round"/>
<polygon points="116.0,157.1 131.5,147.7 118.5,149.1 103.1,158.4" fill="url(#g198)" stroke="#140800" stroke-opacity="0.82" stroke-width="1.05" stroke-linejoin="round"/>
<polygon points="595.7,146.5 608.1,145.2 592.2,135.4 579.7,136.5" fill="url(#g199)" stroke="#140800" stroke-opacity="0.82" stroke-width="1.05" stroke-linejoin="round"/>
<polygon points="493.5,117.3 506.7,114.7 491.2,107.7 478.0,110.2" fill="url(#g200)" stroke="#140800" stroke-opacity="0.82" stroke-width="1.05" stroke-linejoin="round"/>
<polygon points="144.7,146.9 160.1,138.1 146.8,138.9 131.5,147.7" fill="url(#g201)" stroke="#140800" stroke-opacity="0.82" stroke-width="1.05" stroke-linejoin="round"/>
<polygon points="464.6,113.2 478.0,110.2 462.6,103.9 449.2,106.8" fill="url(#g202)" stroke="#140800" stroke-opacity="0.82" stroke-width="1.05" stroke-linejoin="round"/>
<polygon points="173.6,137.9 188.8,129.6 175.3,129.8 160.1,138.1" fill="url(#g203)" stroke="#140800" stroke-opacity="0.82" stroke-width="1.05" stroke-linejoin="round"/>
<polygon points="567.0,138.2 579.7,136.5 563.8,127.3 551.1,128.9" fill="url(#g204)" stroke="#140800" stroke-opacity="0.82" stroke-width="1.05" stroke-linejoin="round"/>
<polygon points="435.5,110.3 449.2,106.8 434.0,101.2 420.3,104.6" fill="url(#g205)" stroke="#140800" stroke-opacity="0.82" stroke-width="1.05" stroke-linejoin="round"/>
<polygon points="640.4,167.3 652.5,166.4 636.4,155.1 624.2,155.9" fill="url(#g206)" stroke="#140800" stroke-opacity="0.82" stroke-width="1.05" stroke-linejoin="round"/>
<polygon points="202.5,130.1 217.6,122.4 203.8,122.0 188.8,129.6" fill="url(#g207)" stroke="#140800" stroke-opacity="0.82" stroke-width="1.05" stroke-linejoin="round"/>
<polygon points="406.4,108.6 420.3,104.6 405.2,99.6 391.3,103.6" fill="url(#g208)" stroke="#140800" stroke-opacity="0.82" stroke-width="1.05" stroke-linejoin="round"/>
<polygon points="231.5,123.5 246.4,116.3 232.5,115.2 217.6,122.4" fill="url(#g209)" stroke="#140800" stroke-opacity="0.82" stroke-width="1.05" stroke-linejoin="round"/>
<polygon points="377.3,108.1 391.3,103.6 376.4,99.3 362.3,103.7" fill="url(#g210)" stroke="#140800" stroke-opacity="0.82" stroke-width="1.05" stroke-linejoin="round"/>
<polygon points="538.2,131.1 551.1,128.9 535.4,120.5 522.4,122.5" fill="url(#g211)" stroke="#140800" stroke-opacity="0.82" stroke-width="1.05" stroke-linejoin="round"/>
<polygon points="260.6,118.0 275.4,111.3 261.2,109.7 246.4,116.3" fill="url(#g212)" stroke="#140800" stroke-opacity="0.82" stroke-width="1.05" stroke-linejoin="round"/>
<polygon points="348.1,108.8 362.3,103.7 347.6,100.1 333.3,105.1" fill="url(#g213)" stroke="#140800" stroke-opacity="0.82" stroke-width="1.05" stroke-linejoin="round"/>
<polygon points="289.7,113.7 304.4,107.6 290.0,105.3 275.4,111.3" fill="url(#g214)" stroke="#140800" stroke-opacity="0.82" stroke-width="1.05" stroke-linejoin="round"/>
<polygon points="318.9,110.7 333.3,105.1 318.8,102.1 304.4,107.6" fill="url(#g215)" stroke="#140800" stroke-opacity="0.82" stroke-width="1.05" stroke-linejoin="round"/>
<polygon points="611.8,157.2 624.2,155.9 608.1,145.2 595.7,146.5" fill="url(#g216)" stroke="#140800" stroke-opacity="0.82" stroke-width="1.05" stroke-linejoin="round"/>
<polygon points="509.2,125.2 522.4,122.5 506.7,114.7 493.5,117.3" fill="url(#g217)" stroke="#140800" stroke-opacity="0.82" stroke-width="1.05" stroke-linejoin="round"/>
<polygon points="129.3,156.5 144.7,146.9 131.5,147.7 116.0,157.1" fill="url(#g218)" stroke="#140800" stroke-opacity="0.82" stroke-width="1.05" stroke-linejoin="round"/>
<polygon points="480.1,120.4 493.5,117.3 478.0,110.2 464.6,113.2" fill="url(#g219)" stroke="#140800" stroke-opacity="0.82" stroke-width="1.05" stroke-linejoin="round"/>
<polygon points="583.0,148.3 595.7,146.5 579.7,136.5 567.0,138.2" fill="url(#g220)" stroke="#140800" stroke-opacity="0.82" stroke-width="1.05" stroke-linejoin="round"/>
<polygon points="158.2,146.9 173.6,137.9 160.1,138.1 144.7,146.9" fill="url(#g221)" stroke="#140800" stroke-opacity="0.82" stroke-width="1.05" stroke-linejoin="round"/>
<polygon points="450.9,116.8 464.6,113.2 449.2,106.8 435.5,110.3" fill="url(#g222)" stroke="#140800" stroke-opacity="0.82" stroke-width="1.05" stroke-linejoin="round"/>
<polygon points="187.3,138.5 202.5,130.1 188.8,129.6 173.6,137.9" fill="url(#g223)" stroke="#140800" stroke-opacity="0.82" stroke-width="1.05" stroke-linejoin="round"/>
<polygon points="421.7,114.4 435.5,110.3 420.3,104.6 406.4,108.6" fill="url(#g224)" stroke="#140800" stroke-opacity="0.82" stroke-width="1.05" stroke-linejoin="round"/>
<polygon points="554.1,140.5 567.0,138.2 551.1,128.9 538.2,131.1" fill="url(#g225)" stroke="#140800" stroke-opacity="0.82" stroke-width="1.05" stroke-linejoin="round"/>
<polygon points="216.4,131.3 231.5,123.5 217.6,122.4 202.5,130.1" fill="url(#g226)" stroke="#140800" stroke-opacity="0.82" stroke-width="1.05" stroke-linejoin="round"/>
<polygon points="392.4,113.3 406.4,108.6 391.3,103.6 377.3,108.1" fill="url(#g227)" stroke="#140800" stroke-opacity="0.82" stroke-width="1.05" stroke-linejoin="round"/>
<polygon points="628.0,168.8 640.4,167.3 624.2,155.9 611.8,157.2" fill="url(#g228)" stroke="#140800" stroke-opacity="0.82" stroke-width="1.05" stroke-linejoin="round"/>
<polygon points="245.7,125.3 260.6,118.0 246.4,116.3 231.5,123.5" fill="url(#g229)" stroke="#140800" stroke-opacity="0.82" stroke-width="1.05" stroke-linejoin="round"/>
<polygon points="363.0,113.3 377.3,108.1 362.3,103.7 348.1,108.8" fill="url(#g230)" stroke="#140800" stroke-opacity="0.82" stroke-width="1.05" stroke-linejoin="round"/>
<polygon points="275.0,120.5 289.7,113.7 275.4,111.3 260.6,118.0" fill="url(#g231)" stroke="#140800" stroke-opacity="0.82" stroke-width="1.05" stroke-linejoin="round"/>
<polygon points="333.7,114.5 348.1,108.8 333.3,105.1 318.9,110.7" fill="url(#g232)" stroke="#140800" stroke-opacity="0.82" stroke-width="1.05" stroke-linejoin="round"/>
<polygon points="304.3,116.9 318.9,110.7 304.4,107.6 289.7,113.7" fill="url(#g233)" stroke="#140800" stroke-opacity="0.82" stroke-width="1.05" stroke-linejoin="round"/>
<polygon points="525.0,133.8 538.2,131.1 522.4,122.5 509.2,125.2" fill="url(#g234)" stroke="#140800" stroke-opacity="0.82" stroke-width="1.05" stroke-linejoin="round"/>
<polygon points="599.2,159.2 611.8,157.2 595.7,146.5 583.0,148.3" fill="url(#g235)" stroke="#140800" stroke-opacity="0.82" stroke-width="1.05" stroke-linejoin="round"/>
<polygon points="495.8,128.4 509.2,125.2 493.5,117.3 480.1,120.4" fill="url(#g236)" stroke="#140800" stroke-opacity="0.82" stroke-width="1.05" stroke-linejoin="round"/>
<polygon points="142.7,156.5 158.2,146.9 144.7,146.9 129.3,156.5" fill="url(#g237)" stroke="#140800" stroke-opacity="0.82" stroke-width="1.05" stroke-linejoin="round"/>
<polygon points="466.5,124.1 480.1,120.4 464.6,113.2 450.9,116.8" fill="url(#g238)" stroke="#140800" stroke-opacity="0.82" stroke-width="1.05" stroke-linejoin="round"/>
<polygon points="570.2,150.7 583.0,148.3 567.0,138.2 554.1,140.5" fill="url(#g239)" stroke="#140800" stroke-opacity="0.82" stroke-width="1.05" stroke-linejoin="round"/>
<polygon points="171.9,147.6 187.3,138.5 173.6,137.9 158.2,146.9" fill="url(#g240)" stroke="#140800" stroke-opacity="0.82" stroke-width="1.05" stroke-linejoin="round"/>
<polygon points="437.1,121.1 450.9,116.8 435.5,110.3 421.7,114.4" fill="url(#g241)" stroke="#140800" stroke-opacity="0.82" stroke-width="1.05" stroke-linejoin="round"/>
<polygon points="201.2,139.9 216.4,131.3 202.5,130.1 187.3,138.5" fill="url(#g242)" stroke="#140800" stroke-opacity="0.82" stroke-width="1.05" stroke-linejoin="round"/>
<polygon points="407.7,119.2 421.7,114.4 406.4,108.6 392.4,113.3" fill="url(#g243)" stroke="#140800" stroke-opacity="0.82" stroke-width="1.05" stroke-linejoin="round"/>
<polygon points="541.0,143.4 554.1,140.5 538.2,131.1 525.0,133.8" fill="url(#g244)" stroke="#140800" stroke-opacity="0.82" stroke-width="1.05" stroke-linejoin="round"/>
<polygon points="230.6,133.3 245.7,125.3 231.5,123.5 216.4,131.3" fill="url(#g245)" stroke="#140800" stroke-opacity="0.82" stroke-width="1.05" stroke-linejoin="round"/>
<polygon points="378.2,118.5 392.4,113.3 377.3,108.1 363.0,113.3" fill="url(#g246)" stroke="#140800" stroke-opacity="0.82" stroke-width="1.05" stroke-linejoin="round"/>
<polygon points="260.0,127.9 275.0,120.5 260.6,118.0 245.7,125.3" fill="url(#g247)" stroke="#140800" stroke-opacity="0.82" stroke-width="1.05" stroke-linejoin="round"/>
<polygon points="348.6,119.1 363.0,113.3 348.1,108.8 333.7,114.5" fill="url(#g248)" stroke="#140800" stroke-opacity="0.82" stroke-width="1.05" stroke-linejoin="round"/>
<polygon points="289.5,123.8 304.3,116.9 289.7,113.7 275.0,120.5" fill="url(#g249)" stroke="#140800" stroke-opacity="0.82" stroke-width="1.05" stroke-linejoin="round"/>
<polygon points="319.1,120.8 333.7,114.5 318.9,110.7 304.3,116.9" fill="url(#g250)" stroke="#140800" stroke-opacity="0.82" stroke-width="1.05" stroke-linejoin="round"/>
<polygon points="615.5,170.9 628.0,168.8 611.8,157.2 599.2,159.2" fill="url(#g251)" stroke="#140800" stroke-opacity="0.82" stroke-width="1.05" stroke-linejoin="round"/>
<polygon points="511.7,137.2 525.0,133.8 509.2,125.2 495.8,128.4" fill="url(#g252)" stroke="#140800" stroke-opacity="0.82" stroke-width="1.05" stroke-linejoin="round"/>
<polygon points="482.3,132.2 495.8,128.4 480.1,120.4 466.5,124.1" fill="url(#g253)" stroke="#140800" stroke-opacity="0.82" stroke-width="1.05" stroke-linejoin="round"/>
<polygon points="586.4,161.7 599.2,159.2 583.0,148.3 570.2,150.7" fill="url(#g254)" stroke="#140800" stroke-opacity="0.82" stroke-width="1.05" stroke-linejoin="round"/>
<polygon points="156.3,157.3 171.9,147.6 158.2,146.9 142.7,156.5" fill="url(#g255)" stroke="#140800" stroke-opacity="0.82" stroke-width="1.05" stroke-linejoin="round"/>
<polygon points="452.7,128.5 466.5,124.1 450.9,116.8 437.1,121.1" fill="url(#g256)" stroke="#140800" stroke-opacity="0.82" stroke-width="1.05" stroke-linejoin="round"/>
<polygon points="557.1,153.7 570.2,150.7 554.1,140.5 541.0,143.4" fill="url(#g257)" stroke="#140800" stroke-opacity="0.82" stroke-width="1.05" stroke-linejoin="round"/>
<polygon points="185.8,149.0 201.2,139.9 187.3,138.5 171.9,147.6" fill="url(#g258)" stroke="#140800" stroke-opacity="0.82" stroke-width="1.05" stroke-linejoin="round"/>
<polygon points="423.1,125.9 437.1,121.1 421.7,114.4 407.7,119.2" fill="url(#g259)" stroke="#140800" stroke-opacity="0.82" stroke-width="1.05" stroke-linejoin="round"/>
<polygon points="215.3,141.9 230.6,133.3 216.4,131.3 201.2,139.9" fill="url(#g260)" stroke="#140800" stroke-opacity="0.82" stroke-width="1.05" stroke-linejoin="round"/>
<polygon points="393.5,124.6 407.7,119.2 392.4,113.3 378.2,118.5" fill="url(#g261)" stroke="#140800" stroke-opacity="0.82" stroke-width="1.05" stroke-linejoin="round"/>
<polygon points="244.9,136.0 260.0,127.9 245.7,125.3 230.6,133.3" fill="url(#g262)" stroke="#140800" stroke-opacity="0.82" stroke-width="1.05" stroke-linejoin="round"/>
<polygon points="363.8,124.4 378.2,118.5 363.0,113.3 348.6,119.1" fill="url(#g263)" stroke="#140800" stroke-opacity="0.82" stroke-width="1.05" stroke-linejoin="round"/>
<polygon points="274.6,131.3 289.5,123.8 275.0,120.5 260.0,127.9" fill="url(#g264)" stroke="#140800" stroke-opacity="0.82" stroke-width="1.05" stroke-linejoin="round"/>
<polygon points="527.7,146.8 541.0,143.4 525.0,133.8 511.7,137.2" fill="url(#g265)" stroke="#140800" stroke-opacity="0.82" stroke-width="1.05" stroke-linejoin="round"/>
<polygon points="334.0,125.5 348.6,119.1 333.7,114.5 319.1,120.8" fill="url(#g266)" stroke="#140800" stroke-opacity="0.82" stroke-width="1.05" stroke-linejoin="round"/>
<polygon points="304.3,127.8 319.1,120.8 304.3,116.9 289.5,123.8" fill="url(#g267)" stroke="#140800" stroke-opacity="0.82" stroke-width="1.05" stroke-linejoin="round"/>
<polygon points="602.7,173.5 615.5,170.9 599.2,159.2 586.4,161.7" fill="url(#g268)" stroke="#140800" stroke-opacity="0.82" stroke-width="1.05" stroke-linejoin="round"/>
<polygon points="498.2,141.2 511.7,137.2 495.8,128.4 482.3,132.2" fill="url(#g269)" stroke="#140800" stroke-opacity="0.82" stroke-width="1.05" stroke-linejoin="round"/>
<polygon points="468.5,136.7 482.3,132.2 466.5,124.1 452.7,128.5" fill="url(#g270)" stroke="#140800" stroke-opacity="0.82" stroke-width="1.05" stroke-linejoin="round"/>
<polygon points="573.4,164.8 586.4,161.7 570.2,150.7 557.1,153.7" fill="url(#g271)" stroke="#140800" stroke-opacity="0.82" stroke-width="1.05" stroke-linejoin="round"/>
<polygon points="438.8,133.5 452.7,128.5 437.1,121.1 423.1,125.9" fill="url(#g272)" stroke="#140800" stroke-opacity="0.82" stroke-width="1.05" stroke-linejoin="round"/>
<polygon points="170.2,158.9 185.8,149.0 171.9,147.6 156.3,157.3" fill="url(#g273)" stroke="#140800" stroke-opacity="0.82" stroke-width="1.05" stroke-linejoin="round"/>
<polygon points="408.9,131.4 423.1,125.9 407.7,119.2 393.5,124.6" fill="url(#g274)" stroke="#140800" stroke-opacity="0.82" stroke-width="1.05" stroke-linejoin="round"/>
<polygon points="199.9,151.2 215.3,141.9 201.2,139.9 185.8,149.0" fill="url(#g275)" stroke="#140800" stroke-opacity="0.82" stroke-width="1.05" stroke-linejoin="round"/>
<polygon points="543.9,157.3 557.1,153.7 541.0,143.4 527.7,146.8" fill="url(#g276)" stroke="#140800" stroke-opacity="0.82" stroke-width="1.05" stroke-linejoin="round"/>
<polygon points="379.1,130.6 393.5,124.6 378.2,118.5 363.8,124.4" fill="url(#g277)" stroke="#140800" stroke-opacity="0.82" stroke-width="1.05" stroke-linejoin="round"/>
<polygon points="229.6,144.7 244.9,136.0 230.6,133.3 215.3,141.9" fill="url(#g278)" stroke="#140800" stroke-opacity="0.82" stroke-width="1.05" stroke-linejoin="round"/>
<polygon points="349.2,131.0 363.8,124.4 348.6,119.1 334.0,125.5" fill="url(#g279)" stroke="#140800" stroke-opacity="0.82" stroke-width="1.05" stroke-linejoin="round"/>
<polygon points="259.5,139.5 274.6,131.3 260.0,127.9 244.9,136.0" fill="url(#g280)" stroke="#140800" stroke-opacity="0.82" stroke-width="1.05" stroke-linejoin="round"/>
<polygon points="319.3,132.6 334.0,125.5 319.1,120.8 304.3,127.8" fill="url(#g281)" stroke="#140800" stroke-opacity="0.82" stroke-width="1.05" stroke-linejoin="round"/>
<polygon points="289.4,135.4 304.3,127.8 289.5,123.8 274.6,131.3" fill="url(#g282)" stroke="#140800" stroke-opacity="0.82" stroke-width="1.05" stroke-linejoin="round"/>
<polygon points="514.2,150.9 527.7,146.8 511.7,137.2 498.2,141.2" fill="url(#g283)" stroke="#140800" stroke-opacity="0.82" stroke-width="1.05" stroke-linejoin="round"/>
<polygon points="589.8,176.8 602.7,173.5 586.4,161.7 573.4,164.8" fill="url(#g284)" stroke="#140800" stroke-opacity="0.82" stroke-width="1.05" stroke-linejoin="round"/>
<polygon points="484.4,145.8 498.2,141.2 482.3,132.2 468.5,136.7" fill="url(#g285)" stroke="#140800" stroke-opacity="0.82" stroke-width="1.05" stroke-linejoin="round"/>
<polygon points="454.6,141.8 468.5,136.7 452.7,128.5 438.8,133.5" fill="url(#g286)" stroke="#140800" stroke-opacity="0.82" stroke-width="1.05" stroke-linejoin="round"/>
<polygon points="560.2,168.6 573.4,164.8 557.1,153.7 543.9,157.3" fill="url(#g287)" stroke="#140800" stroke-opacity="0.82" stroke-width="1.05" stroke-linejoin="round"/>
<polygon points="424.6,139.1 438.8,133.5 423.1,125.9 408.9,131.4" fill="url(#g288)" stroke="#140800" stroke-opacity="0.82" stroke-width="1.05" stroke-linejoin="round"/>
<polygon points="184.3,161.2 199.9,151.2 185.8,149.0 170.2,158.9" fill="url(#g289)" stroke="#140800" stroke-opacity="0.82" stroke-width="1.05" stroke-linejoin="round"/>
<polygon points="394.6,137.6 408.9,131.4 393.5,124.6 379.1,130.6" fill="url(#g290)" stroke="#140800" stroke-opacity="0.82" stroke-width="1.05" stroke-linejoin="round"/>
<polygon points="214.2,154.2 229.6,144.7 215.3,141.9 199.9,151.2" fill="url(#g291)" stroke="#140800" stroke-opacity="0.82" stroke-width="1.05" stroke-linejoin="round"/>
<polygon points="364.5,137.3 379.1,130.6 363.8,124.4 349.2,131.0" fill="url(#g292)" stroke="#140800" stroke-opacity="0.82" stroke-width="1.05" stroke-linejoin="round"/>
<polygon points="530.4,161.5 543.9,157.3 527.7,146.8 514.2,150.9" fill="url(#g293)" stroke="#140800" stroke-opacity="0.82" stroke-width="1.05" stroke-linejoin="round"/>
<polygon points="244.2,148.3 259.5,139.5 244.9,136.0 229.6,144.7" fill="url(#g294)" stroke="#140800" stroke-opacity="0.82" stroke-width="1.05" stroke-linejoin="round"/>
<polygon points="334.4,138.2 349.2,131.0 334.0,125.5 319.3,132.6" fill="url(#g295)" stroke="#140800" stroke-opacity="0.82" stroke-width="1.05" stroke-linejoin="round"/>
<polygon points="274.2,143.7 289.4,135.4 274.6,131.3 259.5,139.5" fill="url(#g296)" stroke="#140800" stroke-opacity="0.82" stroke-width="1.05" stroke-linejoin="round"/>
<polygon points="304.3,140.3 319.3,132.6 304.3,127.8 289.4,135.4" fill="url(#g297)" stroke="#140800" stroke-opacity="0.82" stroke-width="1.05" stroke-linejoin="round"/>
<polygon points="500.5,155.6 514.2,150.9 498.2,141.2 484.4,145.8" fill="url(#g298)" stroke="#140800" stroke-opacity="0.82" stroke-width="1.05" stroke-linejoin="round"/>
<polygon points="470.5,151.0 484.4,145.8 468.5,136.7 454.6,141.8" fill="url(#g299)" stroke="#140800" stroke-opacity="0.82" stroke-width="1.05" stroke-linejoin="round"/>
<polygon points="576.6,180.7 589.8,176.8 573.4,164.8 560.2,168.6" fill="url(#g300)" stroke="#140800" stroke-opacity="0.82" stroke-width="1.05" stroke-linejoin="round"/>
<polygon points="440.4,147.6 454.6,141.8 438.8,133.5 424.6,139.1" fill="url(#g301)" stroke="#140800" stroke-opacity="0.82" stroke-width="1.05" stroke-linejoin="round"/>
<polygon points="546.8,172.9 560.2,168.6 543.9,157.3 530.4,161.5" fill="url(#g302)" stroke="#140800" stroke-opacity="0.82" stroke-width="1.05" stroke-linejoin="round"/>
<polygon points="410.2,145.3 424.6,139.1 408.9,131.4 394.6,137.6" fill="url(#g303)" stroke="#140800" stroke-opacity="0.82" stroke-width="1.05" stroke-linejoin="round"/>
<polygon points="198.6,164.2 214.2,154.2 199.9,151.2 184.3,161.2" fill="url(#g304)" stroke="#140800" stroke-opacity="0.82" stroke-width="1.05" stroke-linejoin="round"/>
<polygon points="380.0,144.3 394.6,137.6 379.1,130.6 364.5,137.3" fill="url(#g305)" stroke="#140800" stroke-opacity="0.82" stroke-width="1.05" stroke-linejoin="round"/>
<polygon points="228.7,157.9 244.2,148.3 229.6,144.7 214.2,154.2" fill="url(#g306)" stroke="#140800" stroke-opacity="0.82" stroke-width="1.05" stroke-linejoin="round"/>
<polygon points="349.7,144.6 364.5,137.3 349.2,131.0 334.4,138.2" fill="url(#g307)" stroke="#140800" stroke-opacity="0.82" stroke-width="1.05" stroke-linejoin="round"/>
<polygon points="258.9,152.7 274.2,143.7 259.5,139.5 244.2,148.3" fill="url(#g308)" stroke="#140800" stroke-opacity="0.82" stroke-width="1.05" stroke-linejoin="round"/>
<polygon points="319.5,146.1 334.4,138.2 319.3,132.6 304.3,140.3" fill="url(#g309)" stroke="#140800" stroke-opacity="0.82" stroke-width="1.05" stroke-linejoin="round"/>
<polygon points="289.2,148.8 304.3,140.3 289.4,135.4 274.2,143.7" fill="url(#g310)" stroke="#140800" stroke-opacity="0.82" stroke-width="1.05" stroke-linejoin="round"/>
<polygon points="516.8,166.4 530.4,161.5 514.2,150.9 500.5,155.6" fill="url(#g311)" stroke="#140800" stroke-opacity="0.82" stroke-width="1.05" stroke-linejoin="round"/>
<polygon points="486.7,161.0 500.5,155.6 484.4,145.8 470.5,151.0" fill="url(#g312)" stroke="#140800" stroke-opacity="0.82" stroke-width="1.05" stroke-linejoin="round"/>
<polygon points="456.4,156.9 470.5,151.0 454.6,141.8 440.4,147.6" fill="url(#g313)" stroke="#140800" stroke-opacity="0.82" stroke-width="1.05" stroke-linejoin="round"/>
<polygon points="563.3,185.2 576.6,180.7 560.2,168.6 546.8,172.9" fill="url(#g314)" stroke="#140800" stroke-opacity="0.82" stroke-width="1.05" stroke-linejoin="round"/>
<polygon points="426.1,153.9 440.4,147.6 424.6,139.1 410.2,145.3" fill="url(#g315)" stroke="#140800" stroke-opacity="0.82" stroke-width="1.05" stroke-linejoin="round"/>
<polygon points="395.7,152.3 410.2,145.3 394.6,137.6 380.0,144.3" fill="url(#g316)" stroke="#140800" stroke-opacity="0.82" stroke-width="1.05" stroke-linejoin="round"/>
<polygon points="213.1,168.1 228.7,157.9 214.2,154.2 198.6,164.2" fill="url(#g317)" stroke="#140800" stroke-opacity="0.82" stroke-width="1.05" stroke-linejoin="round"/>
<polygon points="533.2,177.9 546.8,172.9 530.4,161.5 516.8,166.4" fill="url(#g318)" stroke="#140800" stroke-opacity="0.82" stroke-width="1.05" stroke-linejoin="round"/>
<polygon points="365.3,151.8 380.0,144.3 364.5,137.3 349.7,144.6" fill="url(#g319)" stroke="#140800" stroke-opacity="0.82" stroke-width="1.05" stroke-linejoin="round"/>
<polygon points="243.5,162.4 258.9,152.7 244.2,148.3 228.7,157.9" fill="url(#g320)" stroke="#140800" stroke-opacity="0.82" stroke-width="1.05" stroke-linejoin="round"/>
<polygon points="334.8,152.6 349.7,144.6 334.4,138.2 319.5,146.1" fill="url(#g321)" stroke="#140800" stroke-opacity="0.82" stroke-width="1.05" stroke-linejoin="round"/>
<polygon points="273.9,157.9 289.2,148.8 274.2,143.7 258.9,152.7" fill="url(#g322)" stroke="#140800" stroke-opacity="0.82" stroke-width="1.05" stroke-linejoin="round"/>
<polygon points="304.3,154.6 319.5,146.1 304.3,140.3 289.2,148.8" fill="url(#g323)" stroke="#140800" stroke-opacity="0.82" stroke-width="1.05" stroke-linejoin="round"/>
<polygon points="502.9,171.9 516.8,166.4 500.5,155.6 486.7,161.0" fill="url(#g324)" stroke="#140800" stroke-opacity="0.82" stroke-width="1.05" stroke-linejoin="round"/>
<polygon points="472.6,167.0 486.7,161.0 470.5,151.0 456.4,156.9" fill="url(#g325)" stroke="#140800" stroke-opacity="0.82" stroke-width="1.05" stroke-linejoin="round"/>
<polygon points="442.1,163.4 456.4,156.9 440.4,147.6 426.1,153.9" fill="url(#g326)" stroke="#140800" stroke-opacity="0.82" stroke-width="1.05" stroke-linejoin="round"/>
<polygon points="549.7,190.4 563.3,185.2 546.8,172.9 533.2,177.9" fill="url(#g327)" stroke="#140800" stroke-opacity="0.82" stroke-width="1.05" stroke-linejoin="round"/>
<polygon points="411.6,161.0 426.1,153.9 410.2,145.3 395.7,152.3" fill="url(#g328)" stroke="#140800" stroke-opacity="0.82" stroke-width="1.05" stroke-linejoin="round"/>
<polygon points="381.0,159.9 395.7,152.3 380.0,144.3 365.3,151.8" fill="url(#g329)" stroke="#140800" stroke-opacity="0.82" stroke-width="1.05" stroke-linejoin="round"/>
<polygon points="227.8,172.7 243.5,162.4 228.7,157.9 213.1,168.1" fill="url(#g330)" stroke="#140800" stroke-opacity="0.82" stroke-width="1.05" stroke-linejoin="round"/>
<polygon points="350.3,159.9 365.3,151.8 349.7,144.6 334.8,152.6" fill="url(#g331)" stroke="#140800" stroke-opacity="0.82" stroke-width="1.05" stroke-linejoin="round"/>
<polygon points="258.4,167.7 273.9,157.9 258.9,152.7 243.5,162.4" fill="url(#g332)" stroke="#140800" stroke-opacity="0.82" stroke-width="1.05" stroke-linejoin="round"/>
<polygon points="519.4,183.6 533.2,177.9 516.8,166.4 502.9,171.9" fill="url(#g333)" stroke="#140800" stroke-opacity="0.82" stroke-width="1.05" stroke-linejoin="round"/>
<polygon points="319.7,161.3 334.8,152.6 319.5,146.1 304.3,154.6" fill="url(#g334)" stroke="#140800" stroke-opacity="0.82" stroke-width="1.05" stroke-linejoin="round"/>
<polygon points="289.0,163.8 304.3,154.6 289.2,148.8 273.9,157.9" fill="url(#g335)" stroke="#140800" stroke-opacity="0.82" stroke-width="1.05" stroke-linejoin="round"/>
<polygon points="488.9,178.0 502.9,171.9 486.7,161.0 472.6,167.0" fill="url(#g336)" stroke="#140800" stroke-opacity="0.82" stroke-width="1.05" stroke-linejoin="round"/>
<polygon points="458.3,173.7 472.6,167.0 456.4,156.9 442.1,163.4" fill="url(#g337)" stroke="#140800" stroke-opacity="0.82" stroke-width="1.05" stroke-linejoin="round"/>
<polygon points="427.6,170.6 442.1,163.4 426.1,153.9 411.6,161.0" fill="url(#g338)" stroke="#140800" stroke-opacity="0.82" stroke-width="1.05" stroke-linejoin="round"/>
<polygon points="396.9,168.7 411.6,161.0 395.7,152.3 381.0,159.9" fill="url(#g339)" stroke="#140800" stroke-opacity="0.82" stroke-width="1.05" stroke-linejoin="round"/>
<polygon points="535.9,196.2 549.7,190.4 533.2,177.9 519.4,183.6" fill="url(#g340)" stroke="#140800" stroke-opacity="0.82" stroke-width="1.05" stroke-linejoin="round"/>
<polygon points="366.1,168.1 381.0,159.9 365.3,151.8 350.3,159.9" fill="url(#g341)" stroke="#140800" stroke-opacity="0.82" stroke-width="1.05" stroke-linejoin="round"/>
<polygon points="242.8,178.2 258.4,167.7 243.5,162.4 227.8,172.7" fill="url(#g342)" stroke="#140800" stroke-opacity="0.82" stroke-width="1.05" stroke-linejoin="round"/>
<polygon points="335.2,168.8 350.3,159.9 334.8,152.6 319.7,161.3" fill="url(#g343)" stroke="#140800" stroke-opacity="0.82" stroke-width="1.05" stroke-linejoin="round"/>
<polygon points="273.6,173.8 289.0,163.8 273.9,157.9 258.4,167.7" fill="url(#g344)" stroke="#140800" stroke-opacity="0.82" stroke-width="1.05" stroke-linejoin="round"/>
<polygon points="304.4,170.6 319.7,161.3 304.3,154.6 289.0,163.8" fill="url(#g345)" stroke="#140800" stroke-opacity="0.82" stroke-width="1.05" stroke-linejoin="round"/>
<polygon points="505.4,189.9 519.4,183.6 502.9,171.9 488.9,178.0" fill="url(#g346)" stroke="#140800" stroke-opacity="0.82" stroke-width="1.05" stroke-linejoin="round"/>
<polygon points="474.6,184.9 488.9,178.0 472.6,167.0 458.3,173.7" fill="url(#g347)" stroke="#140800" stroke-opacity="0.82" stroke-width="1.05" stroke-linejoin="round"/>
<polygon points="443.8,181.0 458.3,173.7 442.1,163.4 427.6,170.6" fill="url(#g348)" stroke="#140800" stroke-opacity="0.82" stroke-width="1.05" stroke-linejoin="round"/>
<polygon points="412.9,178.5 427.6,170.6 411.6,161.0 396.9,168.7" fill="url(#g349)" stroke="#140800" stroke-opacity="0.82" stroke-width="1.05" stroke-linejoin="round"/>
<polygon points="382.0,177.2 396.9,168.7 381.0,159.9 366.1,168.1" fill="url(#g350)" stroke="#140800" stroke-opacity="0.82" stroke-width="1.05" stroke-linejoin="round"/>
<polygon points="522.0,202.6 535.9,196.2 519.4,183.6 505.4,189.9" fill="url(#g351)" stroke="#140800" stroke-opacity="0.82" stroke-width="1.05" stroke-linejoin="round"/>
<polygon points="351.0,177.1 366.1,168.1 350.3,159.9 335.2,168.8" fill="url(#g352)" stroke="#140800" stroke-opacity="0.82" stroke-width="1.05" stroke-linejoin="round"/>
<polygon points="257.9,184.4 273.6,173.8 258.4,167.7 242.8,178.2" fill="url(#g353)" stroke="#140800" stroke-opacity="0.82" stroke-width="1.05" stroke-linejoin="round"/>
<polygon points="319.9,178.3 335.2,168.8 319.7,161.3 304.4,170.6" fill="url(#g354)" stroke="#140800" stroke-opacity="0.82" stroke-width="1.05" stroke-linejoin="round"/>
<polygon points="288.9,180.7 304.4,170.6 289.0,163.8 273.6,173.8" fill="url(#g355)" stroke="#140800" stroke-opacity="0.82" stroke-width="1.05" stroke-linejoin="round"/>
<polygon points="491.1,196.9 505.4,189.9 488.9,178.0 474.6,184.9" fill="url(#g356)" stroke="#140800" stroke-opacity="0.82" stroke-width="1.05" stroke-linejoin="round"/>
<polygon points="460.2,192.4 474.6,184.9 458.3,173.7 443.8,181.0" fill="url(#g357)" stroke="#140800" stroke-opacity="0.82" stroke-width="1.05" stroke-linejoin="round"/>
<polygon points="429.2,189.1 443.8,181.0 427.6,170.6 412.9,178.5" fill="url(#g358)" stroke="#140800" stroke-opacity="0.82" stroke-width="1.05" stroke-linejoin="round"/>
<polygon points="398.0,187.0 412.9,178.5 396.9,168.7 382.0,177.2" fill="url(#g359)" stroke="#140800" stroke-opacity="0.82" stroke-width="1.05" stroke-linejoin="round"/>
<polygon points="366.9,186.3 382.0,177.2 366.1,168.1 351.0,177.1" fill="url(#g360)" stroke="#140800" stroke-opacity="0.82" stroke-width="1.05" stroke-linejoin="round"/>
<polygon points="335.7,186.8 351.0,177.1 335.2,168.8 319.9,178.3" fill="url(#g361)" stroke="#140800" stroke-opacity="0.82" stroke-width="1.05" stroke-linejoin="round"/>
<polygon points="273.3,191.5 288.9,180.7 273.6,173.8 257.9,184.4" fill="url(#g362)" stroke="#140800" stroke-opacity="0.82" stroke-width="1.05" stroke-linejoin="round"/>
<polygon points="304.5,188.5 319.9,178.3 304.4,170.6 288.9,180.7" fill="url(#g363)" stroke="#140800" stroke-opacity="0.82" stroke-width="1.05" stroke-linejoin="round"/>
<polygon points="507.8,209.8 522.0,202.6 505.4,189.9 491.1,196.9" fill="url(#g364)" stroke="#140800" stroke-opacity="0.82" stroke-width="1.05" stroke-linejoin="round"/>
<polygon points="476.7,204.5 491.1,196.9 474.6,184.9 460.2,192.4" fill="url(#g365)" stroke="#140800" stroke-opacity="0.82" stroke-width="1.05" stroke-linejoin="round"/>
<polygon points="445.6,200.5 460.2,192.4 443.8,181.0 429.2,189.1" fill="url(#g366)" stroke="#140800" stroke-opacity="0.82" stroke-width="1.05" stroke-linejoin="round"/>
<polygon points="414.3,197.8 429.2,189.1 412.9,178.5 398.0,187.0" fill="url(#g367)" stroke="#140800" stroke-opacity="0.82" stroke-width="1.05" stroke-linejoin="round"/>
<polygon points="383.0,196.3 398.0,187.0 382.0,177.2 366.9,186.3" fill="url(#g368)" stroke="#140800" stroke-opacity="0.82" stroke-width="1.05" stroke-linejoin="round"/>
<polygon points="351.6,196.1 366.9,186.3 351.0,177.1 335.7,186.8" fill="url(#g369)" stroke="#140800" stroke-opacity="0.82" stroke-width="1.05" stroke-linejoin="round"/>
<polygon points="320.2,197.1 335.7,186.8 319.9,178.3 304.5,188.5" fill="url(#g370)" stroke="#140800" stroke-opacity="0.82" stroke-width="1.05" stroke-linejoin="round"/>
<polygon points="288.8,199.4 304.5,188.5 288.9,180.7 273.3,191.5" fill="url(#g371)" stroke="#140800" stroke-opacity="0.82" stroke-width="1.05" stroke-linejoin="round"/>
<polygon points="493.4,217.6 507.8,209.8 491.1,196.9 476.7,204.5" fill="url(#g372)" stroke="#140800" stroke-opacity="0.82" stroke-width="1.05" stroke-linejoin="round"/>
<polygon points="462.1,212.9 476.7,204.5 460.2,192.4 445.6,200.5" fill="url(#g373)" stroke="#140800" stroke-opacity="0.82" stroke-width="1.05" stroke-linejoin="round"/>
<polygon points="430.7,209.4 445.6,200.5 429.2,189.1 414.3,197.8" fill="url(#g374)" stroke="#140800" stroke-opacity="0.82" stroke-width="1.05" stroke-linejoin="round"/>
<polygon points="399.3,207.2 414.3,197.8 398.0,187.0 383.0,196.3" fill="url(#g375)" stroke="#140800" stroke-opacity="0.82" stroke-width="1.05" stroke-linejoin="round"/>
<polygon points="367.7,206.3 383.0,196.3 366.9,186.3 351.6,196.1" fill="url(#g376)" stroke="#140800" stroke-opacity="0.82" stroke-width="1.05" stroke-linejoin="round"/>
<polygon points="336.2,206.6 351.6,196.1 335.7,186.8 320.2,197.1" fill="url(#g377)" stroke="#140800" stroke-opacity="0.82" stroke-width="1.05" stroke-linejoin="round"/>
<polygon points="304.6,208.2 320.2,197.1 304.5,188.5 288.8,199.4" fill="url(#g378)" stroke="#140800" stroke-opacity="0.82" stroke-width="1.05" stroke-linejoin="round"/>
<polygon points="478.9,226.1 493.4,217.6 476.7,204.5 462.1,212.9" fill="url(#g379)" stroke="#140800" stroke-opacity="0.82" stroke-width="1.05" stroke-linejoin="round"/>
<polygon points="447.3,221.9 462.1,212.9 445.6,200.5 430.7,209.4" fill="url(#g380)" stroke="#140800" stroke-opacity="0.82" stroke-width="1.05" stroke-linejoin="round"/>
<polygon points="415.7,219.0 430.7,209.4 414.3,197.8 399.3,207.2" fill="url(#g381)" stroke="#140800" stroke-opacity="0.82" stroke-width="1.05" stroke-linejoin="round"/>
<polygon points="384.0,217.4 399.3,207.2 383.0,196.3 367.7,206.3" fill="url(#g382)" stroke="#140800" stroke-opacity="0.82" stroke-width="1.05" stroke-linejoin="round"/>
<polygon points="352.3,217.0 367.7,206.3 351.6,196.1 336.2,206.6" fill="url(#g383)" stroke="#140800" stroke-opacity="0.82" stroke-width="1.05" stroke-linejoin="round"/>
<polygon points="320.5,217.9 336.2,206.6 320.2,197.1 304.6,208.2" fill="url(#g384)" stroke="#140800" stroke-opacity="0.82" stroke-width="1.05" stroke-linejoin="round"/>
<polygon points="464.1,235.3 478.9,226.1 462.1,212.9 447.3,221.9" fill="url(#g385)" stroke="#140800" stroke-opacity="0.82" stroke-width="1.05" stroke-linejoin="round"/>
<polygon points="432.3,231.7 447.3,221.9 430.7,209.4 415.7,219.0" fill="url(#g386)" stroke="#140800" stroke-opacity="0.82" stroke-width="1.05" stroke-linejoin="round"/>
<polygon points="400.5,229.3 415.7,219.0 399.3,207.2 384.0,217.4" fill="url(#g387)" stroke="#140800" stroke-opacity="0.82" stroke-width="1.05" stroke-linejoin="round"/>
<polygon points="368.6,228.2 384.0,217.4 367.7,206.3 352.3,217.0" fill="url(#g388)" stroke="#140800" stroke-opacity="0.82" stroke-width="1.05" stroke-linejoin="round"/>
<polygon points="336.7,228.4 352.3,217.0 336.2,206.6 320.5,217.9" fill="url(#g389)" stroke="#140800" stroke-opacity="0.82" stroke-width="1.05" stroke-linejoin="round"/>
<polygon points="449.1,245.3 464.1,235.3 447.3,221.9 432.3,231.7" fill="url(#g390)" stroke="#140800" stroke-opacity="0.82" stroke-width="1.05" stroke-linejoin="round"/>
<polygon points="417.1,242.2 432.3,231.7 415.7,219.0 400.5,229.3" fill="url(#g391)" stroke="#140800" stroke-opacity="0.82" stroke-width="1.05" stroke-linejoin="round"/>
<polygon points="385.1,240.4 400.5,229.3 384.0,217.4 368.6,228.2" fill="url(#g392)" stroke="#140800" stroke-opacity="0.82" stroke-width="1.05" stroke-linejoin="round"/>
<polygon points="353.0,239.8 368.6,228.2 352.3,217.0 336.7,228.4" fill="url(#g393)" stroke="#140800" stroke-opacity="0.82" stroke-width="1.05" stroke-linejoin="round"/>
<polygon points="434.0,256.0 449.1,245.3 432.3,231.7 417.1,242.2" fill="url(#g394)" stroke="#140800" stroke-opacity="0.82" stroke-width="1.05" stroke-linejoin="round"/>
<polygon points="401.8,253.4 417.1,242.2 400.5,229.3 385.1,240.4" fill="url(#g395)" stroke="#140800" stroke-opacity="0.82" stroke-width="1.05" stroke-linejoin="round"/>
<polygon points="369.5,252.2 385.1,240.4 368.6,228.2 353.0,239.8" fill="url(#g396)" stroke="#140800" stroke-opacity="0.82" stroke-width="1.05" stroke-linejoin="round"/>
<polygon points="418.6,267.4 434.0,256.0 417.1,242.2 401.8,253.4" fill="url(#g397)" stroke="#140800" stroke-opacity="0.82" stroke-width="1.05" stroke-linejoin="round"/>
<polygon points="386.2,265.4 401.8,253.4 385.1,240.4 369.5,252.2" fill="url(#g398)" stroke="#140800" stroke-opacity="0.82" stroke-width="1.05" stroke-linejoin="round"/>
<polygon points="403.1,279.5 418.6,267.4 401.8,253.4 386.2,265.4" fill="url(#g399)" stroke="#140800" stroke-opacity="0.82" stroke-width="1.05" stroke-linejoin="round"/>
</g>
<rect x="389.9" y="104.5" width="3.6" height="3.2" fill="#700000"/>
<circle cx="391.3" cy="100.7" r="5.5" fill="#c40000" stroke="#2a0000" stroke-width="1.3"/>
<text transform="translate(80.86,312.03) scale(1.049,1)" font-size="18.3" fill="#333333">70</text>
<text transform="translate(78.12,260.96) scale(1.049,1)" font-size="18.3" fill="#333333">75</text>
<text transform="translate(75.58,209.89) scale(1.039,1)" font-size="18.3" fill="#333333">80</text>
<text transform="translate(72.85,158.82) scale(1.039,1)" font-size="18.3" fill="#333333">85</text>
<text transform="translate(70.11,107.75) scale(1.039,1)" font-size="18.3" fill="#333333">90</text>
<text transform="translate(67.37,56.68) scale(1.039,1)" font-size="18.3" fill="#333333">95</text>
<text transform="translate(85.87,414.80) scale(1.037,1)" font-size="18.3" fill="#333333">15</text>
<text transform="translate(143.42,438.00) scale(0.999,1)" font-size="18.3" fill="#333333">13</text>
<text transform="translate(199.12,460.20) scale(1.079,1)" font-size="18.3" fill="#333333">11</text>
<text transform="translate(266.82,483.20) scale(1.070,1)" font-size="18.3" fill="#333333">9</text>
<text transform="translate(323.82,505.40) scale(0.962,1)" font-size="18.3" fill="#333333">7</text>
<text transform="translate(380.77,528.50) scale(0.865,1)" font-size="18.3" fill="#333333">5</text>
<text transform="translate(413.64,528.50) scale(0.899,1)" font-size="18.3" fill="#333333">5</text>
<text transform="translate(478.94,498.40) scale(0.902,1)" font-size="18.3" fill="#333333">5.5</text>
<text transform="translate(545.41,468.30) scale(0.977,1)" font-size="18.3" fill="#333333">6</text>
<text transform="translate(610.25,438.40) scale(0.930,1)" font-size="18.3" fill="#333333">6.5</text>
<text transform="translate(676.32,408.00) scale(0.962,1)" font-size="18.3" fill="#333333">7</text>
<text transform="translate(102.24,505.60) scale(1.049,1)" font-size="18.3" fill="#333333">C: dose (g/L)</text>
<text transform="translate(617.60,498.40) scale(1.026,1)" font-size="18.3" fill="#333333">A: pH</text>
<text transform="translate(13.9,349.40) rotate(-90) scale(0.826,1)" font-size="19.3" fill="#333333">COD REMOVAL EFICANCY (%)</text>
</svg>
</body></html>
